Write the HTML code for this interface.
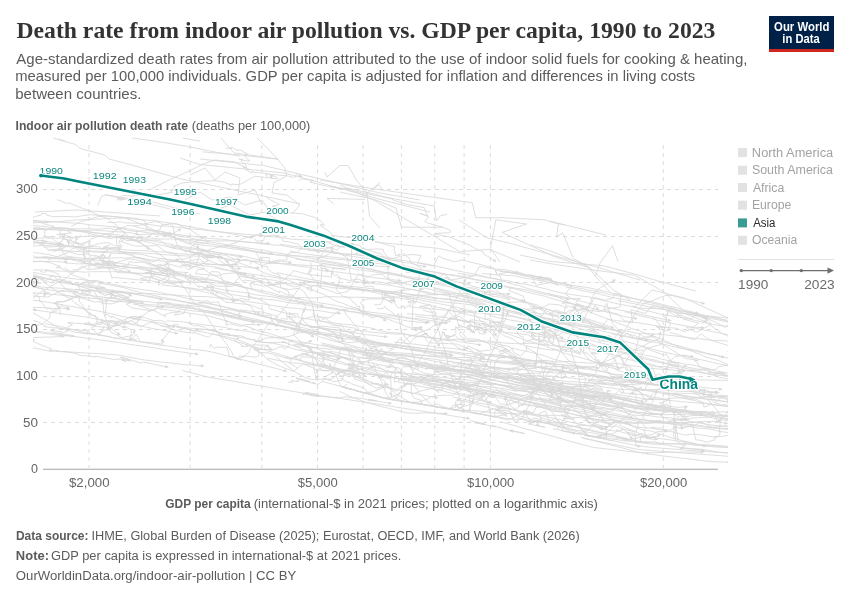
<!DOCTYPE html>
<html><head><meta charset="utf-8"><title>Death rate from indoor air pollution vs. GDP per capita</title>
<style>
html,body{margin:0;padding:0;background:#fff;}
body{width:850px;height:600px;overflow:hidden;position:relative;}
svg{position:absolute;left:0;top:0;display:block;}
</style></head><body>
<svg width="850" height="600" viewBox="0 0 850 600">
<rect x="769" y="16" width="65" height="36" fill="#002147"/>
<rect x="769" y="49" width="65" height="3" fill="#ce261e"/>
<rect x="738" y="148.1" width="9" height="9" fill="#e2e2e2"/>
<rect x="738" y="165.7" width="9" height="9" fill="#e2e2e2"/>
<rect x="738" y="183.0" width="9" height="9" fill="#e2e2e2"/>
<rect x="738" y="200.7" width="9" height="9" fill="#e2e2e2"/>
<rect x="738" y="218.4" width="9" height="9" fill="#3a9b94"/>
<rect x="738" y="235.8" width="9" height="9" fill="#e2e2e2"/>
<line x1="738" x2="834" y1="259.5" y2="259.5" stroke="#e3e3e3" stroke-width="1"/>
<g fill="#6e6e6e" stroke="#6e6e6e">
<line x1="741" x2="829" y1="270.6" y2="270.6" stroke-width="1.2"/>
<circle cx="741.3" cy="270.6" r="1.7" stroke="none"/>
<circle cx="771.2" cy="270.6" r="1.7" stroke="none"/>
<circle cx="801.3" cy="270.6" r="1.7" stroke="none"/>
<path d="M827.5,267.4 L834,270.6 L827.5,273.8 Z" stroke="none"/>
</g>
<g stroke="#dcdcdc" stroke-width="1" stroke-dasharray="4,4" fill="none">
<line x1="43" x2="718" y1="189.5" y2="189.5"/>
<line x1="43" x2="718" y1="236.5" y2="236.5"/>
<line x1="43" x2="718" y1="282.5" y2="282.5"/>
<line x1="43" x2="718" y1="329.5" y2="329.5"/>
<line x1="43" x2="718" y1="376.5" y2="376.5"/>
<line x1="43" x2="718" y1="422.5" y2="422.5"/>
<line x1="89.00" x2="89.00" y1="145" y2="468"/>
<line x1="190.12" x2="190.12" y1="145" y2="468"/>
<line x1="261.87" x2="261.87" y1="145" y2="468"/>
<line x1="317.52" x2="317.52" y1="145" y2="468"/>
<line x1="362.99" x2="362.99" y1="145" y2="468"/>
<line x1="401.43" x2="401.43" y1="145" y2="468"/>
<line x1="434.73" x2="434.73" y1="145" y2="468"/>
<line x1="464.11" x2="464.11" y1="145" y2="468"/>
<line x1="490.38" x2="490.38" y1="145" y2="468"/>
<line x1="663.25" x2="663.25" y1="145" y2="468"/>
</g>
<line x1="43" x2="718" y1="469.2" y2="469.2" stroke="#a4a4a4" stroke-width="1.1"/>
<clipPath id="pc"><rect x="33" y="137" width="695" height="332"/></clipPath>
<g clip-path="url(#pc)"><g fill="none" stroke="#d8d8d8" stroke-width="0.85" stroke-linejoin="round"><path d="M274.8,355.4 L282.1,361.9 L290.4,368.2 L296.0,372.6 L304.5,377.1 L309.6,378.9 L314.9,379.8 L320.1,379.2 L330.1,379.1 L329.2,379.6 L333.9,377.5 L340.9,371.8 L343.0,371.5 L356.8,364.7 L365.5,361.6 L365.6,361.3 L372.2,360.1 L375.9,358.5 L378.6,357.4 L385.2,354.2 L389.5,351.0 L399.1,345.5 L402.2,342.7 L406.6,339.1 L408.8,336.5 L415.0,335.1 L420.0,332.3 L427.3,329.9 L429.4,328.5 L433.8,325.8 L442.9,323.4 L450.1,317.8 L455.2,316.2 L464.2,311.1"/><path d="M409.0,306.6 L422.1,308.2 L435.2,309.1 L444.5,309.9 L456.5,311.3 L466.0,311.8 L474.4,312.9 L481.5,313.4 L490.9,313.9 L502.6,315.1 L516.0,317.0 L529.0,319.4 L539.7,320.4 L554.2,323.3 L562.6,323.9 L570.9,324.7 L583.0,326.3 L592.3,327.1 L604.1,328.3 L615.2,330.5 L627.4,331.1 L637.4,333.5 L644.5,333.4 L653.1,333.8 L661.9,334.4 L676.2,336.1 L689.0,337.7 L700.2,338.9 L712.1,340.3 L719.0,340.4 L727.0,341.1 L737.4,342.0 L746.1,342.3 L756.7,342.9"/><path d="M650.9,427.2 L658.3,428.3 L660.9,427.7 L664.1,429.9 L667.3,429.7 L670.1,430.4 L675.1,427.2 L681.6,428.2 L692.8,425.8 L695.6,439.8 L701.0,440.3 L706.8,442.3 L714.9,439.7 L715.4,436.0 L715.0,437.3 L716.8,436.9 L718.0,435.9 L719.7,435.0 L720.2,431.3 L719.3,432.1 L720.7,418.4 L725.5,415.6 L727.5,411.1 L728.2,412.8 L731.7,405.1 L736.3,402.9 L728.1,403.7 L727.5,399.6 L729.9,397.2 L733.4,406.3 L733.8,406.1 L738.2,405.1 L742.2,399.6 L740.5,396.8"/><path d="M476.8,348.6 L478.3,351.7 L479.3,351.0 L483.5,354.9 L494.5,354.6 L498.2,355.2 L508.9,350.9 L512.1,348.5 L513.9,352.6 L520.4,356.0 L526.9,350.0 L526.0,345.5 L531.2,346.9 L532.9,347.2 L553.3,350.4 L552.6,348.7 L561.5,350.4 L571.3,348.6 L579.0,344.8 L589.5,343.2 L598.5,346.9 L609.8,352.5 L613.2,356.8 L614.0,359.4 L617.0,354.7 L622.3,358.1 L624.0,364.8 L630.9,367.5 L630.4,369.8 L633.2,373.7 L634.0,374.2 L638.6,377.1 L641.2,375.7 L647.4,375.0"/><path d="M176.8,258.3 L178.0,261.7 L184.3,262.4 L199.6,258.9 L200.2,259.2 L205.0,264.1 L217.7,264.5 L222.3,264.4 L229.1,265.1 L234.9,271.9 L243.3,275.7 L260.7,281.0 L264.6,278.1 L274.7,285.7 L268.6,284.4 L284.0,283.6 L294.2,286.9 L300.0,285.7 L298.1,284.6 L303.9,282.0 L311.3,287.3 L312.1,291.3 L306.6,288.4 L314.2,285.5 L328.2,290.2 L337.7,293.6 L347.9,291.5 L358.6,273.8 L368.0,277.2 L372.3,275.0 L382.1,274.1 L385.8,277.7 L391.3,279.5 L399.3,280.6"/><path d="M457.6,273.1 L468.3,275.1 L478.0,275.8 L485.5,277.3 L492.2,278.5 L502.5,280.0 L509.1,281.0 L516.6,283.1 L526.1,284.3 L535.0,286.4 L545.9,288.9 L557.3,292.0 L565.8,293.6 L571.6,294.5 L582.5,296.2 L587.6,296.6 L597.9,299.1 L604.3,300.7 L613.5,302.8 L620.1,304.4 L628.8,305.9 L637.8,308.0 L644.4,310.4 L650.1,311.4 L660.6,314.2 L668.9,315.6 L677.9,317.0 L683.8,318.0 L694.3,320.2 L706.1,322.8 L712.8,324.6 L720.9,325.6 L727.6,326.2 L737.5,328.1"/><path d="M374.4,304.8 L380.4,304.7 L383.8,298.2 L392.3,303.2 L388.4,300.9 L393.7,299.8 L393.8,296.5 L393.2,297.0 L393.5,299.5 L393.0,300.6 L384.6,294.5 L385.7,292.4 L382.3,292.6 L382.4,298.9 L390.5,300.8 L393.8,302.0 L398.3,308.1 L404.4,305.9 L404.2,308.6 L406.9,306.9 L411.2,303.8 L408.6,301.0 L408.0,302.5 L411.3,301.6 L415.5,303.0 L417.2,298.3 L420.6,287.2 L420.8,287.7 L420.5,290.4 L420.9,289.9 L422.6,289.1 L424.6,288.2 L425.3,283.0 L427.9,279.2"/><path d="M267.3,358.2 L282.3,361.2 L292.6,363.0 L300.0,363.3 L309.5,364.9 L317.2,365.4 L329.0,368.1 L341.6,370.3 L354.0,372.5 L360.5,373.0 L373.4,375.1 L386.0,377.0 L399.1,378.4 L409.3,378.8 L417.4,379.0 L424.2,379.4 L435.3,380.2 L444.3,380.1 L458.2,381.9 L468.0,382.2 L481.9,384.0 L490.2,384.5 L499.0,384.7 L508.8,385.6 L519.1,387.0 L527.7,388.2 L537.1,389.1 L547.8,390.0 L557.2,391.3 L571.2,393.0 L578.1,393.4 L586.7,394.8 L598.3,397.8 L610.2,399.1"/><path d="M26.1,299.5 L41.0,301.1 L57.2,303.9 L71.4,306.4 L83.8,308.8 L94.0,310.3 L104.9,312.4 L112.1,313.9 L121.4,316.3 L130.3,317.8 L146.8,320.8 L162.6,323.4 L170.8,325.9 L181.6,328.0 L191.8,330.3 L203.5,332.1 L218.0,335.3 L227.2,338.7 L240.2,342.6 L250.8,346.0 L262.2,349.1 L274.9,353.0 L291.4,357.9 L307.9,363.3 L321.3,366.9 L334.4,370.4 L349.2,374.9 L360.6,379.1 L372.0,382.6 L380.1,385.4 L396.2,389.4 L406.7,391.8 L421.2,394.8 L436.1,397.7"/><path d="M47.8,250.1 L60.2,250.7 L74.1,251.4 L84.2,251.9 L92.5,251.1 L106.7,251.6 L117.2,252.0 L128.4,252.6 L136.3,252.7 L147.5,253.3 L154.2,253.7 L162.8,254.5 L174.0,255.3 L184.7,255.9 L193.2,256.0 L204.1,256.3 L212.1,257.0 L222.9,258.1 L229.2,259.2 L243.3,260.2 L257.4,261.9 L268.0,263.1 L278.0,263.6 L286.1,263.6 L296.3,264.7 L310.2,265.6 L319.7,265.8 L326.2,264.8 L337.6,265.2 L351.1,266.0 L359.8,266.2 L367.3,265.1 L380.4,266.5 L388.5,266.7"/><path d="M-85.7,279.7 L-80.3,283.5 L-77.7,287.8 L-71.3,291.8 L-62.7,297.1 L-58.5,299.9 L-47.9,307.3 L-37.3,313.5 L-33.7,318.0 L-27.9,322.0 L-18.1,322.7 L-16.8,322.6 L-11.8,321.5 L-14.9,322.4 L-20.0,323.2 L-11.0,320.2 L-9.1,318.0 L-5.9,317.2 L-3.1,316.3 L4.4,311.0 L2.6,312.6 L13.1,306.4 L22.0,302.9 L32.7,298.3 L40.4,292.5 L54.9,284.0 L65.4,278.7 L70.2,274.6 L77.1,270.7 L78.1,269.9 L87.6,265.2 L92.4,260.5 L100.0,256.2 L102.1,255.5"/><path d="M377.7,307.5 L378.0,309.0 L380.9,308.3 L382.3,308.7 L385.3,306.4 L385.5,307.7 L393.2,313.3 L393.7,313.7 L395.2,315.8 L396.1,316.5 L398.5,313.6 L401.5,333.1 L404.5,335.1 L404.2,336.0 L410.3,342.9 L414.1,338.0 L427.2,333.1 L422.6,335.0 L429.0,342.7 L438.3,343.3 L448.6,343.6 L456.8,344.2 L471.4,349.7 L475.3,357.1 L476.0,353.6 L482.7,357.4 L479.7,360.3 L480.7,356.0 L480.4,357.0 L481.3,359.3 L480.1,361.2 L479.1,360.2 L484.9,363.2 L486.5,364.9"/><path d="M433.0,320.2 L442.1,316.8 L446.1,314.5 L448.7,309.5 L449.4,312.5 L457.1,319.5 L466.8,322.4 L467.1,323.0 L469.7,320.3 L473.1,319.9 L485.1,322.0 L490.9,327.8 L489.5,321.7 L495.8,324.3 L499.7,329.7 L505.5,332.5 L513.1,333.0 L518.4,333.8 L527.6,334.6 L534.5,339.0 L532.7,339.2 L536.0,340.2 L538.0,339.4 L543.1,340.9 L544.6,333.8 L544.7,329.5 L552.3,335.6 L553.7,334.4 L551.6,331.4 L549.4,330.1 L548.3,330.3 L555.8,334.6 L561.8,336.8 L562.1,337.9"/><path d="M542.3,344.5 L538.6,341.5 L541.0,341.3 L548.8,345.8 L545.0,340.3 L544.5,337.7 L545.3,336.5 L541.5,328.9 L557.2,324.5 L557.4,322.9 L560.2,323.2 L562.1,318.6 L565.4,319.4 L569.6,314.9 L571.9,316.0 L575.7,311.7 L578.1,311.0 L584.1,308.8 L589.9,306.8 L594.2,297.5 L605.9,300.3 L613.4,297.7 L614.3,293.6 L621.0,294.7 L620.3,306.9 L603.6,309.7 L606.8,303.2 L612.5,323.1 L621.3,333.1 L621.7,337.6 L626.7,333.4 L635.3,338.1 L646.7,338.2 L652.4,335.0"/><path d="M206.6,286.8 L215.4,288.2 L222.2,289.6 L230.9,290.8 L239.0,291.9 L249.2,293.2 L255.5,294.8 L261.3,295.5 L266.5,296.1 L275.5,297.3 L280.1,298.6 L286.6,300.1 L296.8,302.0 L304.6,303.2 L310.0,303.9 L319.6,305.8 L328.3,307.6 L335.0,308.1 L341.6,309.6 L350.2,311.4 L360.8,312.8 L366.1,313.4 L374.3,314.8 L379.2,315.3 L386.5,316.2 L391.9,315.8 L398.9,317.4 L404.4,317.9 L411.7,318.4 L419.2,318.8 L429.1,320.4 L435.3,321.5 L440.9,322.5 L445.8,323.0"/><path d="M-95.9,237.6 L-84.9,238.5 L-73.5,239.8 L-61.0,241.1 L-52.5,242.0 L-42.2,243.0 L-34.1,244.1 L-22.3,245.3 L-9.2,246.5 L0.1,247.0 L11.3,248.5 L20.0,250.2 L27.9,251.3 L34.4,252.6 L48.6,254.5 L56.5,256.6 L66.2,258.4 L75.0,260.6 L88.9,263.7 L95.6,265.6 L108.0,268.1 L117.2,269.8 L128.3,272.2 L138.0,274.5 L145.3,276.6 L153.2,278.5 L161.7,280.7 L172.6,284.2 L183.1,287.4 L193.7,289.5 L202.9,291.4 L209.7,293.4 L220.7,297.0 L233.4,300.7"/><path d="M35.3,257.5 L40.9,258.0 L49.8,258.5 L57.7,258.8 L65.5,258.9 L70.4,258.9 L76.7,259.2 L82.0,259.4 L86.5,259.0 L90.6,259.1 L96.5,258.2 L101.3,258.0 L107.7,258.4 L111.9,258.0 L118.5,257.6 L125.6,258.1 L131.9,257.7 L141.1,258.2 L150.4,259.8 L159.3,260.7 L167.6,261.8 L173.7,261.6 L182.6,261.6 L190.8,262.5 L197.4,262.8 L202.8,263.4 L211.9,264.4 L218.4,264.8 L226.9,265.4 L231.6,266.1 L240.3,266.4 L247.4,267.2 L252.1,267.8 L257.8,267.8"/><path d="M159.1,308.8 L166.2,309.7 L172.8,310.7 L179.9,311.8 L188.6,313.0 L199.0,314.5 L210.9,316.6 L223.5,320.1 L232.5,322.7 L243.0,325.5 L252.3,328.3 L258.0,330.7 L267.2,332.8 L276.6,335.8 L283.0,338.0 L294.5,342.0 L304.0,345.3 L315.4,348.1 L322.2,350.7 L331.6,353.0 L344.3,357.4 L355.6,361.1 L363.8,364.1 L375.0,367.1 L385.9,370.3 L391.8,371.9 L398.6,373.0 L407.9,375.0 L420.6,377.8 L430.5,380.1 L441.3,382.4 L452.7,385.3 L459.1,386.7 L469.9,388.9"/><path d="M406.9,313.8 L414.3,314.1 L420.7,315.1 L428.6,315.6 L434.5,315.9 L439.6,317.0 L445.6,317.6 L452.9,319.1 L460.1,320.0 L466.8,321.2 L476.0,322.7 L480.3,323.4 L486.0,324.1 L491.4,325.3 L496.2,326.0 L504.4,327.6 L510.2,328.7 L519.4,330.5 L527.9,332.6 L537.2,333.8 L543.7,334.7 L549.7,336.0 L556.8,337.4 L563.6,339.2 L569.8,340.6 L578.3,342.6 L583.6,343.9 L589.7,345.1 L594.1,345.9 L602.7,347.6 L610.3,348.7 L615.4,349.0 L623.6,350.0 L631.0,352.3"/><path d="M133.4,304.2 L144.0,305.7 L154.5,306.4 L163.2,307.1 L174.7,308.0 L182.2,309.5 L192.5,310.9 L203.4,311.8 L210.1,313.0 L217.3,315.0 L223.6,315.9 L235.3,318.5 L247.7,320.9 L253.8,321.9 L259.7,321.9 L266.0,322.9 L272.3,324.3 L285.4,327.1 L296.2,329.5 L303.5,331.4 L311.7,332.8 L323.1,334.4 L332.0,336.0 L343.3,338.7 L350.7,339.4 L363.5,342.4 L369.8,343.0 L375.9,344.0 L388.5,346.2 L400.9,348.2 L410.7,349.5 L423.1,351.2 L431.1,352.4 L442.7,353.6"/><path d="M295.5,259.0 L300.3,259.7 L306.9,260.7 L313.4,261.4 L318.5,262.9 L326.2,263.7 L335.1,265.4 L342.3,266.9 L348.7,267.8 L357.7,269.5 L367.0,270.8 L371.9,271.4 L379.4,272.8 L386.5,273.6 L393.8,275.0 L400.8,276.0 L408.5,278.1 L416.7,279.3 L423.7,280.5 L430.6,281.7 L439.2,283.5 L444.3,284.4 L449.5,284.9 L453.7,286.1 L460.2,286.7 L469.7,287.6 L475.9,288.4 L481.5,290.5 L490.4,293.1 L497.7,295.2 L505.4,296.9 L511.4,298.2 L517.0,299.7 L522.4,300.5"/><path d="M431.7,287.3 L441.9,289.5 L450.2,291.4 L460.1,294.3 L466.6,296.0 L480.0,299.2 L493.0,302.1 L503.7,305.2 L516.7,309.1 L527.0,312.7 L538.8,316.1 L547.7,318.8 L553.7,320.8 L561.9,322.9 L569.8,325.7 L582.6,329.4 L588.7,331.3 L600.1,334.4 L607.4,336.7 L615.3,338.9 L622.8,340.6 L634.0,343.8 L641.5,346.0 L651.1,348.8 L661.0,351.4 L673.5,354.2 L687.0,356.9 L697.4,358.9 L706.2,360.9 L719.5,363.9 L728.8,365.9 L738.5,368.4 L747.5,370.1 L760.7,372.7"/><path d="M214.6,311.3 L219.8,313.2 L225.0,314.7 L230.6,316.6 L240.2,318.2 L249.1,319.7 L254.5,320.8 L259.6,322.2 L264.4,323.4 L271.4,324.5 L276.5,325.2 L285.8,327.4 L291.7,328.1 L299.3,329.2 L309.3,331.0 L314.6,331.5 L320.8,332.4 L328.8,333.6 L334.1,334.7 L344.5,336.6 L349.4,337.9 L359.6,340.0 L370.1,341.7 L379.5,343.2 L389.7,345.6 L396.2,346.7 L403.8,348.7 L411.9,349.7 L416.7,349.9 L421.3,350.6 L427.4,351.6 L437.9,352.4 L445.8,353.1 L451.3,354.8"/><path d="M433.5,371.6 L439.9,373.2 L445.9,374.3 L450.3,375.5 L458.1,376.4 L465.4,377.0 L472.5,378.4 L480.9,379.8 L485.5,381.5 L489.9,383.3 L494.3,383.6 L499.5,385.3 L508.7,386.4 L517.6,388.3 L526.7,389.0 L532.6,389.1 L540.6,391.2 L549.5,392.3 L556.0,394.4 L564.0,395.9 L568.6,397.2 L575.9,398.9 L583.2,400.8 L590.4,403.6 L599.7,404.5 L609.2,406.7 L614.8,407.1 L619.1,407.9 L627.5,409.7 L632.8,411.4 L641.4,412.7 L650.8,413.5 L656.4,414.0 L662.0,414.4"/><path d="M160.3,302.7 L168.0,303.4 L175.9,304.2 L184.1,305.1 L193.2,306.1 L199.6,306.6 L203.6,307.1 L210.3,308.3 L214.4,308.8 L219.9,309.6 L224.9,309.5 L230.4,309.7 L239.1,311.7 L248.3,312.6 L255.5,314.4 L263.8,316.4 L272.1,318.4 L280.0,320.0 L286.1,321.5 L291.3,322.1 L297.8,323.5 L303.2,324.8 L310.1,326.2 L316.2,327.5 L324.6,328.9 L333.7,329.7 L341.8,331.0 L348.5,332.3 L356.0,333.1 L364.7,334.5 L369.1,335.0 L373.9,335.3 L380.2,336.4 L385.4,336.7"/><path d="M-1.8,225.1 L5.0,224.4 L12.7,223.9 L21.1,223.4 L30.8,223.1 L37.3,222.5 L46.7,222.3 L52.9,221.9 L60.1,221.5 L65.2,221.0 L71.5,220.5 L77.6,219.9 L84.9,219.6 L94.0,219.3 L103.0,218.9 L112.2,218.4 L117.7,218.2 L125.2,218.1 L135.4,219.1 L143.5,219.9 L148.3,220.2 L155.3,220.6 L160.0,221.6 L168.1,222.7 L177.9,224.5 L187.2,226.1 L195.0,227.7 L204.5,229.2 L210.1,230.4 L218.3,231.7 L226.2,232.9 L232.1,234.0 L241.9,235.7 L251.1,237.5"/><path d="M-109.8,231.2 L-99.1,231.2 L-89.3,230.7 L-82.3,230.4 L-75.7,230.3 L-68.3,230.3 L-60.2,230.3 L-55.0,229.7 L-47.5,229.5 L-39.9,229.5 L-33.4,229.5 L-26.7,229.4 L-20.2,229.1 L-12.5,229.1 L-2.7,228.7 L7.0,228.8 L13.8,228.7 L18.8,229.0 L25.6,228.9 L33.4,229.0 L41.9,229.5 L48.8,229.7 L55.8,229.7 L65.3,230.0 L70.9,230.2 L81.2,230.8 L86.1,230.5 L94.2,230.2 L99.1,230.6 L104.6,230.8 L114.8,231.6 L125.4,232.2 L130.8,232.9 L136.9,234.1"/><path d="M-89.2,244.0 L-77.4,244.1 L-73.8,243.2 L-61.4,241.8 L-51.5,239.1 L-46.3,238.4 L-41.0,237.3 L-40.8,239.0 L-33.5,236.5 L-22.3,235.1 L-12.6,233.6 L-9.0,232.3 L-0.8,232.1 L8.0,231.7 L19.7,230.6 L30.6,230.5 L38.7,229.6 L43.8,227.9 L44.3,229.4 L51.2,228.2 L64.5,228.3 L71.6,228.9 L77.8,228.8 L92.1,228.8 L98.0,229.2 L109.7,228.1 L115.0,229.8 L120.8,227.9 L128.5,230.6 L138.1,231.7 L136.4,231.2 L148.5,230.6 L161.1,231.2 L169.9,233.2"/><path d="M611.2,333.7 L617.4,334.9 L624.9,336.6 L634.5,338.4 L646.4,341.0 L658.5,342.9 L666.3,344.9 L674.8,346.9 L684.9,349.1 L696.5,351.4 L703.6,352.9 L713.0,354.6 L720.4,356.3 L728.3,358.2 L734.4,359.0 L743.1,359.6 L752.8,360.7 L763.5,361.9 L776.4,363.1 L783.2,364.1 L791.9,365.4 L802.0,366.1 L809.0,366.1 L816.3,365.9 L824.2,365.3 L832.1,364.6 L838.9,364.5 L852.3,365.0 L864.0,365.3 L871.0,364.9 L884.6,365.3 L891.6,364.6 L901.1,364.9 L912.0,365.2"/><path d="M463.6,296.8 L481.2,302.5 L486.3,304.7 L500.9,309.1 L501.9,309.7 L498.6,309.4 L496.7,313.0 L496.9,311.5 L506.2,306.8 L502.8,302.9 L534.6,311.7 L541.9,316.0 L546.0,309.0 L555.6,312.1 L563.6,314.1 L569.8,310.3 L585.6,308.6 L587.0,309.8 L598.1,311.6 L605.3,310.7 L618.4,314.3 L624.3,320.8 L644.8,323.8 L665.8,327.6 L656.2,326.6 L659.9,329.0 L657.5,326.2 L658.5,326.8 L675.8,328.2 L679.6,329.5 L684.0,331.5 L689.8,329.9 L686.1,326.9 L702.1,327.6"/><path d="M285.4,357.3 L291.0,358.4 L297.5,359.5 L305.6,361.7 L312.5,363.4 L319.0,364.8 L324.3,365.2 L330.8,366.8 L341.9,369.4 L352.4,371.3 L361.8,373.0 L367.3,373.3 L373.1,374.6 L379.9,375.3 L390.7,377.0 L398.2,378.3 L403.6,378.8 L412.4,379.7 L421.6,380.7 L427.5,381.3 L433.9,381.5 L440.0,382.1 L449.9,382.7 L455.7,383.3 L462.9,384.0 L469.6,384.4 L480.2,386.1 L487.0,386.8 L495.9,387.6 L504.2,388.8 L514.7,390.8 L521.9,390.8 L527.2,391.5 L532.9,391.9"/><path d="M197.7,302.1 L204.7,303.2 L214.7,304.9 L223.8,306.8 L229.2,307.9 L237.8,310.1 L248.3,312.9 L253.7,314.0 L259.2,315.5 L267.7,317.1 L275.1,319.2 L284.1,321.0 L292.9,322.4 L301.3,324.4 L309.3,326.1 L314.7,326.5 L324.7,329.1 L330.0,331.0 L335.0,332.0 L342.4,333.8 L350.8,335.6 L355.9,337.2 L366.4,339.4 L376.3,342.0 L385.8,343.9 L396.6,344.7 L402.9,346.4 L413.0,348.4 L419.7,349.9 L425.1,350.7 L430.5,351.7 L440.2,353.6 L445.9,354.5 L450.8,355.2"/><path d="M-50.9,248.3 L-40.6,248.7 L-18.9,250.2 L-9.2,252.7 L-2.5,248.3 L-0.3,237.3 L-2.1,254.1 L3.6,253.0 L0.0,253.3 L5.8,252.9 L17.2,253.0 L21.1,254.9 L22.1,251.2 L26.0,252.1 L35.8,257.1 L49.0,257.5 L76.4,259.7 L90.1,261.9 L89.0,265.2 L91.5,266.1 L97.0,263.0 L104.2,263.3 L127.8,267.8 L141.3,267.9 L152.9,271.1 L160.0,274.4 L160.9,274.2 L164.4,272.6 L166.0,269.6 L169.4,279.2 L166.0,281.1 L173.6,283.3 L176.8,282.9 L181.0,282.4"/><path d="M669.8,332.3 L671.0,332.7 L694.3,339.7 L701.6,333.6 L705.6,337.5 L711.4,340.3 L731.6,346.6 L727.7,351.4 L733.5,344.4 L743.5,343.5 L753.0,347.1 L756.6,349.1 L762.8,351.2 L770.3,349.3 L770.8,351.7 L775.8,354.8 L800.4,354.8 L805.1,357.7 L816.4,360.2 L821.0,363.7 L836.0,363.3 L856.3,360.6 L858.4,364.2 L865.9,366.3 L873.0,368.0 L878.1,363.9 L878.0,379.6 L884.1,382.0 L900.2,379.3 L907.5,374.9 L909.4,374.5 L890.1,371.3 L899.2,374.0 L924.9,375.1"/><path d="M240.2,276.4 L247.2,277.6 L256.8,278.2 L261.2,278.6 L269.4,279.7 L274.7,280.4 L283.2,282.8 L287.8,283.5 L297.7,284.5 L302.6,284.6 L310.5,285.2 L319.5,285.7 L327.0,286.5 L332.4,287.7 L339.2,288.3 L347.2,288.8 L354.9,289.6 L362.6,290.4 L367.5,290.4 L374.6,291.0 L379.7,291.7 L386.5,291.4 L395.7,292.9 L405.4,293.7 L411.6,294.8 L417.1,295.9 L424.9,297.1 L431.7,298.2 L440.5,298.7 L448.9,299.7 L455.7,300.9 L462.3,301.6 L471.4,303.1 L480.4,305.3"/><path d="M12.8,281.5 L13.9,279.2 L16.9,277.4 L21.3,279.4 L18.1,279.7 L28.8,281.4 L32.3,279.4 L28.4,279.0 L36.3,282.5 L41.3,283.2 L29.9,281.7 L34.8,277.2 L50.7,279.4 L49.5,276.9 L53.7,276.0 L58.5,281.2 L63.4,286.9 L68.2,290.8 L78.3,292.0 L73.2,293.7 L77.2,295.3 L79.7,296.6 L79.2,301.3 L82.6,305.0 L84.5,309.3 L89.3,314.3 L89.8,312.6 L91.2,315.5 L95.6,315.7 L97.2,321.1 L95.6,323.7 L107.0,320.8 L114.9,323.9 L123.8,327.2"/><path d="M487.6,340.3 L491.8,342.3 L495.7,343.4 L500.6,344.8 L507.8,346.2 L511.0,347.8 L515.5,348.8 L518.7,349.8 L522.2,350.5 L528.2,351.7 L532.5,352.7 L538.6,354.4 L543.7,355.5 L548.7,357.4 L554.5,359.5 L561.2,361.1 L565.8,362.1 L569.2,363.6 L572.4,364.9 L577.0,366.3 L580.7,366.6 L586.2,367.7 L593.1,369.1 L600.0,371.1 L604.2,372.0 L609.0,373.3 L614.5,374.8 L617.6,375.5 L621.5,377.4 L627.8,378.9 L634.5,380.0 L640.7,381.5 L645.8,382.6 L650.9,383.3"/><path d="M493.5,336.9 L498.7,341.8 L502.6,346.1 L513.1,356.7 L516.0,358.7 L524.5,368.1 L523.9,364.3 L530.5,370.0 L539.8,382.8 L541.5,384.4 L547.1,389.0 L548.4,389.6 L553.8,396.6 L553.0,395.8 L558.1,401.6 L562.0,407.8 L572.8,420.1 L577.7,423.7 L581.8,429.6 L587.0,435.5 L592.1,436.9 L599.8,437.5 L598.8,437.8 L594.5,437.3 L598.2,437.8 L609.1,430.8 L618.5,422.4 L629.8,413.8 L634.6,410.1 L648.5,399.1 L654.2,392.2 L662.9,385.5 L674.5,375.4 L685.0,366.1"/><path d="M608.1,349.9 L612.7,353.4 L614.5,348.2 L622.9,347.8 L635.1,353.1 L639.7,334.2 L643.3,336.7 L654.7,337.1 L658.9,341.9 L686.1,358.7 L698.5,360.2 L694.5,360.6 L696.9,362.1 L700.1,368.0 L706.2,368.4 L709.9,369.2 L708.4,372.4 L713.8,373.1 L718.6,373.3 L714.3,374.3 L725.1,373.1 L717.5,372.0 L724.2,376.2 L727.7,376.3 L734.6,368.8 L735.8,367.7 L738.1,371.1 L747.3,372.6 L753.8,374.9 L768.5,378.6 L773.7,376.0 L783.0,373.3 L785.1,377.1 L791.2,372.9"/><path d="M323.1,252.2 L321.2,255.8 L316.9,259.1 L328.1,254.6 L331.0,251.7 L338.5,252.7 L347.4,257.7 L351.3,280.1 L358.3,279.2 L368.8,283.2 L367.5,280.5 L365.7,283.6 L364.7,278.0 L364.1,283.5 L369.4,282.0 L377.3,281.6 L388.3,283.9 L396.6,283.2 L402.5,282.8 L419.3,279.1 L424.7,283.9 L434.5,288.4 L444.1,291.2 L448.4,292.4 L459.2,326.8 L458.6,324.5 L468.8,329.1 L467.3,325.6 L480.9,328.0 L485.4,329.8 L478.8,327.7 L494.1,326.0 L498.9,332.7 L502.8,315.0"/><path d="M-63.8,253.5 L-62.3,253.1 L-61.0,253.6 L-57.5,254.4 L-52.6,255.7 L-48.3,257.9 L-40.6,262.9 L-43.0,260.8 L-46.8,260.2 L-46.7,258.2 L-9.6,263.3 L-8.3,263.8 L-4.0,266.3 L-0.6,268.4 L-0.7,268.8 L2.6,271.0 L0.3,275.1 L6.1,277.1 L6.2,275.2 L10.3,281.6 L15.6,282.4 L19.6,287.8 L22.8,289.7 L25.9,289.1 L28.7,293.0 L24.9,295.6 L24.1,294.3 L21.8,297.5 L26.3,301.6 L25.0,303.8 L29.1,304.1 L31.4,308.0 L30.7,308.1 L34.9,310.0"/><path d="M164.5,263.4 L164.4,264.1 L169.2,270.1 L171.4,273.8 L176.4,278.5 L179.1,281.2 L183.3,286.4 L189.0,293.8 L192.7,300.5 L196.6,305.3 L201.1,310.2 L201.4,310.5 L204.2,312.9 L211.1,323.4 L216.1,330.4 L220.0,335.7 L226.6,344.2 L231.8,352.3 L233.2,355.3 L236.7,359.3 L244.1,356.2 L247.5,353.5 L250.0,350.4 L250.7,348.5 L256.9,341.9 L263.3,331.9 L268.4,323.8 L272.0,320.5 L279.1,314.7 L286.0,306.4 L289.1,302.5 L293.8,295.1 L300.4,286.6 L304.2,283.0"/><path d="M-16.2,248.9 L-8.1,248.6 L0.2,248.0 L9.5,247.5 L16.4,246.5 L23.3,246.1 L30.2,246.2 L38.1,245.8 L43.6,245.2 L48.2,245.7 L54.2,246.2 L62.7,246.3 L69.0,246.8 L77.3,247.1 L81.4,247.8 L87.7,248.1 L97.0,248.7 L103.9,248.6 L113.3,248.9 L120.9,249.4 L128.9,250.2 L136.8,250.5 L143.4,250.7 L150.3,251.1 L157.7,251.9 L162.3,251.8 L170.3,252.5 L178.5,253.8 L187.6,254.2 L192.5,254.2 L199.3,254.6 L206.2,255.5 L210.9,255.9 L219.8,256.9"/><path d="M-71.8,262.6 L-74.2,262.2 L-62.1,259.7 L-53.5,258.3 L-50.6,260.4 L-46.0,257.9 L-37.1,256.9 L-37.0,258.5 L-32.5,256.8 L-28.5,261.2 L-27.0,260.2 L-20.2,256.0 L-18.6,253.3 L-14.4,255.6 L-10.4,254.7 L0.5,251.1 L2.8,251.7 L8.1,251.5 L10.9,253.1 L13.0,252.5 L13.2,254.6 L15.7,254.8 L19.2,251.0 L25.7,254.6 L28.4,253.3 L28.3,255.5 L31.0,258.3 L39.6,257.6 L44.8,256.5 L68.8,259.7 L66.0,257.1 L62.5,257.2 L63.7,258.0 L65.9,262.1"/><path d="M509.6,301.4 L506.9,305.0 L514.2,309.8 L520.6,315.1 L522.4,313.6 L522.1,309.4 L529.3,309.1 L537.5,308.5 L543.1,308.7 L532.7,306.0 L536.5,308.9 L536.9,307.9 L543.0,310.8 L549.3,314.9 L553.9,316.1 L557.9,314.8 L567.3,320.7 L567.9,315.5 L575.6,314.5 L579.2,313.0 L572.8,306.8 L576.5,304.8 L584.8,306.8 L563.6,301.6 L562.5,303.5 L562.5,304.1 L565.3,302.1 L563.9,303.1 L566.7,302.3 L563.9,313.0 L589.3,321.0 L600.1,342.1 L606.8,337.2 L609.5,336.5"/><path d="M188.4,323.1 L194.5,325.9 L197.3,325.5 L204.2,327.0 L207.5,329.0 L217.2,332.5 L220.9,334.5 L236.9,335.8 L237.7,339.2 L239.2,337.8 L234.6,340.3 L242.4,345.9 L243.2,346.2 L241.7,346.5 L247.5,346.4 L246.0,344.8 L256.1,348.3 L253.4,348.3 L257.3,347.9 L257.6,351.2 L263.4,354.8 L266.8,359.0 L277.6,365.2 L286.9,368.9 L293.8,371.4 L298.4,367.0 L303.9,364.0 L317.8,370.1 L326.6,370.8 L322.2,370.5 L331.2,370.5 L332.1,373.2 L335.3,363.1 L338.5,358.6"/><path d="M624.7,385.6 L632.4,387.1 L638.7,389.1 L643.2,389.6 L648.2,390.3 L655.6,391.0 L659.8,391.7 L664.6,392.4 L669.3,393.2 L674.3,394.5 L680.2,394.9 L684.5,395.6 L689.7,396.7 L696.8,397.4 L704.5,398.9 L711.5,399.4 L715.6,400.1 L723.2,401.3 L729.1,402.1 L733.6,402.5 L739.9,403.3 L746.2,404.2 L753.7,405.4 L760.7,405.7 L766.4,406.5 L774.7,407.3 L779.2,407.9 L786.8,408.3 L793.1,409.6 L797.6,410.7 L803.8,411.2 L809.7,410.9 L815.7,410.7 L820.8,409.8"/><path d="M470.7,283.3 L464.7,284.6 L464.7,287.6 L466.8,294.3 L467.0,297.8 L469.4,302.0 L472.7,305.2 L477.6,308.1 L480.4,310.3 L485.2,313.2 L485.0,319.9 L486.8,319.1 L490.5,318.6 L495.7,324.2 L518.7,329.5 L516.7,328.1 L515.4,328.8 L519.3,335.6 L522.9,336.8 L524.2,345.6 L530.1,349.8 L530.6,349.9 L536.0,352.9 L537.0,356.0 L543.4,361.7 L546.6,364.8 L545.8,367.3 L543.3,374.0 L543.4,380.7 L546.0,377.7 L548.2,385.2 L545.4,384.5 L551.1,388.8 L551.5,395.8"/><path d="M40.0,271.0 L43.5,272.4 L47.0,271.3 L45.9,269.7 L51.7,271.8 L53.9,272.1 L58.8,274.6 L60.2,279.1 L71.6,283.7 L79.3,284.8 L79.0,284.4 L83.6,282.3 L86.8,282.3 L96.2,288.7 L99.4,292.6 L100.2,290.1 L98.9,292.5 L104.4,295.5 L105.4,295.6 L106.4,295.4 L111.0,293.1 L112.6,295.2 L111.2,296.9 L107.0,299.5 L105.0,315.8 L106.1,314.2 L112.0,317.7 L111.7,316.2 L118.6,319.2 L121.2,319.7 L126.5,327.3 L131.5,330.2 L130.6,338.5 L130.3,339.1"/><path d="M180.2,265.5 L191.8,263.9 L202.5,265.3 L204.4,268.9 L197.6,269.8 L195.5,273.7 L219.1,275.8 L222.9,273.9 L236.2,272.7 L242.1,281.2 L245.3,280.2 L257.9,281.9 L260.6,280.9 L279.3,287.5 L289.3,289.5 L299.3,288.3 L303.5,291.2 L312.0,303.2 L315.7,321.5 L319.7,326.9 L317.8,327.8 L316.2,326.7 L322.8,326.2 L340.5,328.1 L340.1,337.2 L340.1,337.6 L346.3,342.7 L360.1,341.8 L365.7,344.9 L376.1,347.5 L375.9,350.5 L381.0,351.1 L381.0,348.5 L385.7,353.1"/><path d="M104.6,327.6 L84.0,324.1 L87.1,322.8 L95.7,326.0 L91.2,327.6 L94.1,330.7 L98.7,334.8 L99.2,335.6 L99.3,335.1 L100.5,333.3 L103.1,329.4 L103.2,326.7 L107.9,327.5 L110.9,329.3 L107.5,329.8 L107.3,326.9 L109.4,327.1 L112.2,326.9 L118.3,323.9 L114.0,321.6 L117.3,323.0 L116.9,324.2 L113.2,323.8 L115.6,323.4 L118.5,320.6 L120.9,322.1 L122.2,321.8 L126.7,321.7 L124.4,319.8 L128.8,323.4 L132.7,324.3 L137.0,323.2 L138.4,318.7 L139.7,317.1"/><path d="M279.7,244.2 L292.0,246.1 L303.8,247.5 L313.9,249.6 L323.0,251.5 L337.2,253.5 L343.9,254.9 L355.8,256.9 L366.0,258.4 L375.7,260.4 L388.8,263.6 L399.1,266.0 L407.9,268.9 L417.7,272.1 L431.3,274.8 L444.3,278.2 L454.0,281.0 L466.1,284.1 L475.1,286.9 L488.6,290.1 L498.3,293.2 L511.4,297.1 L519.6,300.3 L527.2,302.5 L536.3,304.7 L542.4,307.7 L555.6,311.7 L563.8,313.1 L576.2,316.5 L585.1,319.6 L597.3,324.4 L604.4,326.3 L612.5,328.8 L619.1,331.4"/><path d="M495.3,329.4 L504.7,332.8 L514.9,336.4 L527.2,340.7 L538.9,343.9 L547.8,346.9 L554.7,349.8 L563.5,352.9 L573.8,355.9 L587.8,359.5 L597.6,363.0 L604.7,365.6 L613.6,368.4 L624.1,372.3 L636.3,375.6 L647.3,378.1 L657.3,380.6 L669.2,383.4 L675.6,386.1 L681.8,388.0 L688.4,390.4 L698.2,392.8 L709.2,395.4 L715.4,396.6 L725.0,398.6 L735.0,400.2 L747.0,401.8 L757.4,404.1 L764.6,405.4 L771.9,406.6 L782.7,409.1 L789.3,411.2 L800.1,413.4 L808.1,414.8"/><path d="M314.0,310.0 L313.1,315.2 L321.9,317.4 L322.7,319.5 L325.6,318.5 L331.5,322.8 L335.4,325.2 L341.5,325.3 L345.3,330.6 L353.4,334.4 L354.7,337.1 L360.5,336.2 L355.3,337.5 L359.5,341.0 L366.8,343.3 L365.3,341.3 L363.1,343.9 L365.2,340.9 L369.3,344.4 L377.8,344.9 L378.5,345.7 L384.6,344.8 L390.0,348.8 L391.1,349.0 L394.8,344.6 L399.8,338.8 L410.0,345.8 L417.9,369.5 L417.3,363.5 L425.9,366.7 L435.1,370.1 L437.7,371.5 L439.2,371.6 L436.0,368.6"/><path d="M510.6,286.8 L509.0,290.5 L523.3,296.2 L525.4,301.7 L523.5,300.5 L539.2,308.1 L551.8,313.2 L555.5,333.7 L562.1,353.0 L567.9,360.0 L573.7,363.3 L576.9,365.4 L584.0,406.4 L585.9,414.1 L586.3,420.6 L603.3,426.5 L609.5,426.6 L617.3,426.0 L623.0,429.3 L629.0,433.6 L631.2,437.9 L640.1,442.8 L640.7,436.2 L652.0,434.7 L657.3,431.7 L665.9,431.8 L668.3,431.3 L670.2,431.3 L684.8,435.1 L694.1,434.0 L700.7,434.8 L712.9,437.0 L723.6,436.2 L735.2,433.4"/><path d="M-42.7,263.2 L-36.6,260.2 L-33.7,256.6 L-29.1,256.1 L2.1,253.5 L5.8,258.7 L12.5,258.2 L10.5,259.1 L16.8,262.0 L22.7,261.9 L33.7,261.1 L32.1,262.0 L40.6,261.0 L50.5,262.8 L61.0,266.9 L56.4,267.8 L57.2,266.7 L65.0,270.0 L73.2,275.5 L73.8,275.4 L89.1,280.5 L96.2,280.5 L103.4,281.9 L96.9,286.0 L105.1,287.9 L99.4,286.5 L99.6,287.3 L105.0,288.6 L107.0,291.2 L115.2,295.5 L121.7,295.1 L128.5,299.1 L132.4,301.4 L129.5,301.6"/><path d="M53.5,251.6 L59.3,249.4 L62.1,244.0 L58.5,243.1 L61.2,241.7 L64.5,236.7 L64.0,234.2 L72.8,238.6 L69.1,239.5 L72.6,242.6 L81.9,244.2 L83.7,247.3 L94.3,245.0 L99.8,243.4 L107.5,242.7 L115.1,245.6 L122.2,246.2 L118.5,242.4 L124.3,239.5 L118.6,237.6 L121.6,235.9 L125.9,240.5 L132.8,240.5 L142.7,240.2 L154.0,240.1 L159.4,240.2 L166.2,245.0 L174.6,247.8 L172.9,248.1 L177.4,247.8 L191.2,252.2 L196.9,254.3 L199.0,255.1 L197.7,247.0"/><path d="M98.3,282.9 L112.2,285.3 L123.9,287.7 L132.0,290.4 L140.3,292.5 L153.0,295.2 L161.5,297.1 L171.2,298.9 L183.1,301.5 L194.3,303.9 L203.8,305.4 L211.8,307.3 L225.6,311.3 L239.4,315.3 L250.4,318.2 L266.7,321.7 L274.7,323.9 L289.9,328.0 L297.6,330.7 L313.1,334.1 L321.4,337.4 L333.6,341.0 L343.6,343.5 L353.0,345.9 L365.3,349.3 L380.3,353.2 L392.8,356.1 L405.5,359.0 L419.3,361.7 L430.6,364.1 L439.6,366.5 L453.7,369.1 L469.2,372.6 L485.5,376.8"/><path d="M632.4,414.8 L641.3,415.7 L657.7,413.7 L669.7,420.5 L673.5,419.2 L674.0,431.0 L673.5,435.0 L674.0,437.4 L675.2,439.4 L682.9,446.3 L684.6,445.1 L684.4,442.3 L685.2,445.2 L681.3,449.1 L679.7,447.9 L687.8,448.5 L701.7,449.2 L719.4,452.3 L722.2,452.4 L736.9,454.0 L747.1,454.7 L763.7,455.9 L773.6,454.3 L778.6,456.0 L779.4,450.4 L789.8,449.6 L815.9,448.4 L822.8,451.7 L819.0,451.6 L817.0,451.9 L819.7,451.9 L828.5,453.3 L825.3,458.1 L829.2,457.3"/><path d="M521.5,373.8 L520.6,378.4 L528.1,381.2 L535.7,384.3 L538.4,384.8 L536.8,385.2 L548.1,394.8 L553.0,398.3 L558.9,397.4 L564.7,402.2 L572.7,400.6 L587.6,400.9 L586.2,402.1 L594.6,407.1 L592.0,408.7 L592.8,409.9 L591.5,407.9 L595.3,410.7 L599.9,412.1 L599.9,413.2 L587.0,416.8 L601.9,415.3 L605.5,414.7 L596.7,412.5 L606.1,416.1 L614.7,422.1 L620.2,422.4 L618.4,420.4 L620.4,425.8 L636.8,432.2 L636.4,432.8 L644.5,434.1 L650.6,438.3 L658.7,435.4"/><path d="M366.3,255.7 L378.5,255.9 L386.2,257.2 L399.1,259.8 L412.0,261.9 L419.7,263.0 L428.1,264.3 L437.1,266.3 L444.3,267.9 L455.1,270.4 L465.6,272.4 L477.4,274.5 L484.7,276.7 L493.1,278.3 L500.5,280.2 L507.8,282.6 L513.7,284.4 L520.0,285.9 L526.3,288.1 L534.8,290.3 L546.6,293.5 L556.0,295.5 L562.8,296.7 L570.8,298.5 L582.6,301.5 L588.6,303.2 L601.4,305.8 L612.2,308.2 L619.3,310.0 L628.2,311.6 L641.4,314.4 L653.3,317.1 L662.1,318.9 L669.2,320.3"/><path d="M193.0,243.7 L206.1,245.6 L218.8,246.7 L228.6,248.2 L235.6,249.2 L249.2,250.9 L257.9,252.7 L265.0,253.5 L274.3,254.5 L286.2,255.6 L296.6,256.0 L307.7,256.5 L321.0,257.5 L329.7,258.6 L343.4,259.8 L356.2,261.3 L370.7,262.9 L383.6,264.1 L395.8,266.1 L410.1,268.6 L421.2,270.5 L435.8,272.2 L443.0,274.0 L456.7,275.4 L465.2,277.0 L474.9,279.2 L489.6,281.9 L501.1,285.1 L508.8,286.8 L516.1,288.3 L524.4,289.5 L539.1,293.1 L553.9,296.1 L567.6,299.0"/><path d="M304.3,281.1 L316.6,282.6 L324.1,283.4 L331.6,283.8 L343.8,285.7 L354.2,286.7 L365.8,288.0 L372.2,288.8 L383.7,290.7 L390.4,291.4 L399.0,292.7 L405.9,293.5 L413.7,294.8 L419.9,295.3 L428.9,296.5 L440.7,298.8 L448.3,298.9 L455.4,300.4 L461.0,301.0 L466.7,301.5 L474.4,303.0 L483.3,305.7 L496.1,307.6 L502.1,309.0 L515.0,312.0 L524.1,314.1 L535.3,315.7 L544.7,317.8 L552.4,319.0 L563.9,321.2 L574.9,323.5 L582.3,324.5 L591.0,326.4 L603.9,328.0"/><path d="M255.9,253.5 L257.3,254.7 L259.2,258.6 L262.3,260.1 L260.3,261.6 L262.1,266.9 L263.3,266.2 L267.8,266.6 L267.1,268.5 L272.0,272.5 L279.8,275.2 L280.5,287.4 L288.3,291.0 L288.5,293.9 L293.3,295.6 L299.0,303.5 L303.0,302.1 L305.8,306.8 L303.5,312.9 L304.4,309.6 L304.2,308.4 L301.7,315.7 L303.5,321.1 L310.4,326.8 L313.4,329.8 L318.6,333.0 L343.8,343.9 L344.4,344.7 L349.1,350.1 L354.5,355.3 L352.6,358.5 L354.5,365.2 L358.3,371.6 L364.4,375.8"/><path d="M113.0,225.9 L125.1,232.7 L121.2,238.6 L119.1,241.1 L126.0,243.1 L135.6,246.2 L157.2,245.6 L166.3,252.2 L176.2,254.6 L179.9,257.4 L186.1,264.7 L201.9,268.1 L210.6,273.6 L224.8,281.0 L241.3,285.6 L247.5,290.2 L249.5,296.5 L257.2,298.3 L268.7,304.4 L269.3,308.8 L295.5,315.6 L296.7,317.1 L288.3,317.0 L296.7,324.3 L300.7,329.9 L296.7,332.4 L302.2,318.5 L298.6,322.0 L305.3,326.0 L307.3,325.5 L325.4,329.5 L339.2,335.6 L338.8,342.2 L342.9,340.9"/><path d="M456.4,379.4 L458.3,379.0 L452.6,380.3 L456.7,387.4 L453.7,389.0 L462.7,387.3 L468.3,387.1 L467.9,391.4 L471.0,390.9 L469.5,395.7 L470.2,412.2 L476.4,413.4 L476.4,413.7 L480.9,414.2 L490.7,416.3 L494.8,417.1 L494.9,411.4 L496.8,409.9 L508.6,411.2 L516.8,415.1 L518.0,417.6 L526.6,420.6 L531.3,424.3 L531.7,422.8 L541.5,419.9 L539.6,413.2 L545.4,410.8 L549.2,422.0 L554.8,418.0 L564.2,425.9 L561.3,430.8 L568.6,432.2 L574.0,433.4 L573.6,433.0"/><path d="M250.4,264.7 L251.3,261.1 L259.7,261.0 L260.4,257.2 L269.5,257.8 L269.1,263.9 L273.1,261.1 L279.2,259.8 L281.4,260.1 L287.0,260.0 L286.7,254.9 L290.7,252.5 L297.4,252.3 L300.8,248.8 L305.5,247.8 L309.0,247.5 L311.7,242.4 L316.4,244.3 L306.3,247.6 L306.0,242.2 L308.9,240.8 L305.7,240.1 L310.3,241.6 L317.6,242.7 L326.0,242.1 L328.8,243.3 L329.3,242.5 L330.6,242.8 L330.1,242.3 L330.3,243.9 L333.5,244.5 L337.0,246.1 L343.3,247.1 L343.9,246.4"/><path d="M652.5,316.5 L656.9,321.1 L664.3,331.1 L669.4,330.2 L669.0,326.5 L670.9,324.1 L666.6,321.1 L666.1,320.1 L664.4,316.4 L668.2,313.4 L666.9,311.1 L670.9,308.6 L672.6,308.0 L676.4,312.7 L678.1,315.5 L681.9,315.2 L683.9,316.8 L691.7,318.8 L695.7,313.8 L698.3,316.3 L697.2,315.0 L693.5,313.5 L697.4,313.2 L699.6,314.5 L704.7,317.5 L707.8,319.9 L706.1,320.2 L702.4,323.4 L704.9,320.6 L708.1,324.1 L711.4,323.6 L706.5,319.2 L708.7,316.9 L703.8,317.7"/><path d="M27.4,238.7 L37.6,238.5 L42.7,237.9 L51.3,238.1 L59.3,238.2 L65.3,237.6 L70.3,237.5 L79.6,236.9 L84.3,236.4 L94.0,235.9 L102.0,236.6 L108.2,237.0 L117.9,236.6 L124.1,236.6 L128.9,237.0 L135.1,237.4 L142.5,237.4 L150.3,238.2 L160.6,239.1 L169.7,238.9 L178.0,239.4 L184.3,239.8 L189.1,239.5 L194.5,239.7 L205.3,240.5 L212.3,240.8 L219.4,241.0 L225.1,240.8 L230.8,240.9 L240.2,241.6 L244.9,241.9 L252.6,242.5 L261.9,243.1 L267.9,243.5"/><path d="M433.5,340.4 L440.0,341.5 L442.3,334.4 L442.6,331.3 L447.2,339.0 L455.9,333.6 L455.6,326.6 L459.1,330.5 L456.8,327.3 L463.5,326.8 L467.1,327.7 L467.4,326.8 L469.9,325.4 L469.0,326.2 L472.4,331.4 L471.9,331.9 L471.7,329.9 L470.6,329.7 L474.9,333.1 L471.7,331.4 L470.4,332.0 L469.2,325.0 L477.4,327.3 L475.6,331.0 L472.7,333.0 L475.1,327.0 L479.3,323.9 L480.3,327.8 L486.4,331.3 L492.0,325.8 L490.3,329.4 L493.1,330.6 L494.8,333.2 L495.6,334.7"/><path d="M45.2,323.6 L54.9,325.7 L60.9,326.5 L69.2,328.7 L77.2,330.5 L82.0,332.2 L88.2,333.3 L96.4,334.5 L104.9,336.0 L113.8,337.7 L120.5,338.9 L125.9,339.7 L130.4,340.4 L134.7,341.1 L143.1,342.3 L152.5,343.9 L161.6,345.3 L169.0,346.1 L174.4,346.9 L181.4,348.0 L188.3,349.0 L193.5,349.6 L198.7,350.0 L205.1,350.7 L214.9,352.6 L221.4,354.3 L226.2,355.7 L235.8,358.1 L245.6,360.6 L255.2,363.2 L264.9,365.7 L270.3,367.0 L279.7,369.4 L285.0,370.8"/><path d="M77.2,285.7 L82.5,286.5 L88.7,287.3 L92.4,287.5 L97.4,288.6 L102.9,289.9 L108.2,290.5 L112.9,291.4 L118.8,292.0 L122.6,292.8 L127.5,293.6 L132.3,293.7 L138.1,294.9 L144.6,295.7 L151.3,296.6 L154.4,297.0 L160.6,298.5 L164.5,299.3 L170.4,299.7 L173.8,300.4 L178.4,300.9 L182.0,301.8 L187.8,302.4 L192.9,303.8 L198.7,305.1 L202.4,305.6 L208.1,307.3 L211.8,308.5 L217.0,309.5 L220.1,310.9 L224.9,312.2 L229.7,313.0 L233.7,314.1 L239.9,316.1"/><path d="M337.1,277.6 L345.9,279.6 L352.7,281.2 L365.4,282.9 L375.3,283.7 L385.3,284.9 L390.9,285.4 L397.8,286.9 L409.7,289.0 L420.2,290.8 L433.0,293.4 L444.6,295.2 L457.0,297.6 L463.1,299.4 L471.8,301.0 L478.6,302.9 L484.8,304.9 L491.9,306.7 L502.9,309.0 L515.3,312.0 L520.8,313.2 L530.4,315.3 L539.3,316.9 L551.6,320.1 L562.1,322.4 L567.6,323.8 L576.4,325.6 L587.5,327.4 L597.2,329.8 L606.5,332.0 L618.8,334.7 L628.5,336.4 L636.4,338.8 L646.5,340.3"/><path d="M166.4,321.0 L172.6,321.1 L184.1,322.0 L193.3,323.5 L207.1,325.2 L216.9,326.3 L226.8,327.9 L235.6,329.9 L242.6,330.8 L249.6,331.6 L259.8,333.9 L273.8,337.1 L284.4,339.3 L295.9,341.1 L310.1,343.6 L320.5,345.3 L330.8,347.3 L343.3,349.5 L354.2,350.9 L362.4,351.9 L370.2,353.0 L377.4,353.6 L390.1,354.8 L399.7,355.8 L407.1,355.9 L420.1,357.6 L432.1,358.9 L444.4,360.7 L454.4,362.1 L462.7,363.5 L473.5,365.3 L485.4,366.6 L499.1,368.3 L509.2,369.6"/><path d="M527.6,319.5 L532.5,322.3 L533.7,323.5 L529.0,330.1 L529.4,331.2 L535.3,336.3 L531.9,337.3 L532.1,334.1 L532.4,333.2 L531.5,335.5 L547.6,337.7 L549.6,342.5 L559.2,347.5 L566.9,350.7 L564.8,351.3 L570.7,351.4 L579.2,353.5 L579.1,353.1 L571.7,349.5 L575.0,351.6 L576.7,350.3 L579.1,351.9 L580.2,354.5 L581.5,344.2 L584.0,348.8 L582.9,352.8 L587.1,353.0 L592.3,357.4 L598.1,363.4 L599.5,361.0 L598.1,359.2 L597.7,362.8 L599.4,361.7 L617.9,367.3"/><path d="M530.3,306.7 L536.1,312.8 L533.6,312.5 L535.1,314.7 L534.0,315.8 L540.3,323.5 L543.1,328.6 L546.5,332.2 L546.7,332.7 L543.6,333.1 L543.2,333.3 L544.0,332.8 L548.2,331.6 L550.3,337.3 L550.4,338.5 L548.3,338.9 L553.1,343.1 L553.7,337.0 L554.5,335.2 L557.8,331.5 L559.8,323.2 L563.6,324.2 L569.7,312.5 L575.7,309.4 L575.7,304.7 L578.1,304.0 L583.4,306.2 L588.6,307.3 L587.3,306.5 L587.4,308.3 L586.9,308.3 L591.0,313.5 L595.1,305.2 L597.4,309.1"/><path d="M-19.4,267.0 L-13.3,267.6 L-9.4,267.9 L-6.2,268.5 L-1.4,269.0 L5.5,270.1 L10.2,270.4 L14.5,271.4 L18.1,272.0 L24.0,273.3 L27.2,274.3 L31.2,275.1 L38.2,276.2 L41.3,277.0 L46.5,278.6 L49.5,279.3 L53.5,280.1 L57.0,281.5 L63.7,282.9 L67.3,283.6 L74.3,284.6 L77.6,285.5 L81.6,287.0 L86.1,288.3 L92.9,290.0 L96.2,291.1 L102.9,293.1 L106.6,294.3 L113.7,295.5 L120.3,296.9 L126.1,298.3 L131.3,299.7 L138.2,301.6 L142.4,302.9"/><path d="M674.1,393.3 L693.0,399.9 L694.8,398.7 L703.2,402.4 L703.9,407.1 L711.8,404.1 L707.7,399.4 L722.6,416.8 L731.9,416.5 L740.5,414.3 L738.3,413.1 L757.0,412.6 L775.9,411.5 L786.6,413.8 L804.5,409.3 L806.3,407.3 L817.7,410.6 L811.4,407.6 L816.8,407.3 L830.0,403.5 L831.8,402.6 L851.8,401.0 L862.5,402.1 L867.5,401.2 L874.2,399.7 L873.2,395.1 L871.4,391.2 L883.1,391.4 L893.4,391.5 L899.6,382.4 L909.0,382.6 L908.6,379.1 L906.0,377.4 L916.2,377.2"/><path d="M-121.3,291.0 L-116.2,291.1 L-103.4,294.8 L-90.2,299.6 L-81.5,300.4 L-77.7,298.5 L-58.4,298.6 L-43.7,299.5 L-29.6,300.5 L-33.8,301.8 L-22.1,293.4 L-14.4,304.0 L-7.3,305.3 L-9.7,306.7 L13.2,311.9 L15.7,312.8 L29.0,317.4 L31.4,320.0 L40.9,322.9 L44.5,325.9 L45.1,325.6 L44.2,326.5 L52.2,327.7 L64.5,328.5 L77.1,330.1 L87.9,330.9 L87.0,332.9 L100.0,335.2 L108.0,336.3 L107.9,336.3 L115.1,338.3 L119.6,338.1 L132.2,335.5 L134.4,331.7"/><path d="M-38.8,285.0 L-27.6,285.2 L-16.3,285.0 L-5.7,284.9 L1.8,284.8 L8.6,285.5 L18.1,285.8 L29.4,287.3 L34.6,287.3 L46.0,289.4 L57.5,291.0 L67.5,291.6 L75.1,292.5 L86.5,294.6 L92.2,295.7 L98.0,296.5 L103.5,297.1 L111.9,298.2 L119.0,299.0 L128.7,300.0 L135.5,300.5 L143.8,301.2 L152.4,302.2 L161.4,303.6 L173.1,304.8 L184.0,307.0 L194.6,308.9 L202.4,310.2 L207.7,311.1 L219.1,313.5 L228.5,316.2 L236.6,317.7 L247.3,320.5 L253.0,322.4"/><path d="M542.1,377.2 L549.3,379.2 L560.2,382.4 L572.9,384.7 L580.0,385.6 L587.6,388.0 L596.1,390.7 L606.1,394.1 L619.7,397.7 L628.1,399.9 L635.9,402.3 L645.2,404.8 L654.6,406.6 L665.7,409.1 L674.6,410.4 L687.2,412.3 L700.8,415.0 L712.3,417.8 L720.0,419.4 L732.5,421.7 L739.2,423.2 L753.0,425.1 L767.0,427.0 L778.9,428.6 L786.9,429.8 L793.6,430.8 L801.7,432.3 L815.1,432.9 L825.2,433.5 L835.2,433.8 L848.7,434.6 L858.2,435.6 L866.1,436.8 L872.7,437.1"/><path d="M575.5,335.1 L578.5,339.2 L581.3,341.1 L582.3,339.9 L588.9,343.5 L589.8,347.6 L585.7,345.2 L588.4,348.2 L591.9,354.2 L598.7,353.2 L591.9,352.4 L596.4,358.6 L595.0,359.1 L602.9,365.3 L600.6,364.7 L604.7,371.9 L615.4,359.6 L617.7,368.9 L625.0,367.1 L630.5,381.8 L636.7,390.8 L639.1,389.2 L637.3,388.4 L641.9,394.8 L647.3,403.7 L649.7,404.0 L678.0,412.6 L685.1,418.8 L689.0,419.9 L673.3,418.7 L674.0,420.3 L681.1,425.3 L682.2,428.3 L681.9,428.1"/><path d="M-17.7,307.4 L-6.3,311.6 L5.9,310.0 L15.5,313.6 L7.3,316.1 L-2.5,318.2 L-3.0,317.0 L-3.5,313.2 L1.2,321.7 L6.4,318.7 L10.1,315.3 L15.9,314.8 L25.1,301.6 L29.3,295.9 L47.2,297.0 L50.2,295.9 L60.0,291.2 L67.3,289.4 L76.1,291.8 L75.6,289.0 L81.1,290.8 L89.4,290.9 L79.6,289.5 L78.3,285.8 L78.8,285.7 L80.4,284.0 L88.4,281.4 L98.7,288.3 L103.7,291.0 L116.8,296.9 L110.4,297.7 L114.1,291.2 L122.1,291.6 L130.3,295.2"/><path d="M219.0,256.6 L224.0,258.7 L228.2,260.0 L236.6,262.1 L244.1,264.6 L251.1,267.0 L255.3,268.5 L259.9,270.6 L264.2,272.9 L272.6,275.5 L279.3,276.8 L284.3,278.9 L290.9,281.4 L297.1,283.7 L304.1,286.6 L310.7,288.8 L316.3,291.6 L323.7,294.3 L327.4,296.3 L331.9,298.8 L336.0,301.1 L343.4,303.5 L349.5,306.3 L355.0,307.9 L359.4,309.4 L363.6,311.4 L371.5,314.5 L379.8,316.9 L388.1,319.2 L392.5,321.0 L400.4,323.7 L405.1,326.1 L411.7,328.2 L415.9,329.9"/><path d="M500.1,311.5 L509.2,315.0 L516.4,317.2 L527.1,320.3 L533.8,322.5 L541.9,325.5 L550.2,328.0 L560.9,331.5 L573.7,335.1 L580.1,337.3 L590.5,340.0 L597.3,342.1 L604.5,343.8 L613.6,346.3 L619.6,348.1 L629.0,350.8 L635.2,352.7 L643.8,354.9 L652.0,356.4 L661.4,359.0 L672.9,361.7 L685.7,364.2 L691.3,364.8 L702.2,367.1 L709.9,369.2 L715.5,370.8 L726.3,372.9 L736.5,374.7 L749.0,376.7 L755.5,377.8 L764.6,379.4 L774.9,381.8 L787.6,384.4 L796.4,385.3"/><path d="M429.9,277.4 L427.1,276.8 L443.1,278.7 L446.9,277.3 L451.4,279.8 L464.7,277.8 L472.0,276.3 L474.2,275.8 L479.7,266.2 L492.9,268.8 L505.0,269.7 L514.7,271.7 L525.0,275.5 L530.1,274.8 L536.9,276.7 L548.7,278.9 L558.3,285.5 L557.5,285.0 L550.1,282.5 L536.2,285.4 L531.4,275.1 L541.2,279.0 L538.7,276.7 L553.1,281.9 L563.9,283.8 L571.7,285.4 L570.4,288.9 L569.4,288.4 L565.4,294.2 L572.1,298.8 L580.4,298.4 L575.5,302.4 L588.0,311.1 L583.2,320.7"/><path d="M358.0,249.8 L356.3,254.1 L360.3,251.2 L358.0,251.4 L363.4,247.7 L366.2,249.6 L375.8,248.9 L383.2,249.3 L384.0,252.7 L389.1,258.6 L390.3,261.7 L387.8,259.7 L388.1,278.5 L390.8,281.0 L402.3,285.5 L404.5,288.6 L400.4,291.9 L402.5,291.6 L400.7,295.0 L408.4,298.7 L413.6,298.7 L412.8,306.1 L412.0,327.1 L419.3,329.5 L422.3,327.5 L413.4,327.6 L421.1,328.3 L421.2,326.1 L418.1,328.4 L422.7,330.8 L428.3,335.7 L423.9,333.0 L435.2,340.1 L438.8,345.0"/><path d="M651.5,365.5 L657.0,366.7 L663.3,366.3 L670.3,367.7 L675.1,368.0 L680.3,369.2 L685.0,370.0 L690.2,371.3 L694.1,371.8 L701.0,372.7 L704.7,373.4 L708.8,373.4 L716.8,375.2 L720.5,375.4 L727.4,375.7 L733.6,376.8 L737.5,377.3 L744.0,377.7 L750.9,378.4 L758.4,378.9 L762.7,379.8 L769.0,380.4 L776.7,380.5 L784.5,381.2 L791.3,381.9 L798.8,382.7 L807.2,382.6 L811.1,382.7 L819.4,382.2 L824.5,381.6 L832.8,381.5 L839.3,381.8 L846.0,381.7 L850.1,381.5"/><path d="M-132.2,229.5 L-125.9,229.7 L-119.8,229.3 L-116.0,229.2 L-110.4,228.8 L-103.1,228.5 L-96.1,228.1 L-89.0,227.9 L-81.8,227.3 L-78.2,226.4 L-73.3,226.4 L-69.9,226.4 L-62.4,226.1 L-56.1,225.1 L-51.6,224.8 L-46.8,224.9 L-42.8,224.8 L-39.5,224.2 L-35.5,224.3 L-29.5,224.0 L-24.3,224.0 L-20.2,224.0 L-13.9,223.6 L-9.3,223.4 L-3.9,223.0 L0.8,223.1 L7.1,222.8 L13.2,222.6 L17.1,222.0 L22.7,222.3 L29.2,221.7 L34.5,222.0 L41.8,222.1 L46.7,222.2"/><path d="M161.9,285.0 L173.2,286.3 L178.4,286.6 L189.8,287.8 L200.4,289.5 L206.1,289.6 L211.3,290.3 L220.2,291.8 L229.9,294.3 L237.6,295.4 L243.7,296.4 L255.0,298.4 L260.3,298.6 L270.0,299.6 L276.6,300.3 L285.6,302.2 L295.8,303.7 L301.3,303.9 L306.6,304.8 L314.1,306.7 L324.5,307.7 L332.6,308.9 L343.1,310.6 L349.4,311.6 L355.8,312.3 L361.3,313.8 L369.5,315.4 L379.7,316.9 L384.9,317.2 L392.1,318.2 L402.0,320.0 L407.5,320.9 L417.0,322.0 L426.4,322.9"/><path d="M304.0,248.5 L309.8,250.6 L319.6,251.4 L328.4,248.3 L332.4,247.4 L332.7,251.8 L331.5,252.6 L331.6,251.7 L330.8,247.4 L337.3,250.4 L339.7,247.1 L343.1,245.0 L343.4,244.3 L347.0,245.4 L351.0,244.7 L354.6,244.8 L359.7,245.2 L361.5,247.9 L381.9,254.4 L384.8,259.0 L390.6,260.0 L401.9,261.5 L406.6,272.7 L422.6,271.6 L424.1,275.3 L431.6,274.6 L431.9,278.0 L437.6,279.9 L442.0,275.7 L441.2,273.2 L447.2,275.9 L447.3,276.0 L456.8,290.0 L464.6,290.6"/><path d="M24.1,219.9 L31.4,220.3 L39.8,221.0 L45.6,221.2 L53.9,221.7 L64.1,222.5 L74.6,223.0 L83.6,223.8 L90.1,224.9 L96.3,225.4 L104.2,226.0 L110.0,226.6 L118.4,227.4 L127.7,228.9 L136.4,230.3 L143.6,232.1 L151.5,233.3 L157.9,234.6 L166.1,235.7 L172.2,237.4 L180.7,238.6 L186.4,239.8 L192.2,241.0 L200.0,242.5 L205.9,243.3 L215.8,244.6 L221.3,245.7 L229.2,246.6 L238.0,247.8 L246.4,249.2 L253.2,250.8 L258.4,251.6 L265.6,252.8 L271.1,253.4"/><path d="M-74.6,241.2 L-68.4,239.9 L-56.9,238.5 L-47.6,236.8 L-60.6,237.7 L-43.3,236.7 L-46.6,234.2 L-36.9,233.5 L-42.3,228.8 L-43.9,227.3 L-41.2,227.7 L-36.5,225.4 L-28.8,223.3 L-40.1,222.7 L-34.6,220.1 L-27.9,218.7 L-14.6,215.3 L-5.0,219.3 L9.7,217.2 L5.3,218.2 L16.1,215.3 L21.8,223.1 L35.3,220.6 L36.9,220.5 L44.9,224.3 L53.9,226.4 L51.7,227.3 L67.8,228.4 L76.1,230.9 L84.4,232.2 L110.3,238.6 L123.1,236.0 L137.9,240.9 L148.2,248.4"/><path d="M609.0,349.3 L620.4,352.3 L632.6,355.7 L645.1,359.1 L656.2,361.8 L671.0,364.3 L679.9,365.7 L692.0,368.0 L705.4,370.5 L716.0,372.7 L727.9,375.4 L736.5,377.6 L744.3,379.6 L755.3,382.1 L765.0,383.9 L776.3,385.7 L789.8,387.9 L796.7,389.4 L807.2,390.5 L818.9,391.5 L832.6,392.4 L847.6,393.3 L857.8,394.0 L867.8,394.5 L881.9,395.1 L895.1,396.5 L905.6,396.4 L916.3,397.4 L930.3,398.6 L943.1,399.9 L953.8,400.8 L964.8,401.6 L971.7,402.7 L984.0,403.1"/><path d="M108.5,265.4 L107.9,262.5 L117.3,272.6 L151.6,273.6 L167.1,276.2 L167.2,273.9 L171.0,274.5 L158.3,282.2 L140.0,278.6 L154.3,276.1 L155.5,276.3 L167.9,280.7 L184.4,281.8 L208.7,282.6 L217.0,286.1 L230.2,286.5 L240.3,283.9 L241.9,286.2 L252.2,289.5 L249.6,283.5 L259.9,285.0 L262.9,286.4 L280.1,283.7 L282.2,280.6 L291.2,273.8 L292.3,272.3 L293.3,270.6 L309.2,274.6 L331.8,277.0 L331.3,273.9 L333.1,268.3 L346.0,269.4 L323.7,266.4 L326.6,270.4"/><path d="M450.1,306.9 L453.8,307.5 L457.8,310.5 L462.8,309.3 L464.2,312.6 L471.3,311.1 L478.6,318.0 L480.4,320.9 L483.5,322.2 L483.1,324.6 L493.8,327.3 L503.9,335.6 L512.4,338.8 L521.1,345.0 L527.0,341.1 L534.0,338.6 L538.1,340.3 L546.4,341.0 L554.7,345.2 L570.0,348.0 L575.3,364.2 L578.2,370.7 L585.8,378.4 L584.4,385.1 L589.6,385.8 L586.3,390.7 L593.4,388.4 L601.8,390.9 L609.5,395.6 L610.7,397.3 L612.0,401.5 L618.8,407.0 L623.6,409.2 L631.4,417.6"/><path d="M92.3,264.6 L97.5,267.3 L105.0,267.4 L113.0,267.2 L116.5,266.8 L113.2,262.7 L114.0,265.5 L117.6,262.7 L99.9,264.4 L102.4,266.1 L105.8,265.4 L108.9,265.1 L109.8,262.0 L99.5,259.4 L105.3,251.2 L112.7,247.7 L119.9,247.5 L118.4,250.6 L121.4,247.8 L116.6,243.9 L116.6,236.3 L116.3,236.1 L123.8,238.2 L129.6,239.1 L134.6,241.0 L139.1,242.8 L142.2,240.2 L140.8,237.1 L136.5,239.2 L138.8,234.6 L163.4,233.5 L168.9,235.3 L176.5,231.5 L179.4,229.7"/><path d="M25.6,271.5 L32.0,272.1 L39.4,273.6 L45.1,274.7 L55.0,276.1 L63.9,277.4 L74.1,278.8 L81.9,279.6 L90.1,280.9 L99.5,282.3 L106.8,283.3 L114.4,284.6 L124.5,286.6 L133.9,288.4 L144.6,289.9 L151.8,290.8 L163.7,293.3 L171.4,294.8 L181.1,296.8 L189.2,298.8 L195.1,300.2 L203.6,301.4 L212.6,304.1 L223.7,306.9 L234.3,309.6 L244.3,311.6 L255.8,314.1 L265.6,317.2 L272.5,318.7 L278.5,320.8 L289.1,323.4 L295.8,325.9 L306.4,328.7 L318.4,332.4"/><path d="M223.9,245.3 L234.9,247.6 L243.6,249.1 L252.7,251.1 L259.5,252.3 L270.3,254.2 L279.9,255.2 L287.1,256.2 L293.5,257.6 L301.7,259.4 L309.0,260.5 L320.1,261.4 L327.5,262.2 L338.6,264.2 L344.0,265.3 L352.1,266.3 L357.2,267.5 L364.4,268.1 L372.1,269.2 L377.2,270.6 L383.8,272.6 L389.6,272.7 L400.2,274.7 L407.4,276.3 L412.5,277.4 L422.9,278.8 L429.6,279.8 L437.4,281.5 L444.1,283.4 L451.5,284.2 L459.0,286.4 L465.7,287.3 L475.5,290.2 L485.3,292.7"/><path d="M535.1,315.3 L546.1,320.2 L546.6,322.9 L558.2,323.5 L567.8,323.0 L574.7,322.9 L576.2,320.3 L601.7,327.2 L607.7,319.3 L632.9,322.8 L630.7,310.0 L645.9,313.4 L650.8,306.6 L655.1,305.9 L662.1,308.0 L666.3,306.6 L667.7,308.0 L680.4,311.9 L706.3,322.0 L704.4,316.2 L713.0,316.8 L719.8,318.9 L730.0,322.2 L736.8,325.1 L739.6,323.1 L744.3,326.0 L742.3,329.9 L747.8,326.3 L750.7,328.9 L752.6,335.6 L758.9,336.8 L758.0,333.7 L754.7,333.7 L765.8,332.0"/><path d="M444.1,332.1 L444.8,335.0 L450.4,336.5 L446.4,335.8 L446.4,338.0 L455.0,335.3 L458.0,338.4 L466.2,341.9 L480.7,340.8 L500.3,346.7 L506.8,353.5 L506.3,353.1 L519.1,362.5 L526.7,369.4 L529.9,375.6 L535.9,378.7 L535.6,378.4 L542.2,378.7 L549.1,378.5 L553.5,389.3 L557.7,396.5 L561.1,397.6 L557.2,398.3 L567.5,403.4 L577.1,411.6 L583.9,417.3 L588.2,420.1 L583.7,420.6 L585.4,420.3 L590.3,423.8 L604.2,429.2 L600.4,429.1 L603.0,429.4 L606.3,427.6"/><path d="M310.5,262.4 L311.2,265.6 L310.9,271.6 L310.2,269.5 L308.0,273.4 L308.9,271.6 L310.2,274.8 L314.4,280.4 L315.7,281.4 L320.6,287.5 L322.1,263.9 L319.8,264.7 L320.4,267.5 L321.5,268.8 L325.5,268.4 L333.2,273.1 L332.2,273.5 L335.7,275.8 L337.4,274.4 L340.6,278.8 L339.5,279.7 L336.2,289.5 L342.3,295.8 L350.5,298.8 L353.0,302.5 L354.9,303.1 L357.3,306.5 L360.1,306.3 L358.6,310.5 L365.8,313.6 L372.0,318.1 L378.3,315.4 L384.0,319.5 L384.7,320.0"/><path d="M-81.8,226.9 L-72.6,227.6 L-76.3,225.7 L-69.8,226.0 L-59.7,222.4 L-49.0,225.0 L-47.6,226.3 L-42.7,225.5 L-44.5,223.6 L-40.5,223.2 L-29.9,223.0 L-24.4,218.7 L-11.4,220.7 L-3.8,220.0 L-0.6,220.8 L1.1,220.9 L17.3,220.8 L24.5,221.6 L27.3,224.7 L35.5,239.1 L39.6,243.7 L42.1,243.6 L42.2,239.9 L47.5,241.9 L42.3,242.0 L43.2,244.9 L48.0,250.1 L57.1,249.1 L62.7,250.1 L67.5,251.3 L78.2,254.6 L88.2,253.8 L95.4,262.4 L98.1,263.9"/><path d="M64.7,267.7 L71.9,272.6 L73.7,270.1 L73.5,269.6 L78.4,269.7 L81.9,265.7 L88.0,269.7 L103.7,267.9 L113.4,268.0 L122.0,266.3 L125.1,264.7 L125.4,266.2 L128.0,265.7 L129.1,261.5 L134.6,262.5 L144.0,262.0 L146.2,263.4 L152.1,265.9 L160.7,266.1 L168.4,263.9 L182.0,267.5 L183.9,265.3 L192.0,267.2 L202.1,264.4 L203.4,262.4 L208.4,260.9 L206.6,256.4 L208.7,257.4 L209.2,257.5 L219.7,256.7 L218.7,256.4 L221.6,256.7 L234.7,268.7 L239.0,268.6"/><path d="M631.7,305.9 L640.7,308.3 L651.7,308.5 L662.5,309.0 L672.4,311.2 L681.0,316.9 L685.0,320.2 L684.8,319.4 L698.4,323.1 L689.9,329.5 L696.0,332.2 L696.7,332.2 L710.1,325.1 L722.8,333.7 L731.5,337.7 L729.1,340.6 L737.2,342.4 L743.3,345.2 L742.3,353.3 L754.3,355.5 L759.6,359.0 L767.9,361.9 L774.1,365.1 L782.1,368.3 L789.4,377.2 L796.6,374.8 L809.1,378.9 L816.9,382.4 L810.5,387.7 L822.9,386.9 L824.1,389.9 L834.4,395.2 L837.1,398.0 L842.3,399.6"/><path d="M548.4,292.6 L552.0,294.9 L556.3,296.6 L563.8,299.8 L568.1,302.0 L576.0,305.5 L581.3,307.9 L585.1,309.7 L589.6,311.8 L596.2,314.7 L603.7,317.5 L611.8,320.5 L617.8,323.1 L625.9,325.9 L631.1,328.3 L639.3,330.7 L644.4,332.5 L648.2,334.7 L656.0,336.9 L663.9,340.5 L668.0,342.0 L672.4,344.2 L680.2,347.4 L688.5,349.8 L693.6,351.9 L700.5,354.4 L706.0,357.1 L712.0,358.7 L719.9,361.0 L726.7,364.0 L732.9,365.4 L740.8,367.6 L747.0,369.8 L752.0,371.7"/><path d="M20.8,286.4 L34.6,285.9 L41.2,287.0 L50.9,287.7 L62.9,288.4 L73.7,289.4 L83.8,290.1 L92.8,290.7 L102.3,291.6 L115.1,292.4 L123.9,292.8 L131.0,293.2 L140.1,293.6 L147.2,293.5 L154.0,293.7 L160.4,294.5 L166.5,294.8 L174.3,294.9 L185.4,296.0 L196.0,296.5 L204.4,296.5 L213.9,297.3 L223.2,298.7 L231.8,299.6 L244.6,301.2 L253.8,302.5 L261.8,303.6 L274.8,305.9 L286.2,307.5 L297.2,308.5 L304.9,309.5 L318.0,310.5 L331.3,312.7 L338.8,313.3"/><path d="M-19.7,260.0 L-12.3,259.5 L-6.7,259.6 L-0.9,259.6 L3.5,259.9 L9.7,260.4 L16.7,261.0 L20.1,261.2 L25.0,261.1 L29.9,261.4 L34.8,261.5 L38.6,261.5 L45.4,261.4 L49.6,261.4 L53.9,261.3 L61.2,261.8 L68.0,263.1 L71.7,263.4 L78.3,263.9 L83.4,263.7 L89.9,263.9 L94.6,264.3 L102.5,265.1 L106.7,265.3 L110.1,265.6 L115.4,265.8 L120.3,266.1 L127.5,267.1 L131.5,267.4 L135.9,267.7 L143.1,267.8 L150.0,268.0 L156.9,268.7 L163.9,269.2"/><path d="M47.8,260.0 L53.8,257.9 L61.9,254.9 L68.0,252.6 L71.2,249.3 L77.3,247.1 L82.9,245.1 L85.8,242.8 L90.5,239.3 L93.0,238.4 L97.3,236.8 L98.4,235.7 L100.0,236.3 L104.7,234.4 L111.5,233.1 L113.0,232.9 L115.0,231.1 L118.6,228.9 L125.7,226.7 L127.1,225.5 L130.4,225.7 L138.9,225.7 L139.0,225.4 L149.7,222.7 L155.8,221.6 L160.0,222.5 L161.6,223.9 L166.2,224.8 L169.2,224.1 L170.3,223.8 L176.8,223.7 L182.5,226.7 L189.3,229.3 L201.9,237.4"/><path d="M10.5,290.9 L17.6,291.5 L27.5,292.1 L39.9,293.3 L52.0,294.3 L59.4,295.0 L71.3,296.2 L78.9,297.0 L89.2,298.0 L97.4,298.8 L106.8,300.6 L116.5,301.2 L129.9,302.3 L143.6,304.2 L150.7,304.8 L158.6,305.1 L171.4,306.4 L182.6,307.7 L190.2,308.2 L203.6,310.1 L215.3,312.0 L225.5,314.5 L234.5,316.6 L242.4,317.9 L251.6,319.9 L259.1,321.2 L271.7,323.3 L282.1,326.0 L292.6,328.0 L305.1,330.7 L313.9,333.1 L323.8,334.9 L334.3,336.8 L342.2,338.3"/><path d="M161.3,326.2 L170.0,325.9 L177.7,324.3 L178.6,326.8 L184.0,328.6 L185.5,328.3 L193.3,330.7 L204.5,329.4 L215.5,330.6 L223.0,333.6 L229.5,334.0 L228.1,334.6 L228.8,335.9 L228.8,335.2 L240.8,335.8 L244.8,337.1 L244.8,338.2 L251.7,339.7 L255.0,339.4 L254.9,341.7 L260.6,340.4 L265.0,338.7 L265.3,338.3 L269.9,337.7 L281.0,337.3 L288.9,336.6 L295.1,334.3 L298.6,332.7 L308.8,332.6 L311.5,334.0 L323.3,334.2 L327.5,334.9 L334.7,333.5 L337.2,337.9"/><path d="M3.3,311.3 L7.1,308.0 L10.5,309.1 L10.4,300.8 L13.4,310.5 L22.3,316.4 L25.7,321.1 L29.0,325.3 L28.5,325.6 L30.6,325.3 L36.1,324.8 L38.8,325.1 L39.3,324.5 L42.4,324.3 L49.9,317.6 L50.0,312.8 L56.7,311.1 L59.0,307.5 L57.3,306.4 L56.6,301.7 L65.3,301.5 L78.0,296.5 L82.9,295.9 L87.1,295.7 L91.7,291.6 L93.1,289.9 L102.0,303.6 L111.9,303.9 L119.0,301.6 L126.2,298.0 L129.3,297.4 L110.1,291.5 L112.4,292.2 L112.5,291.6"/><path d="M133.5,226.2 L140.4,227.9 L154.2,230.6 L160.5,231.6 L169.1,233.7 L181.5,236.4 L194.3,238.7 L200.4,240.3 L207.4,241.3 L215.5,242.9 L225.7,244.4 L234.2,245.8 L241.2,246.9 L252.1,248.6 L263.7,250.3 L270.3,251.8 L276.4,252.7 L290.2,254.9 L303.4,256.9 L316.6,259.3 L329.6,261.4 L337.6,262.8 L344.3,264.3 L352.8,266.3 L366.0,268.7 L372.3,270.2 L380.8,271.6 L393.0,273.8 L401.3,276.1 L412.1,278.9 L419.3,280.9 L428.7,282.9 L442.6,285.3 L454.8,287.8"/><path d="M-110.6,231.3 L-103.4,231.5 L-96.8,231.6 L-92.6,231.5 L-89.1,232.3 L-84.6,232.4 L-78.7,232.5 L-73.9,233.4 L-68.7,233.9 L-61.7,234.1 L-57.8,234.2 L-54.2,234.9 L-49.0,234.9 L-43.2,235.3 L-39.2,235.4 L-34.6,235.2 L-30.0,235.8 L-26.2,236.2 L-22.2,236.5 L-18.3,236.9 L-11.3,237.3 L-6.9,237.1 L-1.0,237.0 L3.0,237.2 L8.9,238.1 L14.3,239.1 L19.1,239.4 L22.9,240.5 L30.0,241.4 L34.7,241.9 L41.7,242.4 L46.0,243.3 L53.2,244.0 L58.7,244.7"/><path d="M317.9,253.4 L321.0,250.9 L328.3,250.7 L343.1,254.1 L344.6,254.3 L360.9,254.1 L375.5,255.6 L388.1,258.7 L393.6,258.4 L402.8,255.7 L410.7,254.4 L421.0,255.4 L417.5,263.0 L433.7,266.0 L437.8,256.8 L439.1,256.0 L441.8,257.9 L451.6,261.0 L455.8,261.7 L461.5,259.9 L480.0,264.4 L494.2,268.2 L497.6,275.5 L495.2,269.9 L507.0,271.7 L518.0,272.8 L515.2,273.5 L516.0,271.6 L516.2,271.2 L530.0,276.4 L542.9,280.5 L551.2,278.6 L548.3,278.0 L540.5,277.2"/><path d="M463.4,339.1 L459.4,334.3 L460.8,331.3 L464.0,335.0 L466.9,338.5 L479.4,339.6 L479.5,339.4 L482.0,341.5 L483.6,340.0 L492.5,347.1 L503.5,351.8 L503.8,350.4 L505.0,348.8 L507.6,349.5 L504.6,350.3 L498.9,351.2 L503.3,356.0 L513.6,359.4 L514.3,361.2 L523.5,361.5 L533.1,363.9 L536.3,367.6 L535.2,367.7 L539.7,338.0 L538.6,339.0 L539.4,332.4 L540.2,332.3 L556.3,336.0 L562.9,332.7 L573.6,333.4 L583.0,336.1 L593.2,338.1 L609.8,342.0 L615.5,342.6"/><path d="M499.4,271.3 L503.1,271.6 L511.1,272.9 L518.2,274.4 L525.5,276.1 L533.7,277.7 L540.1,279.0 L544.8,279.6 L550.9,280.6 L557.3,282.0 L563.1,283.2 L568.6,284.6 L576.7,286.0 L583.2,287.0 L586.8,287.4 L593.0,288.7 L599.3,290.1 L605.1,291.2 L613.4,293.3 L621.4,295.4 L627.9,296.8 L634.5,298.6 L641.7,300.6 L646.2,301.4 L652.2,303.0 L657.2,304.3 L661.8,305.5 L669.3,307.4 L675.5,309.1 L682.2,311.1 L686.6,312.0 L692.8,313.9 L700.3,315.8 L704.5,317.1"/><path d="M618.3,351.0 L626.3,352.8 L630.3,354.1 L638.0,356.0 L645.9,357.6 L649.5,359.2 L656.6,360.4 L664.3,363.2 L668.7,364.0 L672.6,365.5 L680.1,367.0 L686.0,368.5 L693.6,369.9 L699.2,371.1 L702.9,372.5 L707.8,373.9 L715.5,375.8 L718.9,377.1 L723.2,378.1 L730.1,379.4 L736.5,380.0 L740.5,381.4 L744.7,382.7 L749.9,384.2 L754.4,384.9 L760.1,385.7 L767.2,386.9 L774.1,388.2 L781.9,389.7 L785.8,391.1 L793.1,392.1 L798.4,393.3 L804.3,393.6 L811.6,394.0"/><path d="M-49.2,269.3 L-45.0,269.8 L-37.5,270.8 L-31.6,271.2 L-22.6,271.6 L-16.6,272.3 L-10.8,272.7 L-6.6,272.7 L0.1,272.9 L6.8,274.2 L11.5,274.6 L19.8,275.1 L28.7,276.1 L35.5,276.6 L42.7,277.4 L47.5,279.2 L53.0,280.0 L61.0,281.7 L66.8,282.5 L71.6,283.2 L76.3,284.0 L82.3,284.8 L87.8,285.9 L93.9,287.7 L99.2,288.4 L107.7,289.3 L115.6,290.8 L123.7,291.5 L130.7,292.6 L139.2,294.5 L144.5,296.0 L150.8,297.1 L155.7,298.4 L160.7,299.0"/><path d="M71.4,226.0 L76.1,224.0 L81.0,221.5 L83.1,221.0 L87.0,220.0 L96.1,217.1 L103.8,216.0 L110.0,216.3 L115.2,216.7 L125.9,218.2 L136.0,222.0 L149.4,227.6 L163.6,235.1 L167.6,233.9 L174.9,237.8 L177.3,238.5 L187.7,242.0 L195.1,246.5 L203.2,250.7 L203.3,250.0 L206.7,252.4 L215.8,256.9 L219.7,260.6 L233.8,269.5 L242.2,273.9 L244.5,275.3 L250.6,277.9 L258.3,280.3 L267.7,286.5 L279.6,292.7 L279.6,290.8 L283.2,293.1 L291.1,296.5 L298.7,298.5"/><path d="M-63.0,226.6 L-66.4,225.5 L-66.9,223.0 L-58.2,228.7 L-53.3,230.3 L-47.2,232.8 L-42.1,235.2 L-36.6,237.0 L-33.3,239.4 L-33.0,240.0 L-26.6,242.6 L-24.7,242.6 L-20.3,244.3 L-11.1,248.4 L-4.0,251.8 L3.9,257.1 L6.0,257.8 L12.5,262.6 L18.8,267.2 L23.8,269.9 L25.2,268.7 L27.8,270.9 L35.3,275.1 L45.1,282.4 L45.1,283.2 L51.0,286.9 L54.6,289.7 L63.1,295.1 L70.3,298.7 L74.7,302.7 L84.2,309.1 L93.5,315.6 L99.5,319.3 L118.8,334.0"/><path d="M289.5,250.8 L296.4,252.6 L307.1,254.3 L314.0,255.1 L324.4,256.4 L335.3,257.3 L345.6,258.8 L353.7,259.8 L364.2,260.3 L372.5,260.8 L379.9,261.8 L387.8,262.8 L401.1,265.0 L409.0,266.8 L417.8,269.0 L430.1,271.2 L440.2,273.0 L449.5,274.9 L456.6,276.0 L466.3,277.9 L478.0,280.5 L490.6,283.5 L501.6,286.1 L516.1,289.2 L530.8,293.1 L544.4,296.1 L553.1,298.8 L567.4,303.0 L578.9,305.4 L587.2,307.3 L601.1,310.5 L613.3,313.9 L626.9,317.1 L635.4,318.3"/><path d="M105.1,258.3 L104.8,255.3 L102.2,262.5 L111.4,262.1 L112.3,260.5 L114.2,263.2 L129.4,258.7 L135.2,259.9 L140.2,260.9 L155.7,265.3 L162.0,264.5 L158.8,267.9 L156.7,267.5 L161.2,272.0 L168.0,274.9 L159.4,271.2 L164.0,270.8 L171.0,274.0 L175.7,274.1 L184.5,275.5 L190.0,278.9 L192.7,278.4 L199.0,280.7 L220.2,283.5 L227.2,284.0 L226.6,285.0 L226.6,285.2 L233.3,284.4 L241.0,274.5 L238.2,272.9 L238.6,275.2 L237.0,273.0 L234.7,272.5 L244.9,273.8"/><path d="M103.8,298.0 L114.5,298.2 L119.0,300.3 L120.4,296.7 L125.4,300.4 L134.4,302.4 L140.4,306.2 L155.8,311.4 L165.5,316.8 L164.1,314.8 L171.2,312.7 L179.7,311.7 L179.7,310.3 L174.3,315.0 L183.8,313.5 L186.7,306.9 L188.4,303.3 L192.8,302.4 L191.8,304.0 L195.9,303.0 L198.3,304.1 L199.0,303.8 L204.6,302.0 L207.0,300.3 L210.2,302.3 L218.5,301.9 L225.4,321.5 L227.8,322.1 L226.5,320.4 L225.9,325.1 L230.6,323.8 L240.6,326.4 L245.9,324.5 L258.9,324.7"/><path d="M276.4,296.7 L285.7,297.1 L291.4,297.5 L297.5,297.8 L304.8,297.6 L311.8,297.9 L318.7,297.7 L323.1,297.1 L331.5,296.6 L339.7,296.9 L344.9,297.0 L354.9,297.3 L362.3,297.2 L372.1,297.9 L381.5,298.0 L388.4,297.2 L396.5,297.1 L402.4,296.5 L411.0,296.0 L416.1,295.2 L424.3,295.3 L429.8,294.8 L434.2,294.4 L443.6,294.3 L448.1,293.1 L457.9,293.3 L463.9,293.7 L471.7,293.8 L480.0,294.1 L486.4,294.6 L491.7,294.6 L497.0,293.9 L501.9,293.8 L508.6,293.9"/><path d="M-17.8,236.5 L-16.7,235.3 L-15.0,241.3 L-10.0,243.5 L-9.6,243.4 L-15.7,237.4 L-16.5,237.9 L-13.5,234.7 L-11.9,236.3 L-12.0,237.0 L-15.8,238.8 L-11.7,237.0 L-9.8,237.9 L-8.2,237.3 L-0.6,239.8 L3.6,244.1 L1.8,243.1 L17.3,243.9 L20.8,243.0 L19.0,241.5 L23.6,244.6 L31.7,244.7 L27.5,243.9 L32.2,245.4 L36.2,242.5 L43.1,245.4 L44.2,247.2 L57.9,246.4 L60.8,242.4 L58.9,249.0 L64.4,247.7 L68.6,245.1 L67.7,239.5 L68.5,242.2"/><path d="M254.1,239.2 L257.8,241.3 L263.8,240.3 L264.5,236.6 L272.9,235.2 L279.2,235.8 L281.8,238.3 L282.9,241.2 L289.7,242.1 L298.1,244.1 L302.7,248.1 L312.0,247.2 L315.8,249.7 L326.0,247.7 L333.3,246.8 L336.2,244.8 L341.5,246.8 L344.3,245.9 L344.9,246.2 L346.5,246.9 L346.9,246.3 L351.5,248.5 L351.5,259.0 L355.1,262.2 L358.2,260.7 L362.4,261.6 L363.5,282.7 L364.6,286.7 L369.3,286.0 L373.4,286.5 L374.6,291.0 L380.3,290.1 L387.4,294.6 L394.2,300.7"/><path d="M444.0,339.1 L450.1,340.9 L455.3,345.9 L462.6,350.2 L466.4,348.7 L464.3,351.0 L462.5,349.3 L465.1,349.4 L467.8,347.9 L466.6,348.7 L467.5,345.7 L479.5,351.3 L490.9,349.9 L501.2,345.9 L516.5,356.4 L515.8,358.0 L517.0,359.5 L525.2,369.1 L536.9,368.1 L537.7,367.4 L545.0,366.6 L564.3,366.8 L568.8,367.5 L574.3,372.5 L581.1,374.7 L588.6,375.8 L593.1,374.6 L605.6,384.1 L598.0,382.7 L609.9,377.9 L609.0,379.7 L612.3,380.3 L613.7,377.3 L621.2,376.4"/><path d="M60.5,315.2 L59.8,309.6 L59.2,306.5 L53.6,302.9 L60.5,301.9 L63.3,301.7 L66.9,300.3 L74.8,296.0 L79.7,294.7 L83.6,293.7 L87.1,291.0 L89.3,289.5 L90.5,292.1 L83.9,290.8 L81.4,292.1 L88.0,295.5 L86.4,293.7 L97.1,298.1 L102.3,298.1 L104.1,314.4 L110.9,332.2 L125.3,339.2 L136.7,340.2 L132.1,338.5 L136.0,334.4 L138.0,337.1 L139.8,341.7 L153.7,343.0 L162.8,344.3 L161.9,341.0 L164.2,342.2 L162.3,338.9 L161.3,341.5 L173.6,326.2"/><path d="M609.4,365.7 L599.4,366.1 L599.6,363.3 L612.0,365.8 L617.8,370.7 L619.0,368.6 L623.7,365.3 L630.7,353.3 L630.9,358.5 L636.5,361.9 L641.8,359.5 L641.2,355.7 L646.3,348.6 L661.8,344.2 L667.8,310.9 L678.2,317.3 L678.6,313.0 L692.2,314.6 L705.6,317.6 L726.0,327.4 L726.6,326.8 L730.2,321.7 L741.4,321.9 L744.8,323.3 L747.3,323.0 L741.2,322.1 L747.0,322.6 L746.2,322.8 L759.5,328.0 L759.8,326.2 L767.6,331.6 L765.9,333.6 L768.8,332.4 L772.7,334.3"/><path d="M161.7,232.8 L172.5,234.1 L178.2,234.5 L184.0,235.5 L193.8,236.3 L199.1,237.1 L205.6,237.9 L214.0,238.8 L222.2,239.2 L228.9,240.2 L238.8,241.1 L245.9,242.0 L254.2,242.7 L264.5,244.0 L274.8,245.1 L280.1,245.3 L286.7,246.5 L295.8,248.0 L305.6,249.4 L315.7,250.1 L322.1,251.2 L332.8,252.7 L343.0,253.9 L352.9,254.3 L359.5,255.3 L366.5,255.9 L373.8,257.1 L379.6,258.1 L387.9,259.3 L394.6,260.5 L404.2,262.7 L409.3,263.0 L416.3,264.8 L424.6,266.5"/><path d="M662.8,384.8 L671.3,388.4 L671.7,391.4 L675.0,387.4 L684.6,387.6 L691.0,389.0 L693.6,392.7 L702.6,397.5 L704.4,389.1 L704.1,396.5 L711.1,396.7 L719.3,396.1 L723.4,396.1 L723.2,396.2 L730.9,397.9 L736.3,397.3 L735.6,399.0 L745.3,397.0 L746.3,402.6 L754.7,403.6 L758.5,402.9 L754.7,406.7 L756.4,407.7 L757.3,408.4 L763.8,410.8 L766.5,409.5 L774.0,413.2 L776.9,417.1 L783.9,420.3 L782.5,423.3 L780.4,425.7 L794.4,429.1 L791.2,430.3 L793.2,427.3"/><path d="M97.5,321.6 L105.4,324.4 L115.9,326.0 L131.4,320.7 L141.3,326.5 L151.0,322.0 L175.6,330.4 L186.0,332.3 L193.4,333.2 L193.1,332.0 L201.4,335.1 L208.8,337.4 L212.0,333.8 L236.0,339.0 L250.4,344.8 L265.5,345.2 L272.3,349.5 L254.1,349.7 L260.8,352.5 L269.0,353.0 L290.7,359.3 L301.2,354.7 L310.0,352.2 L330.0,356.7 L317.6,354.2 L331.1,360.7 L343.2,357.5 L353.5,362.7 L349.6,365.6 L348.1,364.0 L353.4,363.8 L352.2,371.6 L358.7,369.4 L362.1,369.1"/><path d="M481.9,273.5 L488.1,274.0 L497.1,275.0 L501.9,274.8 L506.3,275.4 L512.6,275.7 L516.8,276.3 L522.3,277.5 L529.4,278.8 L535.2,279.6 L542.3,281.1 L549.5,282.3 L556.0,283.6 L563.4,285.2 L568.3,285.8 L573.3,287.0 L582.4,288.7 L590.6,290.5 L595.6,291.3 L602.9,292.6 L609.4,294.4 L618.3,295.9 L624.5,297.0 L631.7,298.4 L636.1,299.0 L641.6,300.1 L647.3,300.9 L654.2,302.4 L663.2,304.6 L669.5,306.3 L678.4,308.2 L684.2,310.0 L692.2,311.9 L696.9,313.2"/><path d="M-27.8,282.1 L-17.3,286.0 L-11.4,288.7 L-6.9,290.9 L-0.3,294.3 L6.3,296.7 L14.2,301.1 L15.5,302.1 L23.1,306.9 L28.4,310.7 L35.6,314.3 L42.0,317.8 L49.8,322.3 L58.3,327.9 L62.1,329.3 L62.2,328.5 L70.6,331.1 L75.8,332.4 L77.3,332.4 L82.2,333.2 L83.6,333.7 L94.6,334.2 L96.1,334.4 L101.1,331.8 L111.1,327.4 L112.9,326.5 L121.0,323.7 L128.0,322.3 L134.0,319.2 L142.6,316.1 L147.9,311.8 L155.5,309.0 L158.3,308.0 L162.4,306.9"/><path d="M258.0,342.1 L269.1,342.5 L286.5,342.4 L281.9,341.7 L300.3,348.0 L299.5,348.8 L314.6,352.2 L322.8,353.0 L332.0,355.7 L351.0,358.8 L348.7,352.3 L356.4,357.7 L362.6,365.2 L358.7,357.8 L366.2,357.9 L372.5,358.0 L379.8,358.8 L390.5,362.0 L393.9,362.7 L386.5,367.7 L389.7,366.5 L399.0,368.0 L408.0,375.3 L410.3,377.5 L427.3,377.9 L437.1,379.4 L457.3,382.7 L466.8,365.9 L477.8,366.0 L479.5,369.5 L480.3,368.8 L475.4,367.7 L474.3,367.5 L482.6,373.2"/><path d="M343.1,309.2 L346.4,315.0 L349.2,317.6 L352.3,322.0 L359.0,329.4 L365.4,337.5 L370.6,342.6 L372.4,342.8 L373.0,344.0 L376.1,347.6 L381.0,356.3 L384.5,358.9 L389.6,363.5 L394.1,366.8 L401.7,374.9 L406.4,380.0 L409.5,381.2 L411.3,382.5 L418.0,390.6 L418.6,392.9 L427.7,401.4 L432.8,406.0 L438.4,407.2 L441.9,407.9 L444.8,408.3 L449.6,408.5 L447.4,408.5 L451.1,407.9 L453.8,408.1 L459.5,404.1 L463.6,401.1 L467.0,396.5 L471.9,395.4 L477.8,393.5"/><path d="M580.6,396.6 L586.9,396.8 L593.9,397.1 L599.2,396.7 L606.4,396.4 L614.1,397.4 L622.6,398.0 L631.8,399.5 L640.4,400.5 L645.0,399.4 L650.7,398.7 L656.4,399.0 L665.2,399.4 L669.8,398.3 L677.5,397.9 L684.9,398.0 L693.5,398.3 L697.7,397.6 L702.4,397.2 L707.6,397.3 L712.1,397.3 L717.2,396.8 L725.2,396.5 L732.5,396.2 L740.5,395.6 L744.8,395.0 L751.3,395.1 L756.0,394.5 L765.2,394.7 L774.2,395.0 L782.0,395.2 L789.3,394.7 L798.4,394.6 L807.4,394.4"/><path d="M80.8,234.9 L76.7,240.3 L76.1,236.8 L75.4,243.7 L79.4,243.5 L76.5,248.1 L78.7,250.8 L83.7,249.3 L83.5,255.5 L83.9,254.0 L87.9,261.8 L91.0,261.1 L91.4,258.7 L91.4,258.0 L92.4,260.6 L94.6,256.7 L97.1,257.4 L99.5,258.2 L107.9,257.2 L111.1,253.7 L107.4,263.5 L112.1,278.5 L112.7,277.2 L149.2,281.0 L151.1,275.7 L151.9,271.2 L148.1,271.0 L155.0,268.0 L163.9,268.6 L165.7,269.0 L169.9,268.8 L168.6,266.9 L168.6,265.0 L167.1,263.3"/><path d="M163.0,265.3 L166.6,267.6 L172.8,271.6 L176.6,273.5 L168.8,267.7 L169.1,268.1 L169.7,270.9 L164.8,270.1 L171.1,269.1 L175.3,271.2 L171.9,275.5 L175.1,276.7 L172.8,271.6 L188.3,272.6 L185.1,272.6 L186.1,276.4 L184.8,278.2 L193.0,282.0 L199.2,287.6 L198.5,285.9 L208.1,288.2 L206.7,285.3 L214.2,286.9 L203.7,288.1 L213.9,293.7 L210.4,288.3 L217.8,292.5 L221.8,293.9 L230.8,298.2 L237.3,300.6 L236.9,300.1 L240.0,298.4 L249.2,300.0 L248.7,295.6"/><path d="M61.1,293.8 L70.7,296.2 L83.8,298.6 L88.2,300.1 L94.3,301.9 L106.8,301.9 L104.8,299.8 L116.9,301.6 L131.2,300.7 L133.8,301.0 L140.5,301.8 L134.3,301.6 L126.2,304.2 L132.3,308.0 L152.0,310.8 L158.8,306.8 L157.6,302.3 L169.9,302.7 L172.9,305.3 L191.1,306.4 L200.6,311.2 L232.1,315.6 L239.1,314.2 L240.7,309.9 L250.6,311.2 L262.9,312.1 L277.5,316.4 L276.6,321.5 L284.2,323.5 L298.2,327.1 L297.2,324.7 L293.3,334.6 L303.6,344.3 L310.2,341.2"/><path d="M-85.5,218.2 L-85.7,220.0 L-77.8,222.1 L-64.7,219.9 L-83.9,223.4 L-81.2,242.2 L-78.9,241.0 L-73.6,238.8 L-66.0,241.7 L-57.4,239.8 L-48.1,241.1 L-34.4,242.4 L-12.6,245.6 L-5.4,248.4 L4.7,247.7 L12.9,245.1 L9.3,250.5 L14.7,247.7 L6.3,246.9 L6.1,257.4 L3.6,260.3 L10.4,263.7 L18.6,267.6 L19.7,270.7 L29.7,275.2 L31.0,277.1 L38.2,277.9 L51.2,282.7 L56.8,279.1 L66.3,281.4 L70.6,280.9 L71.9,284.3 L85.7,284.3 L97.2,288.7"/><path d="M368.5,373.7 L376.3,374.7 L381.6,377.3 L377.8,377.6 L380.3,375.2 L383.4,374.6 L385.6,373.0 L390.7,376.7 L391.1,390.6 L391.6,396.8 L389.3,392.8 L396.3,397.3 L397.1,399.2 L407.4,402.2 L407.2,402.2 L413.3,403.2 L419.1,404.1 L419.2,404.0 L422.7,404.2 L426.6,405.0 L429.8,405.4 L436.4,406.7 L441.0,407.8 L445.1,408.5 L446.0,408.7 L449.3,408.8 L452.4,409.7 L459.4,410.7 L457.9,410.5 L456.6,409.9 L461.6,406.9 L463.7,406.2 L470.5,404.6 L472.8,401.0"/><path d="M146.2,237.9 L152.6,233.8 L154.0,231.8 L160.0,229.6 L161.5,225.0 L170.0,223.8 L172.9,225.9 L175.9,241.5 L177.3,245.2 L186.2,252.3 L185.9,250.0 L189.7,250.6 L194.2,253.0 L197.5,252.5 L206.7,255.5 L213.1,255.3 L216.7,254.0 L222.6,258.1 L228.8,261.5 L225.6,261.4 L231.6,266.2 L232.8,268.0 L231.8,264.3 L235.7,263.9 L237.1,262.1 L242.6,260.0 L246.1,259.4 L254.6,262.4 L262.3,265.9 L264.8,264.4 L268.5,263.1 L276.2,261.8 L282.1,261.1 L289.9,262.5"/><path d="M591.0,330.9 L590.4,330.3 L594.0,330.1 L591.2,331.5 L593.2,329.8 L595.8,331.5 L601.3,335.4 L603.6,341.7 L610.3,337.6 L611.2,343.7 L616.5,349.3 L624.2,364.4 L626.3,365.6 L627.7,370.6 L632.5,369.1 L637.4,372.2 L645.6,377.3 L644.3,377.7 L639.5,375.7 L644.8,374.5 L645.3,376.9 L652.2,382.4 L658.0,373.6 L663.2,376.9 L667.1,370.4 L667.2,365.1 L677.5,366.8 L679.1,362.7 L666.7,363.0 L670.3,360.0 L670.5,361.2 L674.1,357.1 L682.9,355.0 L691.8,356.6"/><path d="M281.1,308.2 L286.7,312.2 L286.6,315.9 L290.0,317.2 L289.2,312.3 L291.0,313.6 L297.5,313.7 L298.8,317.6 L305.4,318.4 L313.1,316.6 L319.7,320.5 L328.6,323.0 L332.2,324.8 L338.3,325.8 L340.3,325.8 L355.7,328.4 L354.4,331.9 L352.0,333.7 L358.2,339.1 L355.8,339.4 L359.4,341.5 L362.8,343.9 L366.5,343.4 L373.4,352.8 L379.3,356.6 L383.8,358.7 L386.8,359.9 L391.1,360.9 L394.8,359.4 L397.3,359.7 L405.3,367.0 L411.7,365.9 L412.1,370.1 L410.1,366.0"/><path d="M-40.1,216.6 L-36.4,218.1 L-31.7,220.7 L-27.9,219.4 L-27.3,223.7 L-17.4,222.1 L-7.2,224.0 L-7.0,226.6 L-7.1,227.7 L-3.0,230.4 L2.2,236.1 L9.3,235.5 L19.0,239.5 L13.4,243.5 L11.5,245.1 L15.6,254.3 L21.9,263.2 L18.6,266.8 L27.8,265.3 L21.5,269.6 L23.6,272.9 L28.2,275.9 L36.0,276.8 L38.8,280.8 L37.9,281.9 L34.9,282.8 L30.9,285.5 L40.3,288.5 L42.6,289.3 L46.1,293.3 L49.8,293.5 L44.4,291.8 L44.9,293.4 L44.6,294.8"/><path d="M-42.8,305.2 L-38.1,305.1 L-33.1,305.7 L-28.6,306.0 L-21.8,306.7 L-16.9,306.8 L-8.4,306.4 L-2.3,306.8 L2.6,307.1 L8.4,307.4 L18.0,308.3 L23.2,309.1 L29.0,309.3 L35.1,309.9 L44.3,311.4 L53.3,312.5 L61.6,313.9 L66.3,314.4 L74.9,315.5 L82.3,316.6 L86.5,317.1 L94.3,318.7 L99.7,319.7 L107.0,321.0 L112.1,321.5 L120.8,322.9 L128.7,323.7 L138.0,325.6 L146.3,327.1 L155.8,329.2 L160.3,329.7 L167.5,331.3 L171.8,332.3 L176.1,333.2"/><path d="M276.6,272.6 L289.8,275.3 L304.3,278.3 L317.2,280.5 L327.4,282.5 L335.3,285.0 L349.4,287.4 L358.8,289.4 L369.2,291.5 L383.7,294.5 L398.8,298.0 L407.8,299.4 L423.7,303.5 L432.0,305.7 L447.3,309.5 L460.9,312.8 L475.7,316.5 L491.3,320.8 L501.0,323.7 L512.5,326.6 L525.0,330.2 L535.7,333.1 L546.3,336.5 L558.6,339.7 L569.5,343.2 L581.0,346.2 L595.5,349.9 L605.4,352.9 L613.8,355.0 L622.4,357.8 L634.9,361.1 L649.5,364.0 L658.1,366.6 L666.6,369.1"/><path d="M-95.1,311.3 L-91.7,311.0 L-87.6,311.2 L-83.5,310.7 L-79.1,310.5 L-73.8,309.8 L-70.2,309.8 L-65.3,309.4 L-59.8,309.8 L-53.8,309.9 L-49.8,309.6 L-44.8,309.4 L-40.8,308.7 L-33.9,308.8 L-30.5,308.7 L-23.4,308.4 L-17.2,307.4 L-13.4,306.9 L-8.1,307.4 L-4.2,307.0 L2.0,306.7 L6.8,307.0 L10.3,307.2 L16.6,307.1 L22.4,306.8 L27.5,307.2 L32.7,307.5 L37.4,307.4 L42.1,307.6 L46.0,307.8 L53.1,308.5 L57.7,308.4 L63.9,308.2 L68.0,309.2"/><path d="M557.5,312.9 L562.8,314.3 L568.6,316.4 L574.4,317.9 L577.8,319.6 L582.3,320.8 L586.9,321.7 L592.5,323.4 L596.3,324.9 L599.6,325.9 L603.5,327.0 L608.6,328.8 L616.1,330.8 L620.5,332.3 L626.5,333.4 L630.3,334.5 L634.7,335.6 L640.2,338.2 L646.6,339.1 L653.9,340.4 L657.7,340.7 L661.1,341.3 L667.4,343.1 L672.8,344.7 L677.0,345.4 L682.5,346.7 L687.7,348.4 L692.4,349.7 L698.8,351.0 L703.1,352.2 L708.0,353.9 L711.6,354.7 L717.6,355.6 L722.6,357.0"/><path d="M671.5,393.6 L683.8,395.8 L696.2,397.7 L705.8,399.1 L715.0,400.2 L725.4,401.5 L736.7,402.5 L744.3,402.7 L758.6,403.9 L765.5,404.0 L775.8,404.8 L785.3,406.2 L793.2,406.6 L804.7,407.0 L811.1,406.9 L823.4,407.3 L832.4,407.4 L841.8,407.4 L856.0,407.3 L869.6,407.5 L879.0,406.9 L889.8,406.6 L903.1,406.8 L915.8,406.9 L923.1,406.7 L929.7,406.3 L937.5,405.3 L951.0,405.6 L959.0,405.8 L970.0,405.8 L977.9,405.5 L985.6,405.1 L994.0,405.4 L1005.9,405.7"/><path d="M583.9,387.3 L584.4,384.3 L603.0,389.7 L596.0,383.9 L589.5,382.3 L588.4,380.2 L612.8,383.6 L625.5,382.4 L624.0,379.5 L647.2,384.0 L671.9,387.6 L674.9,388.6 L682.6,388.8 L705.4,389.7 L708.4,391.4 L716.2,401.4 L720.2,398.0 L723.7,397.4 L731.6,401.4 L743.1,396.9 L754.7,400.5 L764.1,403.5 L763.5,398.2 L759.2,399.7 L757.8,401.5 L745.7,397.3 L768.4,399.1 L782.4,395.9 L791.9,393.2 L796.5,392.2 L802.1,390.9 L797.4,384.7 L799.2,387.3 L803.0,385.8"/><path d="M432.1,313.8 L433.8,320.1 L435.9,323.8 L438.9,330.6 L440.5,337.8 L445.3,351.4 L446.6,357.7 L445.0,351.1 L446.7,356.7 L445.7,352.9 L447.4,360.1 L448.1,367.1 L453.3,381.5 L456.4,390.3 L459.5,397.1 L463.6,410.0 L466.6,411.9 L467.4,411.9 L472.1,404.5 L472.9,400.3 L474.0,395.4 L477.9,385.6 L482.1,376.5 L483.8,371.1 L485.7,365.3 L489.2,357.1 L488.3,359.5 L492.5,351.0 L496.4,342.0 L497.4,339.9 L497.2,339.3 L503.0,324.2 L505.6,319.2 L507.5,313.2"/><path d="M528.3,317.2 L533.3,324.7 L553.1,331.2 L559.0,341.7 L569.7,341.7 L579.0,347.2 L590.1,360.7 L604.2,365.6 L616.9,385.6 L618.1,384.2 L624.6,385.0 L635.6,388.1 L631.3,392.5 L635.9,394.1 L636.0,399.4 L638.3,405.1 L644.2,406.2 L657.6,410.2 L666.5,403.6 L670.2,408.7 L671.8,408.9 L684.9,410.0 L684.6,407.6 L689.1,412.7 L700.2,411.7 L705.8,411.5 L720.0,418.3 L734.6,420.7 L732.6,419.3 L743.1,418.6 L751.7,420.3 L755.8,422.6 L751.2,425.0 L753.0,429.5"/><path d="M-8.2,270.1 L-0.9,270.0 L3.2,270.0 L8.2,270.2 L14.3,270.6 L20.3,270.2 L25.4,270.4 L28.9,270.1 L33.3,269.9 L39.1,270.0 L42.4,269.9 L48.4,270.1 L52.0,270.9 L56.4,271.0 L64.1,271.2 L68.2,271.0 L72.3,271.7 L77.1,271.4 L82.0,272.0 L86.7,272.1 L91.6,271.7 L95.5,271.7 L103.1,271.7 L106.5,271.7 L110.1,271.8 L113.4,271.7 L116.9,271.6 L121.6,271.4 L127.5,272.4 L133.7,272.9 L140.4,273.7 L144.1,273.6 L147.9,273.7 L154.5,274.1"/><path d="M624.9,311.7 L640.4,315.8 L649.1,317.8 L657.5,320.3 L666.1,321.7 L674.8,324.0 L684.1,325.6 L695.3,328.2 L704.2,330.1 L714.2,331.9 L727.6,334.5 L738.3,335.9 L752.0,338.1 L765.4,339.9 L779.0,342.0 L786.4,343.3 L801.2,345.3 L810.3,345.1 L820.6,345.5 L833.5,345.1 L845.6,344.4 L856.2,344.1 L871.3,343.6 L880.0,343.8 L891.5,343.3 L903.1,343.3 L918.4,343.9 L931.4,343.9 L943.3,343.7 L957.3,344.5 L966.3,344.6 L979.1,344.9 L986.2,345.0 L998.9,345.1"/><path d="M295.5,279.2 L301.6,280.2 L306.1,281.1 L313.3,282.3 L319.3,283.2 L328.9,284.2 L334.4,285.4 L343.9,286.7 L351.0,288.1 L361.1,289.0 L370.1,290.5 L377.9,291.5 L383.4,292.4 L388.5,293.1 L395.2,294.2 L402.8,296.4 L410.3,298.1 L417.4,299.2 L426.3,301.4 L435.2,302.9 L443.5,304.5 L452.8,306.3 L462.8,308.9 L472.7,311.1 L480.6,312.3 L486.0,313.5 L491.4,315.8 L496.6,317.4 L504.5,318.9 L512.1,320.4 L517.6,321.1 L527.4,323.4 L536.5,326.0 L543.5,327.2"/><path d="M618.9,347.4 L615.6,341.6 L617.2,344.4 L607.2,336.1 L609.7,338.7 L611.7,337.3 L614.4,340.9 L615.1,336.3 L618.8,332.9 L622.8,341.0 L627.4,344.8 L629.2,347.3 L635.5,350.3 L643.6,350.0 L637.9,355.6 L639.3,360.4 L641.8,363.5 L641.6,361.7 L640.9,357.9 L643.4,360.4 L646.0,363.1 L652.3,367.2 L653.4,369.9 L657.9,382.6 L661.1,379.8 L664.9,379.9 L663.4,386.5 L668.1,390.4 L668.1,388.5 L670.9,411.0 L673.2,411.6 L678.2,439.6 L675.5,437.3 L675.2,426.9"/><path d="M347.0,337.5 L355.7,338.0 L364.6,339.9 L377.8,342.8 L384.8,343.6 L394.7,344.5 L401.9,345.6 L415.8,347.3 L422.6,348.5 L433.4,350.2 L442.2,350.8 L453.8,353.0 L468.0,355.4 L476.5,357.3 L488.4,359.7 L496.7,361.3 L504.9,362.4 L517.1,363.1 L529.5,365.3 L539.7,366.7 L554.2,369.4 L566.4,371.3 L578.2,373.1 L586.1,373.4 L597.8,375.1 L610.7,377.5 L618.1,378.2 L631.6,380.9 L645.8,383.1 L655.0,384.3 L665.7,385.2 L674.4,386.1 L687.0,388.0 L698.5,389.3"/><path d="M214.5,267.9 L221.8,269.5 L229.7,270.8 L244.2,273.0 L255.6,274.7 L268.7,276.6 L280.2,278.1 L289.0,278.8 L295.8,279.4 L308.8,281.3 L318.3,282.8 L328.1,284.5 L337.3,286.4 L349.8,288.2 L360.7,289.4 L373.3,290.9 L380.0,291.7 L391.4,293.3 L405.6,295.9 L417.8,297.6 L425.4,299.1 L440.1,301.5 L451.9,302.8 L461.4,303.7 L474.7,305.2 L487.0,307.4 L500.4,310.2 L512.4,312.6 L526.4,316.0 L533.7,317.8 L541.3,319.7 L548.4,321.0 L557.9,322.3 L570.0,324.9"/><path d="M308.5,346.3 L308.8,345.9 L296.5,346.4 L293.6,344.3 L302.0,344.0 L315.7,352.9 L320.5,356.2 L325.2,358.1 L320.0,364.4 L348.8,374.1 L357.8,373.6 L363.9,380.1 L367.3,383.2 L376.3,388.0 L382.5,386.8 L388.1,386.0 L395.3,393.8 L410.2,402.5 L435.6,406.7 L436.9,407.1 L433.2,406.5 L440.2,407.6 L452.6,409.6 L457.2,410.2 L454.1,409.9 L451.2,409.2 L452.4,405.8 L457.5,404.3 L464.4,405.1 L460.5,408.2 L455.1,405.7 L455.7,406.4 L455.7,401.6 L458.5,399.9"/><path d="M415.4,316.2 L438.7,319.6 L446.6,320.8 L451.2,318.3 L460.1,320.1 L466.3,321.4 L472.4,321.5 L475.8,323.8 L478.7,328.8 L479.0,333.2 L482.8,334.1 L486.7,332.8 L476.5,328.4 L483.7,323.5 L486.8,329.5 L483.6,332.8 L485.8,328.2 L494.6,336.2 L492.6,335.4 L498.4,324.9 L500.4,321.9 L492.7,322.4 L503.0,322.1 L503.6,302.7 L519.1,301.9 L527.3,303.1 L535.5,309.1 L539.0,307.8 L543.6,307.1 L549.0,304.0 L559.2,304.8 L566.8,308.2 L567.7,305.7 L574.7,307.8"/><path d="M620.5,392.7 L647.0,395.1 L652.7,397.0 L669.4,399.7 L662.3,402.5 L659.6,402.9 L671.2,410.8 L685.0,415.4 L687.0,418.7 L680.2,418.7 L682.1,422.5 L695.2,426.0 L699.5,421.4 L712.1,427.3 L726.3,425.6 L735.6,424.9 L733.9,425.6 L732.3,430.8 L733.4,433.0 L739.5,427.1 L739.1,428.3 L751.5,428.9 L757.5,435.8 L763.5,436.6 L769.5,441.1 L767.6,441.6 L756.4,445.1 L766.8,450.9 L763.6,453.3 L758.7,452.0 L761.1,447.5 L755.6,450.3 L769.5,453.1 L771.4,452.7"/><path d="M209.7,348.0 L210.5,344.2 L214.1,348.7 L214.8,348.1 L215.8,347.0 L226.9,347.5 L228.6,352.7 L229.4,354.9 L228.5,356.1 L235.6,357.6 L241.1,360.1 L235.7,357.9 L235.7,357.6 L238.4,359.4 L238.0,358.8 L235.5,357.4 L237.7,358.1 L240.4,355.6 L242.7,357.9 L243.1,355.9 L255.6,357.1 L259.1,355.7 L258.2,349.2 L263.3,349.8 L267.9,344.7 L270.1,350.2 L271.1,350.2 L275.8,348.8 L278.5,347.3 L283.5,346.8 L284.3,349.0 L288.1,346.8 L289.2,340.5 L292.1,341.0"/><path d="M170.8,245.7 L181.9,247.6 L194.1,249.5 L206.8,251.2 L217.2,252.3 L227.9,253.9 L241.7,255.9 L253.4,258.6 L262.4,260.3 L272.5,262.0 L286.1,264.5 L294.3,265.6 L307.8,267.2 L317.5,269.6 L323.5,270.8 L330.3,271.4 L339.8,272.3 L350.4,273.7 L358.7,274.9 L372.2,277.3 L385.8,279.0 L394.0,281.4 L402.7,283.3 L410.9,285.1 L417.3,286.4 L428.9,288.9 L435.9,291.1 L449.3,293.6 L459.5,296.0 L469.0,297.6 L480.5,300.6 L489.9,303.0 L502.8,306.2 L511.5,307.3"/><path d="M641.5,346.3 L648.5,349.5 L664.2,355.2 L666.1,353.8 L667.8,356.5 L671.4,362.0 L674.0,362.1 L677.1,365.1 L679.0,370.8 L680.6,377.0 L678.0,370.5 L680.2,369.6 L682.8,382.5 L682.9,376.5 L685.6,379.4 L687.5,381.3 L689.0,384.3 L688.3,383.9 L693.2,388.6 L693.7,382.7 L699.3,386.8 L700.0,393.2 L709.6,395.4 L712.5,393.1 L708.8,395.5 L711.5,396.8 L711.1,399.7 L713.6,402.1 L719.2,403.9 L720.4,405.2 L726.0,404.5 L729.8,407.0 L730.5,409.1 L736.9,407.7"/><path d="M661.9,393.6 L668.6,393.7 L676.0,393.1 L682.3,393.4 L690.5,393.4 L695.2,393.9 L700.7,394.0 L709.7,394.5 L718.4,395.3 L723.7,395.5 L732.7,396.5 L737.4,396.4 L742.1,395.8 L750.7,395.2 L758.3,395.6 L762.8,396.2 L771.0,396.1 L779.5,395.9 L785.9,397.0 L794.5,397.3 L804.1,397.5 L812.6,396.6 L819.8,395.6 L828.0,394.4 L833.4,394.1 L843.6,393.9 L848.2,393.4 L855.8,392.6 L865.9,392.1 L874.4,391.0 L883.3,390.9 L892.7,389.6 L902.5,388.3 L910.8,387.6"/><path d="M618.2,300.7 L628.4,302.6 L640.1,304.9 L650.0,307.1 L656.4,307.9 L665.3,309.9 L672.9,311.7 L681.8,313.1 L690.8,314.4 L700.3,316.8 L710.3,318.2 L721.0,320.5 L728.3,322.3 L736.9,323.6 L744.4,324.1 L755.7,325.4 L767.5,327.2 L773.0,327.6 L779.0,328.4 L784.6,329.2 L795.3,330.6 L805.9,331.2 L813.8,330.8 L824.5,330.7 L830.2,330.3 L837.4,330.1 L843.2,329.9 L853.9,330.1 L865.0,329.9 L875.0,329.9 L882.3,329.8 L890.4,329.7 L896.0,329.9 L903.7,329.8"/><path d="M423.0,310.1 L433.4,313.1 L427.4,307.4 L419.6,306.6 L427.7,305.5 L429.9,304.3 L434.1,310.6 L432.8,311.8 L435.9,312.2 L436.0,324.2 L450.5,321.3 L448.9,319.7 L454.4,318.5 L458.9,316.1 L470.4,323.6 L469.3,322.6 L474.8,327.9 L474.4,313.8 L481.5,305.9 L492.6,314.0 L493.6,310.2 L510.2,306.3 L509.3,306.9 L522.4,311.1 L540.7,313.8 L552.4,314.2 L549.5,313.5 L561.5,318.9 L552.4,312.7 L555.2,310.0 L566.7,313.5 L568.7,315.6 L580.7,316.5 L612.2,327.4"/><path d="M175.7,326.4 L183.8,327.4 L190.4,328.3 L195.3,328.5 L199.9,328.8 L208.0,329.9 L215.0,331.1 L223.4,333.5 L229.5,335.0 L234.1,336.2 L241.3,337.4 L246.3,338.1 L254.1,340.3 L260.0,341.6 L266.4,342.7 L273.7,343.4 L282.0,345.2 L286.5,346.4 L292.9,348.7 L302.3,351.0 L309.0,352.3 L315.9,352.9 L323.2,354.1 L329.9,355.7 L337.2,357.2 L343.0,357.9 L347.3,359.3 L353.1,360.6 L360.0,362.0 L364.2,361.8 L369.8,362.4 L375.4,363.7 L383.2,365.6 L390.0,366.7"/><path d="M185.9,281.6 L167.4,275.9 L144.8,272.4 L151.7,272.7 L151.8,275.7 L152.3,277.8 L158.2,279.8 L159.6,282.9 L159.7,280.2 L158.4,285.1 L161.3,283.2 L171.1,282.3 L181.4,282.7 L186.6,281.4 L187.6,280.3 L190.9,276.5 L196.6,278.7 L200.0,281.2 L205.1,281.5 L211.4,271.6 L219.0,272.0 L228.1,291.9 L225.3,290.6 L227.0,290.4 L227.1,292.5 L227.6,293.0 L231.7,295.5 L235.0,301.0 L235.2,298.7 L241.8,301.5 L251.3,307.0 L255.3,313.3 L254.6,311.9 L258.5,313.6"/><path d="M565.6,286.9 L574.8,288.9 L585.4,291.4 L596.2,293.2 L604.7,295.5 L611.8,297.4 L626.8,300.2 L640.1,302.8 L652.9,304.8 L662.1,307.2 L672.4,309.2 L685.8,312.0 L697.3,314.3 L704.2,315.7 L711.5,317.1 L719.7,318.8 L726.9,320.2 L739.5,322.0 L751.7,323.6 L762.5,325.1 L776.1,326.6 L789.7,328.7 L798.3,329.6 L807.1,330.0 L821.7,330.1 L831.1,329.8 L840.5,329.7 L849.7,329.9 L859.0,330.2 L869.1,330.4 L884.4,330.6 L896.0,330.8 L903.1,331.0 L917.6,331.3"/><path d="M19.0,226.1 L24.0,228.0 L26.9,227.0 L31.0,228.0 L40.0,227.9 L46.8,229.9 L44.0,231.3 L45.2,236.3 L50.1,237.8 L47.8,237.6 L50.7,236.4 L54.2,240.6 L58.6,242.8 L63.5,244.3 L62.4,247.1 L62.6,252.2 L67.3,257.2 L72.3,257.7 L73.6,258.1 L74.6,259.5 L77.4,259.3 L85.1,262.1 L83.3,250.3 L91.4,255.5 L95.1,255.2 L99.9,257.0 L99.9,259.0 L106.5,263.0 L110.3,260.3 L113.9,264.7 L117.3,265.9 L120.2,269.0 L124.8,268.2 L129.4,271.4"/><path d="M67.6,231.2 L71.2,232.9 L56.7,234.6 L64.6,234.7 L62.4,238.9 L70.6,240.4 L80.5,243.9 L90.3,240.8 L88.8,246.5 L99.4,246.8 L102.1,248.6 L105.4,248.2 L103.0,247.8 L109.2,245.4 L103.3,247.4 L119.0,248.2 L118.5,251.0 L136.1,257.3 L139.3,257.5 L153.3,261.9 L161.0,258.4 L181.8,262.2 L173.6,260.9 L179.7,261.1 L188.2,269.9 L195.9,266.0 L196.4,264.0 L201.9,248.8 L211.6,253.7 L225.4,255.2 L234.9,259.4 L237.8,258.2 L238.8,258.2 L238.8,260.3"/><path d="M-31.4,254.8 L-28.6,257.2 L-22.3,260.3 L-24.2,262.6 L-21.4,265.3 L-21.8,266.1 L-22.5,264.4 L-19.9,265.3 L-16.1,267.8 L-13.3,269.4 L-3.4,273.3 L-1.5,274.2 L6.1,276.2 L11.2,276.3 L8.0,276.1 L3.1,276.5 L8.6,276.0 L14.7,284.3 L19.7,284.8 L24.4,284.9 L26.4,287.3 L26.4,293.6 L31.9,292.7 L35.6,295.0 L39.9,298.1 L39.1,300.8 L42.0,302.7 L45.6,307.7 L46.6,309.2 L50.4,307.9 L52.7,310.9 L62.5,305.2 L64.6,307.2 L68.0,308.0"/><path d="M107.0,222.3 L113.8,222.5 L120.4,221.9 L125.4,222.9 L133.9,223.1 L142.4,223.9 L150.9,224.8 L160.8,226.2 L166.7,226.1 L174.9,227.0 L181.5,227.5 L187.3,228.4 L193.1,229.2 L200.6,229.5 L207.4,230.6 L214.9,231.1 L219.7,231.7 L228.3,232.7 L233.8,233.1 L243.0,234.0 L251.7,234.8 L262.0,235.6 L270.9,236.6 L279.0,237.3 L287.0,238.6 L296.2,239.5 L306.0,240.0 L313.7,240.4 L319.6,240.9 L327.3,241.4 L332.3,242.1 L342.0,242.9 L347.0,243.6 L352.3,244.0"/><path d="M26.1,221.5 L34.6,216.6 L41.1,215.1 L42.0,213.4 L46.3,213.6 L46.1,214.9 L52.7,216.7 L68.5,216.5 L72.3,216.8 L74.5,217.0 L81.7,215.9 L90.4,214.7 L137.0,218.4 L139.0,219.4 L144.7,220.7 L147.1,228.0 L146.0,228.8 L159.4,233.1 L171.2,235.9 L180.1,240.7 L188.7,243.8 L204.4,237.9 L208.6,243.2 L195.5,242.7 L194.0,245.0 L191.0,246.7 L190.2,251.5 L200.5,253.7 L211.4,258.0 L201.8,256.9 L205.8,259.3 L222.0,265.8 L229.0,264.6 L236.0,264.4"/><path d="M82.5,263.2 L93.7,264.1 L106.2,265.0 L115.7,265.6 L122.5,266.4 L136.6,268.4 L144.8,270.1 L156.1,272.2 L168.8,273.9 L180.9,276.0 L191.8,277.6 L204.5,279.4 L216.7,281.1 L223.9,283.1 L231.9,284.7 L241.8,287.0 L248.2,288.2 L259.3,290.2 L270.5,292.5 L278.1,294.9 L287.1,296.5 L294.6,297.9 L306.9,300.6 L316.5,302.4 L330.9,304.6 L339.3,306.2 L349.5,308.6 L361.4,310.9 L372.0,312.4 L386.0,314.0 L397.0,315.7 L403.6,316.8 L414.5,319.1 L428.0,322.2"/><path d="M-21.8,225.8 L-16.1,226.0 L-5.7,226.3 L1.0,226.8 L11.2,227.1 L18.4,227.4 L26.9,227.6 L37.1,228.2 L46.9,229.3 L57.0,229.9 L64.1,230.3 L72.2,230.8 L80.9,231.3 L88.9,232.2 L97.9,233.1 L103.2,233.7 L112.1,234.3 L119.3,235.0 L125.9,236.2 L132.9,237.0 L142.8,238.7 L148.0,240.0 L158.3,242.0 L167.9,243.6 L174.7,245.3 L183.5,246.6 L189.0,247.6 L195.2,248.4 L202.8,249.7 L210.0,251.0 L214.9,252.3 L225.2,254.2 L234.2,255.8 L241.0,256.7"/><path d="M66.7,256.1 L73.1,257.1 L78.5,257.7 L84.2,258.3 L90.2,259.1 L99.6,260.7 L107.3,261.9 L114.2,262.4 L123.9,263.9 L133.3,265.4 L144.8,267.2 L153.7,268.8 L160.5,270.3 L168.7,271.6 L176.6,273.2 L184.3,275.0 L190.0,275.6 L198.9,276.9 L210.2,279.4 L220.6,281.6 L230.2,282.9 L237.7,285.5 L243.0,287.2 L250.6,288.8 L256.5,291.0 L261.7,292.4 L268.0,294.0 L275.7,295.7 L287.2,298.5 L292.6,300.2 L298.7,301.2 L309.5,302.7 L315.0,304.2 L321.9,305.5"/><path d="M-50.7,239.6 L-40.5,240.1 L-34.3,240.8 L-26.7,241.0 L-18.6,241.5 L-6.6,241.2 L-0.8,241.2 L11.0,241.7 L20.2,241.8 L32.7,242.5 L43.0,243.3 L53.7,244.4 L63.8,245.5 L73.4,246.3 L84.7,247.5 L94.8,248.5 L104.3,249.2 L110.9,249.2 L117.8,251.0 L125.4,252.0 L131.9,253.1 L142.7,254.7 L150.2,256.6 L161.8,258.8 L169.3,259.5 L177.5,261.0 L188.9,263.0 L195.2,264.2 L206.5,265.9 L217.5,267.4 L228.5,270.1 L239.4,272.7 L247.4,275.3 L253.6,276.2"/><path d="M-12.9,222.6 L-7.1,222.8 L0.9,223.8 L7.6,225.2 L17.2,225.5 L26.3,225.1 L34.2,225.6 L44.1,226.4 L53.1,227.8 L62.8,228.2 L71.8,229.1 L77.6,230.2 L83.4,230.9 L90.5,231.9 L97.2,233.2 L102.7,233.9 L110.0,235.5 L114.5,236.7 L121.5,237.6 L128.9,239.1 L137.2,240.0 L142.2,240.8 L149.8,242.5 L156.0,244.1 L161.9,245.2 L168.4,247.0 L173.4,248.0 L182.1,249.9 L187.9,251.2 L195.3,252.5 L201.2,253.2 L206.5,254.3 L213.1,256.2 L221.9,257.9"/><path d="M62.6,228.7 L59.4,232.0 L62.0,235.2 L69.6,243.2 L73.9,244.6 L73.8,246.7 L92.6,251.8 L133.2,254.3 L134.9,256.7 L148.2,261.6 L153.5,265.2 L158.2,266.4 L170.0,270.4 L183.2,274.4 L195.1,281.1 L194.3,279.5 L204.6,279.2 L213.5,286.9 L213.3,289.6 L217.3,293.4 L214.7,294.5 L225.7,302.1 L250.2,304.8 L263.1,309.9 L263.0,315.4 L270.8,315.1 L271.3,319.3 L276.1,326.7 L281.5,318.5 L287.2,319.3 L287.2,316.1 L293.4,320.0 L301.4,329.7 L312.5,336.3"/><path d="M-130.3,227.2 L-122.3,227.5 L-113.3,228.3 L-104.2,229.4 L-97.0,230.0 L-90.4,230.4 L-84.3,230.7 L-78.9,231.0 L-74.2,231.4 L-65.1,232.2 L-57.3,233.0 L-53.2,232.9 L-46.9,232.9 L-40.4,232.7 L-31.6,233.0 L-25.3,233.7 L-17.3,234.1 L-10.3,234.1 L-3.4,235.1 L1.2,236.0 L7.0,237.2 L13.7,237.6 L18.4,237.8 L25.1,238.8 L29.9,239.7 L35.8,240.0 L44.0,241.0 L48.8,241.8 L53.2,242.7 L60.1,244.3 L66.5,245.6 L75.0,246.5 L80.2,247.2 L84.7,248.1"/><path d="M322.0,344.5 L336.5,347.7 L346.7,348.8 L354.6,349.8 L364.2,350.6 L371.6,350.4 L386.6,352.1 L394.0,352.6 L408.7,353.4 L422.7,355.2 L431.0,356.4 L441.9,357.8 L455.6,359.0 L467.6,360.3 L474.7,360.7 L485.4,361.5 L492.7,362.0 L506.3,363.6 L518.4,365.0 L531.9,367.0 L540.3,367.7 L551.5,369.2 L567.1,372.2 L581.1,374.5 L591.2,375.6 L600.9,376.9 L610.1,378.4 L620.3,380.2 L634.3,382.6 L644.5,384.0 L658.8,385.3 L667.1,386.4 L674.0,386.5 L684.4,386.9"/><path d="M516.6,373.9 L517.9,373.8 L523.1,379.2 L528.1,385.0 L537.5,393.8 L546.8,406.3 L552.0,412.1 L559.4,422.6 L560.8,424.8 L560.9,421.9 L564.0,427.8 L571.0,432.4 L576.7,433.9 L580.4,434.3 L582.3,432.5 L585.2,431.0 L589.8,428.6 L594.2,423.3 L602.0,415.3 L606.9,410.4 L604.5,415.1 L609.4,411.2 L611.3,411.0 L613.8,410.1 L619.8,404.6 L626.2,399.2 L632.6,392.3 L632.4,394.7 L635.0,391.0 L641.3,386.7 L641.7,390.3 L645.3,389.1 L646.3,386.2 L654.0,377.8"/><path d="M298.1,368.3 L289.3,362.9 L294.1,356.4 L300.7,360.2 L300.9,356.8 L310.4,357.1 L312.3,357.9 L316.1,379.1 L317.9,374.9 L316.4,371.8 L316.0,370.7 L317.8,371.5 L317.2,370.3 L320.1,367.7 L321.7,370.4 L326.0,370.4 L329.4,370.9 L330.0,363.3 L330.9,366.5 L338.4,371.1 L338.4,374.0 L341.4,376.3 L348.8,374.6 L351.2,367.7 L353.1,376.0 L354.8,379.1 L366.7,383.0 L370.3,384.7 L372.3,383.2 L377.0,384.3 L379.6,385.0 L385.0,388.6 L384.7,384.2 L386.8,384.4"/><path d="M521.2,370.0 L517.5,370.4 L518.0,374.4 L529.3,376.2 L535.9,386.8 L542.9,390.5 L549.4,397.0 L550.2,400.5 L552.3,401.9 L559.0,403.4 L562.0,401.8 L569.7,400.7 L579.4,405.2 L584.5,410.4 L583.9,410.9 L591.0,419.3 L592.3,419.2 L594.7,424.6 L599.1,428.5 L602.1,427.3 L601.8,429.1 L606.1,427.1 L606.7,439.7 L609.0,440.1 L611.2,440.5 L610.6,440.6 L611.3,440.8 L618.5,438.0 L627.9,440.9 L632.2,438.8 L626.9,432.4 L635.0,433.4 L635.9,445.5 L638.6,446.1"/><path d="M328.6,351.2 L336.2,352.3 L351.0,355.8 L361.9,358.0 L373.9,359.5 L384.2,361.6 L392.9,362.4 L405.8,364.6 L416.8,365.4 L427.9,366.8 L436.3,367.5 L445.8,369.1 L457.6,369.4 L466.8,370.4 L474.2,371.3 L485.1,373.1 L498.4,375.7 L511.4,378.6 L525.9,381.2 L541.8,384.6 L553.8,386.6 L566.1,389.0 L576.0,391.2 L588.0,393.6 L597.8,395.4 L607.8,397.3 L615.1,398.3 L622.8,399.7 L634.8,401.9 L643.9,403.9 L655.2,405.1 L667.0,405.9 L677.1,407.3 L685.9,406.8"/><path d="M463.6,376.2 L469.7,377.5 L478.6,379.5 L486.7,381.7 L497.5,384.3 L510.1,388.1 L516.5,389.8 L528.8,392.1 L539.4,394.7 L553.1,397.7 L564.0,400.6 L572.3,402.9 L579.2,404.7 L585.4,406.1 L595.6,408.1 L605.1,411.1 L611.9,412.9 L621.9,415.2 L630.3,417.5 L639.3,419.4 L650.0,420.5 L662.4,422.8 L670.6,423.9 L679.6,425.5 L690.2,426.7 L698.3,428.2 L710.4,429.0 L717.2,430.9 L726.9,432.4 L740.7,433.5 L750.9,434.9 L764.2,436.2 L778.1,437.8 L791.7,439.1"/><path d="M319.7,320.9 L318.3,316.8 L329.0,317.8 L339.8,310.3 L355.1,307.7 L364.2,312.4 L363.5,305.2 L360.5,303.6 L362.6,300.3 L368.1,299.0 L383.9,298.8 L384.7,294.4 L396.1,291.2 L411.6,289.4 L434.1,294.9 L449.3,294.1 L452.1,296.5 L473.9,294.5 L479.9,293.6 L483.8,294.1 L489.1,290.2 L489.0,295.5 L502.2,297.6 L509.8,300.0 L502.2,294.2 L495.2,289.7 L484.6,282.2 L501.8,281.5 L499.2,273.9 L507.7,272.2 L521.2,274.6 L530.2,275.4 L548.5,278.7 L551.7,280.4"/><path d="M474.7,412.6 L486.5,415.4 L494.0,416.8 L506.7,419.5 L509.5,419.9 L521.8,412.8 L533.8,412.4 L535.9,407.5 L541.8,406.8 L556.6,409.9 L559.8,411.8 L561.3,389.1 L557.1,387.7 L569.4,390.0 L569.1,394.6 L572.1,398.0 L590.7,404.1 L589.3,395.8 L597.2,397.5 L604.4,401.6 L602.9,398.0 L606.8,396.8 L607.4,390.1 L610.6,390.6 L607.2,391.8 L609.8,395.3 L614.0,395.6 L619.1,390.2 L622.0,392.6 L623.8,392.0 L620.5,385.5 L629.6,388.8 L638.1,391.3 L651.5,398.8"/><path d="M464.7,361.2 L470.1,358.3 L471.7,360.7 L470.2,358.5 L472.8,360.3 L472.3,361.8 L470.1,367.9 L474.6,371.7 L477.1,373.4 L481.2,373.1 L487.4,372.9 L487.7,372.2 L495.9,374.0 L502.6,379.1 L507.6,381.2 L513.9,390.6 L520.0,390.6 L527.4,390.9 L532.4,395.0 L534.3,379.9 L538.4,375.7 L542.7,370.3 L540.5,359.9 L547.2,361.7 L548.8,364.2 L552.3,361.0 L553.7,363.9 L556.8,369.3 L561.1,373.5 L561.8,378.9 L564.1,376.9 L566.0,375.3 L562.0,372.7 L563.0,366.9"/><path d="M458.6,399.8 L468.8,402.2 L476.4,404.4 L488.2,407.3 L494.9,409.5 L502.1,411.8 L515.5,415.1 L526.2,417.6 L533.3,420.0 L543.2,422.5 L549.5,423.8 L557.2,426.4 L568.4,429.4 L580.4,432.7 L591.6,436.2 L598.4,437.7 L610.3,440.2 L621.9,442.6 L635.1,445.3 L648.1,447.0 L657.1,447.8 L668.2,448.7 L677.5,449.4 L686.6,450.2 L696.5,450.8 L710.0,451.8 L718.9,452.3 L725.1,452.8 L732.4,453.2 L741.9,453.9 L752.2,454.6 L758.3,454.6 L769.9,454.4 L776.1,454.6"/><path d="M528.8,397.6 L538.1,398.3 L547.1,399.0 L556.4,399.9 L568.8,401.4 L575.2,401.4 L587.6,403.4 L595.5,403.8 L602.0,404.6 L614.5,405.9 L624.3,406.5 L633.8,408.2 L639.7,408.6 L648.2,408.8 L657.2,409.9 L663.5,410.0 L670.1,410.2 L680.9,411.5 L690.7,411.7 L702.2,412.3 L707.7,412.2 L715.5,412.2 L721.6,411.7 L734.2,412.9 L746.7,413.3 L754.6,413.2 L765.5,413.3 L777.1,413.3 L789.2,413.9 L797.3,413.6 L803.5,413.9 L812.0,413.1 L817.6,412.6 L824.1,412.0"/><path d="M420.7,381.6 L422.2,378.9 L424.7,377.5 L422.7,377.4 L426.8,377.1 L427.1,379.8 L429.0,383.6 L431.4,387.8 L438.6,392.6 L437.6,390.5 L437.6,390.3 L443.1,389.3 L441.4,383.7 L445.6,385.8 L450.9,389.0 L452.2,389.0 L452.2,386.8 L453.6,388.6 L458.5,389.0 L462.0,380.3 L468.6,389.0 L472.9,384.4 L478.3,384.9 L477.9,386.0 L479.4,386.6 L482.4,390.5 L481.7,395.9 L486.7,392.8 L467.2,396.3 L475.5,395.3 L480.1,397.5 L484.2,400.8 L489.7,395.4 L493.5,395.5"/><path d="M378.0,342.5 L384.2,343.9 L393.5,345.1 L398.2,345.5 L405.3,345.9 L413.6,347.3 L423.0,348.4 L427.7,348.8 L434.5,349.9 L441.3,350.7 L448.4,351.0 L455.5,352.1 L465.1,353.4 L472.7,353.8 L477.1,354.3 L482.5,355.0 L489.8,356.1 L494.8,356.7 L500.8,357.5 L506.6,357.4 L514.0,358.5 L518.4,358.5 L524.4,359.8 L532.9,360.5 L541.3,361.6 L548.0,362.6 L556.3,364.3 L560.5,364.5 L566.8,365.3 L571.7,365.5 L576.8,365.8 L583.6,366.6 L590.2,366.7 L596.9,367.8"/><path d="M511.7,360.1 L517.2,360.7 L523.4,360.8 L527.0,360.5 L533.6,360.7 L537.1,360.4 L541.9,360.4 L546.8,360.4 L554.0,361.6 L557.7,362.1 L561.3,362.0 L564.7,361.5 L570.1,361.6 L576.3,362.4 L581.1,362.3 L587.8,363.0 L592.8,363.3 L596.9,362.8 L603.4,363.2 L609.5,363.7 L614.1,363.8 L618.1,363.6 L625.1,364.4 L631.7,365.9 L635.1,366.1 L639.8,366.8 L645.9,367.1 L650.9,368.3 L657.7,368.9 L663.9,369.5 L668.5,369.4 L671.9,369.9 L678.5,370.8 L683.3,371.0"/><path d="M300.7,318.4 L308.6,319.0 L313.2,319.9 L318.9,320.9 L324.5,321.7 L329.2,322.3 L335.0,323.1 L340.8,323.9 L347.1,324.5 L351.3,324.7 L356.9,325.8 L361.3,326.5 L369.4,327.7 L374.3,328.7 L378.9,330.6 L383.5,331.3 L387.0,332.1 L391.9,332.8 L395.9,332.8 L401.0,333.3 L407.3,334.5 L413.9,336.1 L417.4,336.3 L423.2,336.7 L429.1,337.9 L433.2,338.4 L440.2,339.1 L444.8,340.2 L450.7,340.1 L458.5,341.4 L463.3,342.3 L467.7,343.1 L474.3,343.9 L479.2,344.8"/><path d="M424.3,383.5 L433.7,384.9 L441.0,385.5 L450.2,387.0 L457.0,387.7 L463.8,388.1 L473.4,389.1 L482.6,390.7 L490.7,391.1 L497.0,392.4 L502.0,393.6 L506.5,394.0 L511.9,395.0 L518.6,395.9 L526.1,397.7 L534.0,399.1 L539.4,399.5 L544.8,400.1 L551.9,402.3 L561.7,404.3 L569.7,405.6 L579.6,407.2 L589.0,409.2 L595.3,410.3 L601.6,411.8 L606.6,414.0 L614.2,415.2 L623.0,417.0 L629.8,417.6 L636.4,418.7 L643.7,419.6 L648.8,421.0 L654.8,421.3 L660.5,421.5"/><path d="M538.1,399.2 L546.6,400.2 L553.8,401.0 L563.6,401.7 L569.8,402.5 L577.1,403.4 L587.1,404.9 L594.3,406.4 L604.0,407.6 L609.4,409.1 L617.7,410.7 L624.4,411.3 L631.0,411.9 L639.3,412.4 L648.0,413.5 L655.9,414.4 L661.0,414.4 L666.8,414.7 L672.6,414.5 L680.3,414.6 L685.3,414.2 L690.0,414.3 L695.6,414.6 L703.7,415.4 L713.9,416.1 L722.4,417.7 L729.2,418.8 L733.7,418.8 L740.8,419.3 L747.7,419.8 L753.6,420.1 L760.5,420.5 L768.8,419.8 L777.2,420.1"/><path d="M294.5,356.2 L298.8,355.2 L300.1,354.8 L307.5,354.5 L306.5,353.5 L313.9,357.4 L318.3,363.2 L322.6,367.0 L324.0,364.6 L343.8,370.8 L336.5,374.2 L341.3,371.7 L349.5,370.3 L348.2,367.6 L356.5,371.1 L355.9,373.3 L352.8,375.0 L366.0,379.5 L373.2,384.3 L376.9,383.5 L378.7,383.6 L388.2,388.1 L390.8,389.4 L396.7,391.3 L399.7,387.6 L408.8,383.2 L413.6,383.8 L422.2,381.4 L426.4,375.6 L432.9,375.7 L432.1,381.1 L437.9,380.3 L445.6,380.3 L449.5,385.6"/><path d="M367.0,358.9 L366.2,347.4 L364.6,352.4 L370.9,358.3 L370.9,355.2 L368.0,362.9 L369.2,363.6 L371.3,367.6 L373.5,367.1 L376.9,365.1 L380.2,367.5 L387.0,372.6 L387.3,372.4 L388.8,372.0 L394.5,373.2 L401.0,371.6 L401.1,377.4 L405.6,385.1 L408.0,383.5 L411.6,385.8 L411.2,389.8 L411.6,393.7 L413.3,397.6 L417.2,399.1 L420.4,399.8 L422.4,404.3 L426.9,405.0 L430.5,406.0 L438.4,403.9 L441.0,406.0 L450.2,409.1 L458.7,410.7 L463.7,411.2 L462.7,411.1"/><path d="M557.0,429.5 L563.8,430.8 L576.0,433.3 L583.8,434.6 L597.9,436.6 L613.1,439.0 L623.8,440.8 L633.6,441.6 L646.4,442.5 L659.7,443.4 L673.8,443.9 L687.6,443.8 L703.0,444.7 L711.2,445.1 L726.5,446.2 L739.1,446.3 L751.1,446.9 L761.8,447.2 L770.7,447.2 L777.5,446.9 L793.2,447.7 L801.7,448.3 L808.6,447.3 L821.5,445.9 L829.8,445.7 L844.3,445.4 L856.8,444.4 L870.7,444.1 L882.4,443.5 L892.9,442.9 L902.2,443.0 L915.2,443.3 L924.3,442.7 L937.1,443.0"/><path d="M402.7,363.0 L409.7,363.7 L415.8,365.0 L425.5,366.5 L433.9,367.6 L442.6,369.2 L451.4,370.5 L457.2,370.8 L466.2,371.7 L472.0,372.8 L479.3,374.1 L484.7,375.5 L492.3,377.0 L497.5,377.4 L507.6,379.6 L516.3,382.3 L524.1,382.7 L529.1,384.0 L536.7,384.9 L542.1,385.9 L549.3,386.7 L556.5,387.9 L563.9,389.4 L573.6,391.3 L579.6,393.5 L590.1,395.8 L600.7,397.7 L608.2,398.4 L613.8,400.5 L623.4,403.1 L632.3,404.9 L643.3,406.8 L649.0,407.1 L656.6,407.6"/><path d="M322.5,379.8 L326.9,375.6 L334.6,371.8 L340.7,386.4 L342.0,386.9 L348.2,388.4 L351.3,388.9 L357.8,391.2 L356.9,390.9 L356.3,391.1 L362.0,392.5 L369.1,394.2 L368.6,393.9 L375.1,395.8 L384.9,398.1 L392.4,397.3 L403.2,390.7 L412.9,393.8 L420.5,391.1 L428.4,389.2 L436.7,386.9 L436.6,387.1 L439.6,388.3 L445.7,381.3 L462.7,384.6 L473.6,386.7 L473.2,386.0 L478.6,381.5 L485.7,375.4 L489.4,377.3 L494.9,372.7 L494.1,365.8 L497.3,358.9 L504.5,356.8"/><path d="M412.8,372.7 L418.8,373.7 L423.6,374.7 L430.5,376.9 L437.7,378.7 L442.0,379.8 L447.1,381.5 L452.4,382.4 L459.9,383.7 L464.3,384.5 L471.7,386.1 L478.7,388.4 L486.5,390.2 L494.4,391.9 L500.3,393.4 L505.5,394.7 L509.7,396.3 L514.9,398.2 L520.0,399.3 L526.4,401.9 L532.9,403.3 L540.1,405.4 L547.5,406.7 L552.4,407.9 L557.0,408.7 L564.1,410.8 L568.6,412.9 L573.3,414.5 L579.5,415.9 L587.0,418.0 L591.8,419.4 L596.5,420.7 L602.8,422.5 L609.8,423.9"/><path d="M441.8,367.0 L445.3,365.6 L439.6,360.6 L443.6,368.5 L447.0,362.6 L450.6,360.8 L452.8,363.2 L459.6,363.0 L461.9,361.0 L459.4,386.1 L464.4,385.7 L458.9,385.9 L465.6,386.5 L467.2,391.2 L473.8,393.7 L479.0,394.8 L482.7,397.9 L482.6,395.9 L483.8,396.4 L486.6,392.6 L490.5,397.7 L495.3,397.3 L500.5,404.1 L506.7,404.3 L506.6,403.5 L511.0,398.7 L515.8,403.1 L519.1,401.6 L518.7,402.8 L519.0,406.0 L523.3,405.3 L528.6,396.0 L532.8,394.1 L531.3,397.5"/><path d="M344.3,347.1 L353.9,347.2 L364.2,351.6 L369.3,353.2 L378.2,358.8 L383.6,361.0 L394.7,359.4 L404.2,357.1 L410.9,360.4 L418.6,363.6 L422.3,362.7 L431.8,364.6 L425.4,368.9 L433.2,367.8 L449.0,368.2 L453.9,368.1 L458.0,364.4 L464.9,366.0 L467.0,368.2 L478.6,370.3 L481.8,370.0 L493.4,367.5 L507.5,369.2 L518.0,369.9 L520.9,369.8 L524.2,365.9 L527.8,371.0 L535.8,380.7 L545.7,383.2 L550.0,383.2 L557.0,385.4 L561.5,384.5 L561.1,386.7 L562.1,383.4"/><path d="M469.2,370.9 L478.1,372.4 L486.1,372.3 L496.1,373.5 L501.9,373.6 L508.9,373.7 L513.5,374.1 L518.9,374.6 L527.3,375.2 L536.6,375.8 L545.1,376.0 L551.1,376.1 L560.0,377.6 L566.3,377.5 L573.1,378.2 L578.3,379.2 L583.0,379.2 L587.6,379.0 L597.5,380.1 L603.0,380.1 L609.8,380.8 L619.5,381.6 L627.7,382.2 L634.0,382.7 L642.7,383.6 L650.3,384.4 L660.5,384.9 L668.3,385.6 L676.5,386.5 L683.9,386.1 L692.2,386.8 L700.7,387.3 L710.5,388.1 L720.4,389.2"/><path d="M295.5,345.6 L300.1,342.6 L304.9,345.5 L312.2,348.7 L310.7,351.0 L308.2,346.8 L311.5,352.2 L313.6,353.8 L311.7,354.8 L314.7,357.7 L320.2,361.4 L325.4,366.7 L323.4,365.2 L324.4,362.9 L322.9,359.9 L323.8,352.5 L321.9,351.5 L328.3,352.4 L329.4,352.5 L339.4,355.7 L340.0,348.4 L342.9,347.2 L346.2,349.3 L348.4,349.4 L351.6,348.7 L352.8,350.6 L362.9,352.4 L370.2,355.5 L373.1,353.9 L368.5,351.3 L371.7,347.4 L375.1,346.3 L377.9,346.4 L385.8,345.3"/><path d="M298.2,344.5 L302.7,345.6 L311.9,347.0 L321.1,348.2 L329.9,349.2 L335.2,349.0 L342.7,349.9 L347.4,350.6 L353.5,351.3 L363.0,351.9 L372.3,353.5 L379.7,354.1 L388.3,354.7 L393.0,354.5 L402.1,354.5 L411.5,355.2 L418.7,355.3 L424.9,355.5 L434.2,356.1 L441.1,356.0 L449.5,356.5 L457.2,357.7 L463.3,357.4 L470.1,357.4 L478.4,359.3 L484.8,359.4 L490.8,360.0 L497.7,360.8 L502.4,361.0 L511.0,361.5 L516.3,362.0 L525.3,363.0 L530.3,363.8 L535.8,363.7"/><path d="M527.2,379.3 L535.6,380.5 L527.0,374.6 L534.5,378.0 L545.2,380.3 L550.3,387.8 L553.1,387.5 L551.9,389.7 L550.4,391.0 L560.8,389.5 L568.5,394.4 L566.8,390.8 L577.3,396.2 L584.8,396.2 L579.7,399.4 L576.4,395.7 L572.4,391.3 L580.4,395.6 L595.7,396.8 L602.0,394.9 L615.4,403.8 L628.1,404.3 L640.1,409.3 L651.6,412.7 L658.0,414.5 L671.2,411.0 L678.0,417.7 L680.1,415.9 L684.8,416.8 L692.3,415.6 L705.7,415.0 L712.9,411.4 L717.3,421.8 L725.7,423.2"/><path d="M486.9,395.6 L492.9,395.6 L492.2,392.3 L497.9,392.8 L501.2,389.6 L507.6,391.7 L522.9,395.8 L536.6,391.5 L552.4,395.9 L556.2,399.2 L567.3,401.0 L556.3,397.0 L563.5,400.0 L571.5,404.9 L579.0,406.0 L583.2,404.9 L590.8,404.5 L592.7,411.1 L595.3,407.9 L607.7,409.2 L617.6,408.3 L618.9,409.9 L635.2,416.4 L646.3,428.1 L643.8,430.5 L647.6,437.9 L646.4,438.5 L657.0,436.6 L630.5,438.4 L632.6,435.5 L640.3,434.3 L644.4,435.6 L648.5,438.8 L655.8,439.3"/><path d="M348.5,363.7 L358.1,365.9 L367.7,367.8 L375.9,370.1 L381.9,371.6 L389.7,372.0 L394.9,372.3 L404.3,373.0 L413.4,374.4 L420.4,374.9 L430.0,375.8 L437.2,377.1 L446.2,377.7 L453.6,378.8 L458.4,378.7 L467.1,379.9 L473.4,380.9 L480.7,381.9 L490.7,383.2 L496.9,384.1 L507.0,386.2 L514.4,388.5 L520.6,389.1 L526.8,389.6 L533.0,389.8 L539.7,390.4 L544.4,390.5 L554.2,391.9 L559.5,391.6 L569.9,393.1 L575.3,393.3 L581.8,394.5 L587.4,395.0 L596.2,395.7"/><path d="M327.1,357.4 L332.8,358.8 L337.1,360.7 L340.8,361.6 L346.0,363.5 L349.9,364.8 L355.2,365.8 L359.7,366.7 L365.8,368.8 L371.3,370.4 L375.3,371.6 L379.1,373.5 L384.8,375.5 L390.1,376.7 L394.1,377.5 L399.2,379.2 L402.4,380.0 L407.8,380.7 L413.4,381.6 L420.5,383.1 L425.1,384.8 L431.4,386.0 L438.5,387.2 L445.0,388.7 L449.4,389.8 L454.0,391.5 L457.4,392.8 L463.3,394.3 L467.2,394.8 L471.7,396.5 L476.0,397.5 L480.5,399.0 L485.5,401.1 L489.7,402.4"/><path d="M427.2,373.7 L431.8,374.4 L437.6,375.0 L442.2,374.0 L448.5,374.0 L452.4,373.1 L459.3,373.9 L466.6,374.6 L470.6,374.6 L478.9,375.5 L483.7,375.7 L490.2,376.0 L494.9,376.0 L502.8,377.4 L507.1,377.6 L515.1,378.7 L522.6,379.5 L528.2,379.6 L532.6,379.2 L540.4,379.8 L545.6,379.6 L549.9,379.5 L555.9,380.4 L562.3,380.8 L569.0,381.9 L572.8,381.5 L578.0,382.1 L584.4,382.6 L592.0,383.0 L596.9,383.0 L604.9,383.9 L609.3,384.1 L616.3,384.5 L625.0,385.9"/><path d="M347.1,383.9 L343.8,386.9 L351.7,389.8 L344.7,387.7 L350.7,389.1 L357.4,391.0 L364.4,392.7 L373.0,391.8 L382.5,387.7 L385.6,381.9 L378.1,376.0 L389.2,379.0 L392.9,371.7 L396.2,367.8 L394.1,382.1 L399.0,380.8 L403.2,375.8 L401.6,374.9 L400.7,370.0 L405.1,365.4 L408.1,365.2 L409.6,366.2 L422.2,372.1 L430.8,375.9 L437.4,371.5 L442.4,371.3 L446.6,370.1 L464.7,372.0 L468.8,367.9 L470.6,364.0 L476.3,357.1 L478.4,354.1 L483.3,357.1 L483.5,357.7"/><path d="M532.6,418.1 L538.2,418.8 L546.1,421.1 L551.4,422.3 L560.4,423.5 L568.3,425.5 L573.7,426.3 L582.7,428.9 L590.0,430.6 L597.6,432.3 L604.6,433.7 L614.5,435.7 L625.9,438.2 L636.6,441.1 L643.5,441.7 L653.4,442.0 L662.7,443.4 L670.9,443.7 L681.6,443.8 L686.8,444.1 L696.2,445.3 L704.9,446.0 L716.4,447.1 L725.5,447.5 L733.0,447.5 L744.5,448.0 L751.5,448.9 L757.8,449.4 L765.8,450.0 L772.4,450.8 L780.2,451.1 L791.7,452.5 L798.5,453.7 L804.4,453.8"/><path d="M447.0,386.7 L458.0,388.6 L470.6,389.9 L484.9,392.8 L495.0,395.3 L502.5,396.1 L513.3,398.6 L521.7,400.4 L535.4,403.0 L550.6,405.9 L561.8,408.2 L577.4,411.1 L586.5,412.4 L597.8,413.7 L612.1,416.9 L622.2,419.0 L630.3,419.8 L643.4,422.1 L656.1,422.6 L665.8,423.2 L680.2,424.3 L695.0,425.8 L710.6,427.7 L725.0,429.2 L735.3,429.8 L743.4,430.9 L751.5,432.3 L765.3,434.0 L777.5,434.6 L786.3,435.2 L797.5,435.7 L807.9,435.3 L815.7,434.7 L826.7,434.7"/><path d="M481.4,363.6 L487.7,366.3 L495.2,369.9 L501.3,372.5 L510.6,375.8 L516.4,378.4 L521.4,380.4 L525.8,382.5 L533.2,384.8 L540.3,388.4 L547.4,391.8 L554.3,394.6 L560.3,397.2 L568.2,399.8 L572.6,401.9 L579.2,404.7 L586.3,407.3 L593.4,409.4 L598.9,412.8 L607.2,416.5 L612.1,418.7 L619.9,421.3 L627.3,424.2 L634.8,427.2 L642.0,429.7 L651.2,431.0 L657.9,433.3 L664.9,435.5 L671.0,437.7 L676.7,439.1 L683.5,441.0 L689.5,442.2 L697.1,444.2 L704.3,445.9"/><path d="M452.6,397.0 L461.6,398.6 L477.4,402.9 L486.9,404.3 L498.6,406.9 L513.7,409.7 L527.8,412.8 L541.3,415.4 L548.7,417.2 L562.0,420.2 L569.9,422.0 L579.6,424.0 L593.7,426.5 L609.4,430.1 L620.4,431.8 L636.0,435.5 L650.0,437.3 L658.4,438.4 L667.3,439.5 L676.2,440.8 L687.0,442.5 L695.9,444.3 L706.8,445.3 L721.9,446.6 L732.4,447.8 L739.8,448.5 L755.8,449.8 L768.0,451.5 L780.7,452.7 L791.1,453.4 L804.5,454.3 L812.3,454.6 L824.9,454.7 L835.8,455.2"/><path d="M424.5,361.4 L430.1,365.1 L436.3,371.6 L437.5,370.2 L438.7,369.5 L452.0,374.3 L457.5,379.4 L458.3,377.9 L467.7,375.9 L486.2,383.1 L485.8,382.3 L495.7,388.0 L498.8,390.8 L506.4,395.9 L506.3,396.8 L504.9,399.8 L505.1,396.2 L506.5,398.5 L505.6,398.0 L508.8,401.7 L510.9,406.2 L511.9,407.0 L519.0,412.1 L529.9,411.5 L523.2,410.2 L528.9,418.4 L530.7,422.4 L528.5,424.0 L530.4,424.5 L545.1,427.2 L536.3,425.5 L536.3,423.9 L538.7,425.5 L537.4,421.6"/><path d="M455.4,405.9 L469.3,412.5 L469.8,412.5 L478.5,414.0 L494.6,408.5 L502.8,406.1 L495.9,410.0 L496.8,410.0 L504.6,406.2 L525.6,398.0 L532.7,393.6 L537.0,388.9 L545.9,384.6 L555.4,379.0 L553.6,378.3 L552.0,378.4 L563.7,370.6 L561.3,372.3 L568.8,371.4 L576.0,368.0 L578.3,366.8 L579.0,367.4 L585.2,367.2 L589.2,367.1 L591.6,367.3 L601.3,363.1 L615.9,357.3 L625.4,352.8 L629.5,352.6 L639.3,347.6 L651.6,341.7 L659.1,338.8 L659.5,337.1 L660.2,333.7"/><path d="M373.2,363.4 L374.0,365.0 L375.9,371.5 L381.8,382.1 L383.8,388.2 L388.4,397.5 L389.2,398.9 L391.3,399.5 L392.7,399.8 L396.6,398.0 L401.1,390.3 L405.1,383.1 L404.8,386.9 L404.7,386.0 L409.4,379.6 L412.5,372.1 L417.1,364.4 L419.9,359.3 L422.7,355.8 L426.1,351.2 L429.4,343.1 L435.4,334.4 L440.5,324.4 L439.1,325.7 L442.9,319.3 L441.2,322.7 L448.2,311.4 L449.5,309.7 L451.6,307.0 L451.1,308.6 L452.8,305.6 L455.9,299.5 L462.5,287.0 L465.0,280.6"/><path d="M466.4,374.4 L478.4,377.2 L484.4,378.5 L491.4,380.0 L502.5,381.8 L509.0,382.9 L520.7,385.5 L531.0,387.8 L538.4,389.4 L550.5,392.0 L560.7,393.7 L566.0,394.3 L575.4,395.9 L585.1,397.6 L592.2,399.0 L599.3,400.8 L609.3,402.3 L616.6,404.2 L623.5,405.4 L631.6,406.6 L637.0,407.7 L647.0,408.4 L658.6,410.6 L670.0,411.3 L677.8,410.9 L687.7,412.0 L694.9,412.5 L706.0,414.0 L715.9,415.5 L725.3,416.1 L736.7,417.0 L743.4,417.4 L748.9,417.7 L760.3,419.1"/><path d="M369.7,347.7 L381.4,351.6 L389.4,353.1 L399.9,354.7 L409.2,356.6 L419.3,358.0 L429.6,360.3 L436.8,361.6 L446.5,363.9 L460.4,366.9 L473.1,369.8 L482.7,372.1 L494.0,375.2 L505.6,377.7 L518.9,380.1 L531.4,382.5 L539.9,384.4 L547.6,387.1 L554.9,388.6 L563.7,390.9 L574.4,392.7 L584.5,394.9 L591.6,396.3 L598.1,397.7 L610.1,401.0 L621.8,403.2 L631.7,405.3 L639.5,406.7 L649.6,408.0 L656.0,408.6 L667.4,410.5 L681.2,412.5 L690.1,413.2 L701.2,414.9"/><path d="M578.3,426.8 L587.2,433.9 L585.0,434.6 L589.0,436.0 L584.4,435.2 L585.1,435.6 L588.4,436.1 L588.2,435.9 L592.5,436.5 L595.1,437.2 L598.1,435.6 L601.9,435.9 L597.9,436.6 L602.0,438.5 L599.1,438.4 L599.2,438.0 L605.2,439.1 L603.7,434.8 L611.6,433.8 L617.7,431.3 L616.3,429.9 L621.8,430.6 L622.0,428.8 L635.9,432.0 L637.9,425.2 L638.4,421.3 L640.0,421.6 L643.6,417.8 L643.1,415.2 L646.6,410.8 L648.2,410.8 L647.8,407.1 L652.6,402.1 L656.4,392.0"/><path d="M394.2,342.0 L405.1,343.3 L414.3,344.1 L421.7,345.2 L432.4,346.3 L439.8,347.9 L446.8,348.1 L453.1,348.5 L462.9,349.8 L472.2,352.0 L483.2,353.9 L490.6,355.1 L496.7,356.0 L503.3,356.3 L508.7,357.0 L518.1,358.6 L525.9,360.3 L531.7,361.6 L538.0,362.4 L545.6,363.3 L550.7,363.6 L557.2,364.4 L562.6,364.9 L572.2,366.5 L578.2,367.9 L588.9,369.5 L596.4,370.6 L603.9,371.6 L613.7,374.1 L621.8,374.8 L629.0,375.7 L639.6,377.0 L645.6,377.9 L655.4,379.0"/><path d="M457.9,362.6 L470.7,365.3 L478.7,367.1 L487.1,370.0 L497.8,372.4 L507.5,374.7 L514.7,376.7 L530.8,379.5 L544.4,382.5 L560.8,386.4 L572.2,388.5 L587.4,391.9 L597.2,393.9 L611.3,396.8 L621.2,399.5 L630.8,401.8 L645.5,404.3 L659.5,406.4 L669.3,408.0 L679.6,409.7 L694.4,411.3 L705.7,412.3 L713.6,413.3 L723.4,415.1 L739.4,417.5 L754.3,418.7 L762.6,419.7 L778.2,421.2 L789.4,422.6 L805.8,423.5 L821.4,423.4 L836.2,423.6 L849.8,423.6 L865.7,423.7"/><path d="M475.8,401.2 L477.1,402.0 L483.0,394.9 L480.0,393.5 L486.1,397.5 L491.1,416.6 L490.2,416.2 L493.7,416.8 L506.4,414.5 L506.6,416.4 L496.2,410.1 L498.9,410.0 L498.8,409.1 L502.2,408.8 L516.5,409.3 L520.4,404.3 L525.4,404.7 L531.7,406.1 L534.9,403.6 L535.7,407.0 L536.5,405.3 L551.4,411.0 L566.3,412.5 L569.2,418.7 L574.5,418.7 L563.0,418.8 L567.6,417.8 L561.1,414.5 L564.6,416.5 L565.8,405.5 L587.0,407.0 L594.5,407.2 L595.3,408.5 L591.6,409.1"/><path d="M321.3,342.9 L330.1,344.9 L339.5,347.0 L350.1,349.3 L360.3,352.0 L374.1,355.0 L386.2,357.9 L397.9,359.9 L411.3,362.5 L421.9,364.5 L434.2,366.8 L441.7,367.8 L455.6,370.0 L469.7,371.9 L478.0,373.4 L487.0,375.6 L496.2,377.8 L508.4,380.3 L519.2,382.5 L532.9,385.6 L543.9,387.6 L550.9,389.0 L559.7,391.1 L570.1,393.2 L580.9,395.5 L589.0,397.9 L600.7,399.9 L613.2,402.9 L627.5,406.1 L636.4,408.6 L643.0,409.1 L651.4,410.0 L662.1,411.1 L674.9,412.2"/><path d="M340.1,385.7 L351.8,389.3 L360.3,391.8 L372.5,395.2 L385.9,398.7 L397.4,400.6 L406.4,402.0 L421.0,404.3 L435.4,406.6 L444.4,408.0 L457.1,409.9 L465.8,410.4 L476.5,410.9 L492.2,412.9 L501.8,413.3 L515.3,413.6 L529.9,414.6 L541.5,415.3 L549.1,415.4 L558.1,415.4 L572.3,417.3 L579.2,417.5 L588.8,418.7 L600.7,420.0 L611.7,420.7 L621.7,420.7 L633.9,422.5 L645.5,423.5 L655.9,422.8 L671.9,422.9 L684.1,422.8 L694.0,422.1 L706.7,421.5 L719.3,421.2"/><path d="M552.7,428.8 L556.0,429.5 L557.6,428.5 L563.7,420.1 L566.7,413.5 L575.2,400.3 L575.2,399.3 L574.5,399.4 L575.8,397.1 L584.8,386.0 L588.8,381.3 L591.7,379.2 L600.7,365.2 L607.9,356.1 L611.7,348.3 L618.5,339.6 L627.7,325.7 L634.4,314.5 L639.7,307.6 L645.1,302.6 L646.9,302.5 L651.5,301.0 L654.6,299.8 L659.8,297.7 L665.8,295.4 L672.4,295.6 L679.9,297.5 L684.5,298.6 L688.5,299.7 L691.9,300.5 L693.1,300.8 L699.4,302.5 L699.7,302.5 L702.9,303.3"/><path d="M309.5,327.5 L316.7,327.6 L322.6,327.8 L332.4,329.6 L339.5,330.3 L349.4,331.4 L355.5,331.1 L360.2,330.4 L371.1,332.1 L378.9,332.9 L388.6,333.6 L396.9,334.2 L402.2,333.9 L411.9,335.4 L422.5,336.7 L432.9,337.6 L442.2,339.1 L451.1,339.6 L457.3,339.2 L464.9,339.7 L474.9,341.0 L480.6,341.2 L488.1,342.1 L493.7,341.7 L504.7,343.0 L514.1,343.6 L523.6,343.7 L529.3,343.3 L535.2,343.7 L540.6,344.6 L545.4,344.5 L555.5,346.1 L563.8,347.1 L571.4,348.4"/><path d="M363.1,354.3 L370.1,355.7 L378.0,357.2 L384.5,359.1 L388.9,359.1 L397.9,360.4 L405.5,361.3 L411.9,361.8 L417.3,363.0 L423.3,364.3 L428.6,365.1 L437.5,366.3 L443.9,367.5 L449.1,368.1 L457.6,370.1 L462.3,370.6 L471.2,372.1 L477.4,373.6 L482.7,375.2 L490.1,376.3 L495.0,377.2 L500.9,378.4 L508.0,380.2 L514.3,381.9 L522.2,384.4 L531.8,386.9 L541.3,388.3 L545.6,388.3 L553.2,389.8 L561.1,391.2 L570.3,393.1 L578.4,394.7 L586.3,395.8 L593.4,397.8"/><path d="M405.6,380.3 L417.8,382.1 L425.9,382.8 L434.3,383.5 L447.8,385.9 L457.3,386.7 L471.0,388.5 L484.8,391.1 L499.7,393.9 L511.1,396.5 L523.3,398.8 L536.0,400.5 L549.2,403.3 L562.1,406.0 L570.4,407.1 L580.7,409.5 L590.4,411.4 L598.8,412.6 L613.5,415.3 L622.3,417.0 L629.3,418.3 L642.6,419.9 L649.7,420.8 L662.4,421.6 L669.7,422.2 L684.7,423.7 L693.9,424.5 L704.0,426.2 L715.3,427.9 L729.6,428.8 L741.6,429.6 L756.0,430.4 L764.7,430.9 L771.5,431.1"/><path d="M509.1,362.7 L515.0,363.6 L520.2,363.6 L525.7,364.4 L532.5,366.3 L538.4,367.5 L544.9,368.9 L553.0,370.2 L561.0,371.7 L565.3,371.8 L571.5,372.6 L578.1,373.2 L584.6,374.2 L592.3,375.5 L598.8,376.9 L607.3,377.5 L613.8,378.1 L619.2,378.1 L624.2,378.5 L627.9,379.6 L634.7,380.6 L641.6,381.6 L647.7,383.2 L655.1,384.4 L659.1,384.8 L666.6,386.8 L674.9,387.3 L682.2,388.9 L689.0,389.9 L692.7,390.1 L698.1,390.3 L703.5,390.7 L711.0,391.7 L717.5,392.5"/><path d="M496.9,355.1 L504.9,356.1 L516.8,357.5 L516.0,361.6 L518.9,364.7 L521.3,361.8 L523.9,365.9 L512.4,368.4 L516.0,372.9 L530.1,378.9 L539.3,386.2 L541.1,378.4 L544.7,379.2 L553.1,382.5 L559.2,384.6 L559.8,388.5 L556.8,388.2 L564.2,393.7 L567.8,390.3 L571.0,387.4 L578.1,386.2 L585.8,391.9 L581.3,404.4 L583.0,407.7 L592.2,408.6 L597.2,403.9 L593.0,405.7 L594.2,408.6 L597.9,412.6 L600.6,414.8 L604.3,421.1 L611.3,423.7 L613.9,421.2 L626.5,423.0"/><path d="M504.9,398.7 L504.9,400.0 L504.6,399.1 L508.4,406.9 L510.3,411.8 L513.9,420.8 L516.5,421.8 L522.8,417.8 L526.7,409.3 L529.2,405.1 L531.6,399.7 L533.4,395.8 L535.9,394.0 L541.6,384.4 L546.2,375.4 L550.0,370.3 L552.4,366.6 L554.7,364.4 L556.7,358.8 L558.7,355.6 L560.8,350.0 L563.4,346.9 L565.2,345.0 L570.6,334.5 L573.6,325.2 L577.2,318.4 L582.9,310.7 L584.8,312.1 L590.5,302.9 L591.7,298.0 L595.9,291.3 L601.0,287.4 L608.0,283.2 L613.9,280.6"/><path d="M507.7,377.2 L516.3,379.8 L526.9,383.1 L537.6,385.7 L542.4,387.5 L549.5,389.3 L555.7,390.3 L560.6,392.2 L570.8,395.5 L578.1,396.9 L588.5,398.7 L599.1,401.8 L609.0,404.7 L618.9,407.2 L624.0,408.8 L631.3,411.2 L637.3,413.3 L642.2,414.3 L646.8,415.3 L652.7,416.2 L662.0,417.4 L672.3,418.0 L679.7,419.8 L688.6,421.1 L697.0,422.6 L703.6,423.7 L708.3,424.5 L717.2,425.6 L723.3,426.4 L732.5,428.0 L738.9,429.0 L743.6,430.0 L751.3,431.0 L756.8,431.7"/><path d="M509.0,355.1 L517.2,357.2 L523.9,358.7 L530.5,360.1 L539.1,361.5 L547.6,363.7 L555.5,365.6 L563.2,367.2 L568.9,369.1 L577.2,372.0 L586.6,374.0 L594.1,376.5 L603.6,378.8 L608.0,380.6 L616.5,382.4 L625.3,384.7 L633.5,387.6 L641.0,389.2 L649.8,391.2 L656.2,391.8 L665.2,394.0 L675.0,396.0 L684.4,398.5 L694.0,400.4 L698.4,402.0 L706.6,403.4 L713.1,404.9 L720.0,405.6 L729.0,406.7 L734.5,407.1 L739.4,408.1 L745.3,409.0 L750.2,409.4 L756.9,410.3"/><path d="M558.9,389.8 L563.5,388.2 L566.6,386.0 L574.0,387.0 L582.3,386.5 L588.9,386.2 L593.8,385.7 L595.2,383.6 L606.9,384.5 L613.0,385.7 L615.7,384.9 L622.6,384.7 L633.8,384.3 L638.4,385.2 L648.2,380.3 L653.2,379.5 L659.0,376.9 L671.8,375.3 L672.4,373.4 L679.5,373.4 L681.9,372.9 L683.1,371.6 L685.4,370.7 L696.2,370.5 L703.3,369.2 L709.3,369.9 L715.5,369.3 L719.1,366.6 L731.8,364.2 L733.5,365.2 L735.3,365.7 L735.3,365.5 L739.7,364.4 L751.0,363.1"/><path d="M330.5,346.6 L337.3,348.3 L348.6,351.3 L359.4,353.4 L365.3,355.5 L377.8,358.7 L390.2,361.5 L401.3,362.9 L413.5,365.5 L425.5,368.4 L435.0,368.8 L440.6,369.3 L448.0,370.4 L455.2,371.8 L463.9,373.5 L474.4,375.7 L485.4,378.0 L496.6,380.9 L505.8,383.0 L516.1,385.0 L525.9,386.8 L535.4,388.4 L542.7,389.9 L549.0,391.4 L555.1,392.6 L565.6,395.2 L572.3,396.8 L579.2,398.6 L585.8,400.7 L591.9,401.6 L599.4,403.4 L609.2,405.3 L615.6,406.9 L621.8,407.8"/><path d="M400.5,376.5 L405.5,377.1 L409.5,377.3 L413.5,377.4 L418.2,379.1 L423.9,380.1 L430.6,380.9 L436.9,382.3 L443.7,383.5 L447.0,384.1 L451.2,385.2 L455.5,386.3 L460.2,387.0 L466.1,388.0 L470.0,388.7 L473.7,389.9 L479.3,391.3 L482.3,392.3 L488.6,393.6 L493.2,394.3 L499.0,395.6 L505.3,397.3 L508.9,397.7 L513.4,398.9 L520.2,400.1 L526.3,401.2 L532.5,402.4 L535.6,402.9 L540.6,404.5 L544.9,405.6 L549.5,406.0 L556.5,407.2 L562.4,409.1 L568.8,409.9"/><path d="M439.8,379.1 L448.6,380.6 L456.4,381.3 L461.8,382.2 L470.6,384.3 L477.5,386.3 L485.9,387.7 L491.6,389.7 L497.2,390.4 L501.5,391.7 L507.5,393.2 L512.2,394.0 L516.4,394.6 L524.4,395.6 L529.6,396.7 L535.6,398.1 L543.9,401.0 L551.8,403.2 L557.8,405.2 L565.9,407.8 L570.1,410.0 L575.7,411.7 L584.8,414.0 L593.4,415.9 L599.7,417.4 L608.7,419.2 L617.6,421.2 L625.4,423.1 L630.7,425.2 L637.9,427.3 L644.9,427.7 L651.6,428.2 L656.9,429.2 L665.6,430.7"/><path d="M398.0,382.1 L410.7,384.5 L420.8,386.4 L433.8,389.0 L441.8,390.7 L448.0,392.4 L458.3,394.6 L464.1,396.3 L475.9,399.5 L483.6,401.2 L489.9,403.1 L501.7,406.5 L509.1,408.6 L519.1,411.7 L529.5,414.1 L539.4,416.8 L547.9,419.7 L557.9,422.3 L563.9,423.9 L574.1,426.3 L582.8,428.1 L594.3,430.9 L603.9,433.1 L613.3,435.0 L619.9,437.5 L627.9,439.3 L638.3,442.3 L648.9,443.8 L655.8,444.4 L666.1,444.9 L675.9,446.8 L683.8,447.9 L696.4,449.4 L702.9,450.4"/><path d="M340.5,377.9 L345.8,381.5 L350.3,383.0 L351.4,383.7 L364.2,388.1 L367.8,392.6 L375.9,395.6 L380.9,397.2 L386.5,398.7 L393.9,400.1 L400.6,401.1 L400.3,401.1 L409.0,402.3 L418.7,402.1 L428.6,398.6 L429.1,397.2 L437.3,395.7 L444.9,395.1 L452.6,395.4 L463.2,388.8 L471.3,385.5 L475.8,382.2 L479.0,381.6 L488.3,381.2 L495.1,378.8 L514.8,374.3 L525.3,373.6 L538.8,373.1 L551.4,371.0 L553.0,371.0 L560.5,369.3 L568.1,367.9 L576.0,368.2 L583.4,367.9"/><path d="M526.8,421.7 L539.5,421.1 L548.7,423.5 L556.9,424.4 L564.5,427.1 L573.1,426.8 L579.2,425.2 L590.2,425.7 L598.2,426.1 L606.5,426.9 L617.1,421.9 L619.3,422.9 L630.9,424.2 L630.0,424.0 L643.6,422.4 L651.7,422.2 L651.1,422.2 L657.4,420.5 L661.2,421.8 L666.9,421.9 L682.2,419.4 L687.5,419.2 L692.2,418.1 L699.7,417.5 L707.2,417.3 L720.7,415.7 L728.2,415.6 L732.8,412.0 L742.5,412.8 L751.3,410.9 L762.5,411.1 L770.8,410.6 L776.8,408.7 L789.7,409.8"/><path d="M435.9,364.8 L446.3,366.2 L452.1,366.3 L458.1,366.8 L468.2,367.9 L478.0,370.0 L485.4,371.4 L495.3,373.6 L506.0,376.0 L515.4,378.4 L526.3,380.8 L535.0,382.6 L541.4,383.7 L551.3,385.9 L559.2,387.4 L565.5,388.5 L576.3,390.1 L581.9,391.0 L587.0,391.4 L593.9,392.9 L599.9,393.9 L608.2,395.9 L618.2,398.5 L627.3,400.6 L636.1,402.9 L643.3,404.5 L654.6,406.2 L662.4,407.4 L671.0,408.3 L677.0,410.0 L687.7,411.4 L693.3,412.3 L704.1,413.9 L712.6,415.2"/><path d="M463.2,364.5 L470.6,363.9 L479.9,365.6 L488.7,366.6 L495.7,367.3 L503.2,368.3 L509.1,368.4 L514.7,368.1 L521.9,369.3 L530.4,370.6 L542.9,372.1 L554.1,372.8 L563.2,372.9 L575.0,373.7 L581.7,374.5 L593.5,375.8 L601.1,376.3 L610.3,377.7 L615.9,377.6 L624.8,378.0 L637.3,379.2 L644.7,378.6 L657.3,378.7 L666.5,378.8 L672.9,379.2 L681.9,379.3 L689.4,379.7 L699.5,379.9 L710.8,380.2 L722.0,380.3 L734.3,380.9 L744.7,381.0 L755.2,381.0 L767.1,381.2"/><path d="M301.3,353.1 L310.4,356.5 L319.2,358.3 L328.8,360.2 L337.8,362.8 L347.6,365.3 L358.5,368.5 L365.3,370.9 L370.8,372.3 L378.0,374.8 L384.5,376.3 L390.6,376.9 L398.1,378.7 L407.3,379.8 L416.2,380.6 L426.6,382.5 L434.2,384.2 L442.8,386.0 L454.4,388.0 L462.8,389.9 L469.0,390.8 L480.7,393.4 L493.1,395.9 L500.8,398.2 L512.5,401.0 L524.8,403.9 L534.8,406.0 L546.3,408.7 L553.7,410.5 L566.2,412.4 L574.1,414.5 L584.9,416.5 L594.7,419.0 L602.8,420.7"/><path d="M548.1,383.7 L559.1,385.7 L574.2,388.8 L586.2,390.2 L598.8,392.3 L609.3,393.3 L623.3,395.4 L635.1,397.3 L648.4,399.5 L660.8,399.6 L673.5,400.8 L681.6,401.7 L695.2,402.8 L706.5,403.7 L716.3,404.7 L727.6,406.3 L737.1,407.6 L746.8,408.5 L753.4,409.2 L766.2,410.2 L779.4,411.5 L792.4,412.4 L800.2,412.6 L812.0,411.9 L822.7,411.7 L832.0,411.1 L842.6,410.9 L852.1,410.0 L863.0,408.4 L877.9,408.2 L887.7,407.7 L902.6,406.6 L914.6,406.9 L928.6,406.0"/><path d="M485.0,376.6 L489.9,376.6 L495.9,376.6 L505.4,378.4 L513.2,378.5 L522.5,379.2 L529.8,380.5 L537.6,381.5 L542.7,382.4 L548.5,382.5 L557.5,383.3 L564.1,383.6 L570.6,384.0 L575.2,384.1 L580.8,384.4 L590.2,385.2 L598.9,386.1 L606.2,387.6 L610.6,387.7 L618.4,389.2 L624.7,389.5 L630.4,389.7 L635.4,390.0 L643.8,390.2 L648.1,389.8 L654.0,389.5 L663.2,389.8 L671.9,390.7 L678.8,391.3 L686.1,391.4 L694.0,391.7 L702.0,392.0 L708.9,392.3 L715.9,392.5"/><path d="M322.5,381.6 L331.2,383.8 L340.6,386.4 L352.7,389.6 L362.8,392.3 L370.8,394.4 L382.6,397.5 L393.5,399.6 L400.9,400.8 L413.3,402.8 L422.0,404.2 L432.6,406.0 L438.7,407.0 L447.5,408.4 L456.0,409.8 L464.0,411.1 L473.3,412.7 L481.7,414.2 L490.2,415.6 L496.8,416.6 L503.6,418.0 L515.7,419.3 L522.0,419.0 L529.1,420.4 L540.1,422.3 L547.1,423.5 L555.5,425.6 L567.6,428.6 L580.1,430.8 L588.4,432.3 L599.7,434.3 L610.9,436.6 L619.6,437.7 L625.8,439.3"/><path d="M339.7,334.5 L344.8,335.5 L355.2,338.0 L365.7,341.5 L372.9,342.3 L384.2,345.1 L393.9,346.7 L401.2,347.8 L409.3,349.7 L419.9,351.4 L428.2,353.4 L439.1,355.8 L445.6,356.6 L453.6,358.1 L462.5,360.2 L474.1,362.4 L484.2,364.9 L492.1,367.6 L502.0,370.6 L512.0,373.1 L523.2,376.3 L532.0,378.5 L541.8,380.3 L549.3,382.2 L555.4,383.3 L566.9,386.4 L575.6,388.1 L584.7,389.7 L592.7,391.6 L604.4,393.9 L612.3,395.2 L622.1,397.2 L630.2,398.7 L642.1,401.7"/><path d="M298.6,181.3 L301.3,178.9 L313.4,180.2 L310.1,182.1 L322.1,185.1 L337.9,188.2 L350.2,188.6 L375.1,194.2 L385.7,197.3 L384.8,197.3 L390.8,198.6 L393.2,199.9 L402.3,203.2 L407.2,204.6 L424.2,207.6 L427.7,215.9 L420.1,213.3 L428.7,216.9 L424.9,221.6 L427.9,223.0 L442.9,227.2 L450.4,230.4 L449.8,232.8 L434.8,233.4 L435.5,234.1 L449.6,237.1 L466.0,243.7 L468.4,244.4 L476.1,249.0 L481.4,251.3 L484.1,252.5 L483.1,253.7 L492.2,258.9 L494.6,260.7"/><path d="M266.2,197.3 L267.1,197.6 L267.3,198.1 L279.4,204.7 L272.2,206.2 L284.2,209.6 L288.2,212.6 L303.3,214.0 L314.2,217.3 L313.9,217.1 L321.0,221.2 L324.5,225.3 L320.5,224.5 L320.9,226.1 L326.8,229.8 L332.1,234.1 L331.6,235.3 L344.6,237.1 L365.7,238.9 L373.3,241.4 L370.3,239.9 L388.8,245.4 L394.9,246.9 L394.1,249.0 L395.7,255.7 L399.9,254.6 L398.0,255.2 L403.8,253.6 L409.7,258.7 L410.1,262.0 L421.2,267.7 L417.1,285.5 L414.4,286.3 L421.0,288.9"/><path d="M57.3,199.6 L66.6,203.5 L68.9,202.9 L77.0,206.1 L82.6,208.5 L86.7,209.6 L90.8,211.6 L100.1,216.0 L108.0,218.6 L110.7,221.0 L114.6,223.8 L120.1,228.7 L130.5,237.9 L133.7,239.7 L139.1,242.1 L149.6,248.4 L162.3,256.2 L169.2,261.9 L178.3,258.8 L176.0,260.4 L185.1,258.9 L188.0,257.8 L195.9,253.9 L207.5,250.4 L210.6,249.2 L217.0,247.6 L223.0,245.7 L225.0,246.4 L230.9,244.2 L238.6,241.9 L240.7,239.4 L247.3,237.2 L249.4,236.8 L261.0,234.0"/><path d="M225.6,148.3 L231.5,148.1 L230.5,149.2 L231.6,147.0 L236.3,150.0 L241.2,150.3 L243.6,152.0 L247.5,154.0 L247.0,154.7 L244.2,155.7 L249.3,160.7 L248.7,160.4 L249.7,160.9 L246.8,161.0 L239.0,159.1 L242.4,159.6 L241.0,160.8 L245.3,164.3 L246.5,167.8 L242.3,166.3 L246.2,169.9 L246.7,170.1 L251.9,173.0 L251.9,171.4 L255.0,172.5 L266.4,173.4 L267.5,173.6 L268.1,173.7 L276.1,176.9 L277.9,178.8 L269.4,178.0 L270.8,176.4 L272.2,178.6 L271.2,176.5"/><path d="M116.4,197.8 L122.7,199.1 L120.1,199.4 L125.0,199.0 L121.2,200.0 L117.5,199.6 L122.8,195.5 L133.0,196.0 L144.4,194.0 L151.0,195.7 L158.8,194.7 L172.6,192.2 L169.8,190.2 L176.6,190.2 L173.5,186.3 L182.2,183.0 L190.7,182.1 L200.2,181.2 L216.4,180.7 L224.6,182.3 L231.9,185.3 L232.1,183.8 L233.9,184.3 L239.2,184.8 L255.3,176.2 L268.3,177.8 L265.5,174.2 L266.8,174.1 L287.5,175.8 L293.5,177.4 L293.9,176.9 L295.4,176.9 L296.2,174.4 L300.3,176.1"/><path d="M500.8,422.0 L503.6,422.6 L507.3,423.7 L516.0,425.9 L517.0,426.5 L522.2,427.9 L535.9,431.7 L541.7,433.4 L553.7,436.5 L558.0,437.8 L563.6,439.3 L566.2,440.1 L573.4,442.2 L573.2,442.1 L583.7,444.9 L592.7,447.3 L607.2,449.0 L611.1,449.4 L612.0,449.4 L617.7,450.1 L624.3,450.9 L635.2,452.2 L644.8,452.8 L645.4,452.7 L650.5,452.7 L657.2,452.6 L662.0,452.5 L669.5,452.2 L678.7,452.2 L680.2,452.0 L684.3,452.1 L692.6,452.1 L701.0,452.2 L702.4,452.0"/><path d="M-37.1,332.4 L-28.7,332.3 L-28.1,331.7 L-23.1,331.7 L-23.9,333.0 L-18.6,332.4 L-14.5,331.7 L-8.1,330.4 L-2.4,331.3 L2.9,331.1 L18.1,329.9 L17.5,329.1 L15.4,330.1 L21.4,329.7 L20.0,330.5 L26.7,330.5 L30.6,331.6 L30.1,334.5 L12.3,333.6 L14.9,334.3 L21.6,335.5 L22.5,334.5 L22.9,335.0 L20.5,335.0 L26.5,335.8 L27.1,336.2 L20.1,334.8 L17.1,334.6 L15.4,334.3 L13.2,334.3 L15.7,334.1 L16.5,333.4 L15.8,332.7 L19.0,334.2"/><path d="M-65.1,330.0 L-58.6,329.9 L-53.0,329.9 L-44.5,329.7 L-38.1,329.6 L-33.0,329.4 L-25.9,329.3 L-15.2,329.2 L-4.1,329.0 L6.3,329.4 L17.4,330.1 L27.8,330.7 L33.3,330.9 L40.1,331.6 L47.5,332.7 L58.1,334.2 L67.2,335.5 L73.1,336.3 L84.0,337.8 L93.7,339.1 L99.4,339.8 L108.0,341.0 L118.4,342.5 L129.5,344.3 L135.5,345.2 L141.1,345.8 L146.8,346.7 L155.8,348.1 L163.5,349.4 L170.0,350.4 L177.2,351.4 L182.3,352.1 L190.3,353.3 L196.5,353.9"/><path d="M-39.1,339.9 L-29.8,340.6 L-18.4,341.7 L-2.1,343.0 L-2.9,342.9 L1.9,343.3 L9.5,344.2 L12.5,344.5 L22.9,346.1 L40.8,349.2 L40.8,349.4 L51.0,351.4 L52.6,351.3 L54.7,351.2 L59.6,351.7 L65.3,351.4 L71.3,352.1 L85.5,352.9 L92.0,353.3 L98.3,353.5 L107.3,354.2 L117.2,354.9 L125.6,356.6 L128.3,357.0 L139.2,359.1 L145.6,360.1 L153.5,361.0 L160.6,362.0 L168.1,362.7 L179.4,364.0 L187.5,365.0 L191.4,364.8 L195.9,365.7 L202.1,365.8"/><path d="M288.8,382.3 L288.4,382.0 L292.5,382.3 L292.1,381.7 L291.2,380.6 L296.8,381.5 L298.2,381.7 L296.9,379.9 L301.6,380.1 L302.8,380.7 L305.7,381.4 L310.3,381.4 L295.9,377.9 L304.5,379.8 L309.7,382.7 L314.9,383.4 L312.3,382.7 L317.9,384.5 L322.1,381.5 L324.3,378.6 L334.1,381.6 L342.2,380.3 L343.1,377.1 L345.3,371.0 L350.4,370.6 L348.9,363.5 L354.5,369.6 L357.5,366.6 L359.1,372.3 L359.4,376.5 L364.4,373.2 L366.0,371.1 L368.8,368.3 L372.5,366.8"/><path d="M469.7,420.7 L476.5,422.1 L480.5,422.6 L481.0,423.0 L484.0,423.9 L485.1,424.5 L481.8,423.8 L474.7,422.7 L477.6,423.1 L484.0,424.5 L482.2,424.1 L485.9,424.7 L488.5,425.5 L493.0,426.4 L496.0,426.7 L491.8,425.5 L492.8,425.9 L494.3,426.3 L500.1,427.7 L500.9,427.7 L500.7,427.8 L504.4,429.1 L506.1,429.6 L504.6,429.4 L505.8,429.5 L509.9,430.6 L510.9,430.8 L516.2,431.9 L518.0,432.1 L522.1,433.1 L524.7,433.5 L510.8,430.4 L511.4,430.6 L511.7,431.0"/><path d="M583.0,438.3 L594.0,440.5 L604.3,442.5 L610.2,443.7 L618.7,445.5 L625.2,446.8 L635.8,448.9 L642.1,449.9 L650.4,450.5 L663.2,451.4 L674.9,452.4 L681.1,452.8 L688.8,453.4 L697.8,454.0 L708.1,454.8 L719.6,455.6 L728.9,456.4 L737.8,457.0 L748.6,457.8 L756.5,458.3 L767.0,459.0 L776.5,459.6 L788.7,460.5 L800.7,461.3 L812.1,461.3 L822.3,461.2 L835.1,461.2 L847.9,461.2 L860.7,461.2 L867.4,461.2 L875.4,461.3 L886.9,461.3 L893.2,461.3 L906.4,461.3"/><path d="M339.6,391.4 L343.3,393.0 L344.9,393.6 L345.4,394.5 L352.5,397.4 L355.1,398.2 L360.1,400.1 L364.3,401.6 L367.1,402.6 L368.5,402.8 L375.2,404.9 L380.2,406.3 L382.9,407.0 L384.6,407.2 L388.8,408.3 L393.6,409.6 L394.1,409.7 L396.5,410.4 L400.7,411.5 L402.0,411.8 L405.8,412.8 L409.4,413.0 L414.5,413.2 L415.3,413.1 L420.0,413.1 L423.5,412.9 L425.9,412.7 L429.5,412.8 L428.5,412.7 L429.9,412.8 L438.4,413.3 L439.4,413.3 L445.0,413.5 L445.7,413.5"/><path d="M182.4,370.5 L189.6,372.3 L201.5,375.5 L209.9,377.5 L217.8,378.8 L225.3,379.9 L234.4,381.4 L244.2,383.2 L250.1,384.2 L255.6,385.2 L265.8,386.8 L271.8,387.8 L282.9,389.7 L289.0,390.7 L294.8,391.7 L305.2,393.4 L311.9,394.3 L324.0,396.2 L332.7,397.5 L341.7,398.7 L350.7,400.0 L362.8,401.9 L369.2,402.9 L374.9,403.7 L385.9,405.4 L396.8,407.2 L403.8,408.3 L413.2,409.7 L423.9,411.4 L432.1,412.7 L440.3,414.0 L449.5,415.4 L459.2,417.0 L468.0,418.3"/><path d="M-5.5,339.4 L-1.4,339.3 L9.2,339.1 L19.6,340.0 L22.9,340.0 L34.4,339.8 L32.8,339.9 L34.1,340.7 L31.6,340.6 L34.6,342.1 L41.3,345.1 L45.5,346.6 L51.5,349.1 L50.0,350.4 L50.3,349.8 L49.5,350.3 L54.4,350.1 L60.4,351.4 L74.5,353.1 L82.5,356.0 L84.4,355.5 L96.1,357.0 L95.6,356.1 L113.0,359.4 L120.1,359.1 L125.7,361.6 L121.9,359.5 L130.5,361.0 L120.2,357.3 L125.7,358.3 L141.1,363.0 L143.5,361.9 L151.7,363.8 L166.4,366.8"/><path d="M33.0,332.0 L34.9,332.0 L59.3,335.5 L63.6,335.5 L75.0,336.6 L74.3,335.8 L54.4,332.7 L50.2,330.3 L57.3,331.3 L63.4,332.4 L67.3,331.5 L66.9,330.7 L67.9,326.9 L72.4,324.6 L67.7,322.5 L73.1,323.0 L82.0,323.7 L93.3,324.2 L101.5,324.4 L101.8,319.3 L109.7,324.6 L108.9,320.3 L118.3,321.6 L122.7,320.4 L132.8,316.6 L140.1,317.5 L139.4,320.2 L129.5,317.3 L131.0,316.6 L144.5,317.7 L153.7,320.7 L160.0,320.2 L164.8,321.9 L169.0,326.4"/><path d="M303.6,395.3 L303.0,393.6 L308.9,394.7 L312.3,395.8 L318.5,396.5 L307.7,393.8 L305.6,392.7 L305.0,392.3 L315.1,394.2 L317.5,395.1 L318.9,395.6 L319.8,395.8 L318.0,395.8 L324.1,396.6 L330.8,397.3 L340.1,397.6 L343.7,397.2 L345.2,396.7 L347.4,397.2 L350.8,397.6 L352.4,397.8 L355.3,397.9 L357.7,397.9 L360.9,398.2 L367.5,399.8 L369.5,400.3 L376.5,401.2 L375.5,400.6 L368.1,399.7 L371.1,399.7 L371.3,399.8 L382.4,402.1 L389.1,403.1 L389.8,403.3"/><path d="M580.8,437.1 L590.2,439.6 L593.5,440.3 L596.5,441.3 L598.9,441.8 L604.6,443.5 L610.4,444.9 L619.8,447.3 L626.5,449.0 L636.2,451.5 L640.7,452.7 L643.2,453.0 L644.2,453.3 L648.1,453.8 L647.1,453.8 L655.4,454.8 L659.4,455.5 L662.6,455.9 L668.1,456.5 L672.4,457.1 L681.8,458.2 L682.4,458.3 L688.2,458.8 L701.4,460.5 L707.0,461.2 L709.3,461.4 L719.1,462.0 L729.8,462.2 L726.9,462.3 L737.3,462.5 L741.4,462.6 L747.5,462.6 L752.4,462.8 L756.9,462.8"/><path d="M-71.9,336.6 L-71.1,336.9 L-68.4,337.7 L-65.7,338.2 L-64.9,338.0 L-64.2,338.9 L-60.8,339.7 L-58.7,340.2 L-55.9,341.0 L-51.1,341.8 L-50.3,342.4 L-41.3,343.8 L-39.7,343.6 L-35.0,344.9 L-28.8,346.4 L-24.4,347.1 L-21.0,346.4 L-15.2,345.1 L-9.6,344.1 L-2.7,342.6 L0.6,341.8 L6.4,341.1 L9.9,340.9 L12.6,340.1 L14.6,339.6 L17.9,339.3 L21.7,339.0 L26.4,338.5 L35.1,337.5 L39.8,337.3 L47.1,337.0 L49.5,337.1 L56.3,336.8 L62.8,336.2"/></g><g fill="none" stroke="#d8d8d8" stroke-width="0.85" stroke-linejoin="round"><path d="M53.0,138.0 L75.2,144.4 L80.5,148.6 L105.0,155.0 L109.0,159.0 L130.0,164.5 L170.5,176.0 L183.0,179.3 L215.0,186.0 L263.5,196.0 L300.0,204.0"/><path d="M58.0,139.0 L65.0,141.0"/><path d="M132.4,138.0 L162.0,142.2 L187.5,146.5 L215.0,152.0 L240.0,156.0"/><path d="M183.0,138.0 L191.7,139.7 L200.0,141.0"/><path d="M149.4,190.0 L170.5,179.3 L191.7,169.8 L202.0,164.5 L215.0,160.0 L235.0,162.0 L250.0,170.0"/><path d="M97.5,205.8 L101.7,196.3 L106.0,194.8 L128.0,198.4 L150.5,201.5 L183.0,210.0 L200.0,214.0"/><path d="M105.0,194.8 L128.0,199.4 L150.0,204.0 L170.0,209.0"/><path d="M35.0,212.0 L77.0,210.0 L120.0,213.0 L160.0,216.0"/><path d="M221.0,138.0 L234.0,152.8 L278.0,159.0"/><path d="M202.0,151.8 L240.0,155.0 L278.4,159.2"/><path d="M257.0,138.0 L270.0,150.7 L284.7,167.7 L286.8,176.0 L274.0,182.5 L272.0,193.0 L286.8,195.0 L300.0,205.0 L292.0,214.0"/><path d="M200.0,159.0 L263.5,165.5 L316.5,178.0 L380.0,193.0 L420.0,200.0"/><path d="M180.0,158.0 L200.0,164.5 L284.7,173.0 L380.0,199.4 L430.0,212.0"/><path d="M325.0,172.0 L327.0,177.0 L339.8,165.5 L348.0,165.5 L356.8,180.4 L367.0,193.0 L369.5,216.4 L380.0,228.0"/><path d="M333.5,203.7 L327.0,198.4 L365.0,199.4"/><path d="M365.0,195.0 L380.0,182.5"/><path d="M190.0,175.0 L205.0,168.0 L215.0,180.0 L225.0,172.0 L240.0,178.0 L238.0,195.0 L255.0,190.0 L262.0,205.0"/><path d="M185.0,200.0 L200.0,192.0 L212.0,200.0 L230.0,197.0 L245.0,205.0 L262.0,200.0 L270.0,212.0"/><path d="M215.0,210.0 L230.0,205.0 L250.0,215.0 L265.0,212.0 L280.0,222.0"/><path d="M375.0,188.0 L379.0,184.8 L383.5,191.0"/><path d="M320.0,180.0 L375.0,189.0 L472.4,202.8 L475.6,217.7 L502.0,217.7 L544.5,219.8 L555.0,223.0 L565.0,225.0"/><path d="M330.0,186.0 L375.0,195.4 L434.3,206.0 L436.4,220.8 L440.7,215.5 L447.0,214.5"/><path d="M340.0,192.0 L375.0,199.7 L396.0,208.0 L401.5,227.2 L442.8,227.2"/><path d="M340.0,185.0 L375.0,200.7 L459.7,251.6 L489.4,249.4 L520.0,262.0"/><path d="M458.7,219.8 L487.0,237.8 L512.7,244.0 L555.0,255.8 L600.0,268.0 L640.0,280.0"/><path d="M495.8,219.8 L490.5,248.4 L500.0,262.0"/><path d="M495.8,219.8 L526.5,224.0 L502.0,232.5 L555.0,256.9 L590.0,268.0"/><path d="M375.0,242.0 L438.6,248.4 L470.0,255.0"/><path d="M550.0,221.2 L558.5,223.3 L606.0,235.0"/><path d="M558.5,223.3 L556.4,237.0 L562.7,232.8 L573.3,258.3 L588.0,266.7 L595.5,276.3 L610.0,292.0"/><path d="M595.5,276.3 L599.8,263.6 L612.5,245.6 L617.8,261.4"/><path d="M520.0,255.0 L550.0,261.4 L603.0,265.7 L634.7,274.0 L660.0,281.6 L696.0,291.0"/><path d="M530.0,260.0 L550.0,263.6 L592.4,270.0 L634.7,275.2 L664.0,292.0 L684.0,311.0 L708.0,316.0 L728.0,318.0"/><path d="M530.0,245.0 L550.0,250.8 L571.0,259.3 L590.0,267.8 L613.5,290.0 L630.0,300.0"/><path d="M634.0,308.0 L652.0,290.0 L684.0,298.0 L728.0,318.0"/></g><path fill="#d8d8d8" d="M466.4,309.8 L464.0,313.0 L462.4,310.2Z M649.9,374.7 L646.4,376.7 L646.0,373.5Z M401.8,280.9 L397.9,282.0 L398.3,278.8Z M429.3,277.1 L428.6,281.1 L425.9,279.3Z M612.7,399.3 L608.9,400.6 L609.2,397.3Z M438.6,398.2 L434.6,399.1 L435.3,395.9Z M391.0,266.7 L387.3,268.3 L387.4,265.0Z M104.5,254.8 L101.5,257.4 L100.6,254.3Z M488.2,366.8 L484.5,365.2 L486.9,363.0Z M562.6,340.3 L560.2,337.2 L563.4,336.4Z M654.6,333.8 L652.1,337.0 L650.6,334.2Z M448.3,323.2 L444.5,324.5 L444.8,321.3Z M235.9,301.4 L231.9,301.9 L232.8,298.8Z M260.3,267.9 L256.6,269.4 L256.7,266.2Z M472.3,389.4 L468.4,390.3 L469.0,387.1Z M633.3,353.0 L629.4,353.5 L630.3,350.4Z M445.1,353.9 L441.3,355.1 L441.7,351.9Z M524.9,300.9 L521.0,302.0 L521.5,298.8Z M453.7,355.6 L449.7,356.0 L450.6,352.9Z M664.5,414.5 L660.8,415.9 L660.9,412.7Z M387.9,336.9 L384.2,338.2 L384.4,335.0Z M253.6,238.0 L249.6,238.8 L250.3,235.7Z M139.3,234.5 L135.4,235.4 L136.0,232.2Z M172.4,233.7 L168.4,234.5 L169.2,231.3Z M704.6,327.7 L700.8,329.2 L701.0,326.0Z M535.4,392.0 L531.6,393.4 L531.8,390.2Z M453.2,355.6 L449.4,356.7 L449.8,353.5Z M183.5,282.1 L180.1,284.2 L179.7,281.0Z M482.8,306.0 L478.8,306.6 L479.6,303.5Z M126.2,328.1 L122.1,328.3 L123.3,325.3Z M653.4,383.7 L649.5,384.8 L650.0,381.6Z M686.9,364.5 L685.2,368.1 L683.1,365.7Z M503.3,312.6 L504.1,316.5 L501.0,315.8Z M37.2,311.1 L33.1,311.0 L34.5,308.1Z M306.0,281.3 L304.5,285.0 L302.2,282.6Z M222.2,257.2 L218.4,258.4 L218.8,255.2Z M67.0,264.3 L63.9,261.8 L66.7,260.3Z M611.9,336.0 L608.7,338.4 L608.0,335.2Z M339.9,356.5 L339.1,360.5 L336.5,358.6Z M551.6,398.3 L549.8,394.7 L553.0,394.5Z M128.9,341.2 L129.5,337.2 L132.3,339.0Z M387.5,354.8 L383.7,353.4 L386.0,351.1Z M141.3,315.2 L140.2,319.0 L137.7,317.0Z M621.4,332.3 L617.4,332.5 L618.6,329.5Z M434.2,366.9 L438.0,368.3 L435.8,370.6Z M127.0,301.8 L130.5,299.9 L130.8,303.2Z M197.3,244.5 L199.5,247.9 L196.3,248.4Z M487.9,377.4 L484.0,378.1 L484.8,374.9Z M661.0,434.5 L658.2,437.3 L657.0,434.3Z M671.7,320.8 L667.7,321.7 L668.4,318.5Z M570.1,299.5 L566.1,300.4 L566.8,297.2Z M606.3,328.3 L602.5,329.5 L602.9,326.3Z M366.5,377.3 L362.5,376.5 L364.4,373.8Z M345.3,340.1 L342.3,342.8 L341.3,339.7Z M571.5,431.6 L575.4,432.4 L573.6,435.0Z M345.4,244.4 L344.4,248.3 L341.9,246.3Z M701.3,318.2 L704.7,315.9 L705.2,319.1Z M270.4,243.6 L266.6,245.0 L266.8,241.8Z M496.9,336.9 L493.7,334.5 L496.5,332.9Z M287.4,371.5 L283.5,372.1 L284.3,369.0Z M242.2,316.9 L238.3,317.3 L239.3,314.2Z M649.0,340.6 L645.1,341.7 L645.6,338.5Z M511.7,370.0 L507.8,371.1 L508.3,367.9Z M620.3,368.0 L616.3,368.5 L617.2,365.4Z M598.7,311.2 L595.4,308.9 L598.2,307.2Z M144.8,303.6 L140.8,304.1 L141.8,301.0Z M135.6,329.5 L135.2,333.5 L132.4,331.9Z M255.4,323.1 L251.4,323.5 L252.4,320.5Z M680.0,426.6 L683.9,427.6 L681.8,430.1Z M132.6,296.2 L128.5,296.2 L129.9,293.2Z M418.2,330.8 L414.2,331.0 L415.4,328.0Z M582.1,323.0 L582.3,318.9 L585.2,320.4Z M440.3,347.1 L436.8,345.0 L439.4,343.1Z M49.2,222.3 L45.5,223.8 L45.6,220.6Z M428.9,323.1 L425.1,324.4 L425.4,321.2Z M467.1,290.8 L463.3,292.1 L463.6,288.9Z M273.6,253.7 L269.7,254.9 L270.1,251.7Z M150.3,249.8 L146.3,249.0 L148.2,246.4Z M328.1,272.4 L324.6,270.4 L327.2,268.5Z M633.1,419.5 L629.4,417.9 L631.8,415.7Z M181.5,228.4 L179.3,231.7 L177.6,228.9Z M320.8,333.1 L316.8,333.6 L317.8,330.5Z M487.7,293.3 L483.8,293.9 L484.6,290.8Z M608.5,426.5 L606.0,429.6 L604.5,426.8Z M386.6,321.6 L382.8,320.5 L384.8,318.0Z M100.3,265.1 L96.3,264.7 L97.8,261.9Z M241.5,268.6 L237.9,270.2 L237.8,267.0Z M341.3,313.5 L337.5,314.8 L337.8,311.6Z M166.4,269.3 L162.6,270.7 L162.8,267.5Z M204.0,238.7 L200.0,238.1 L201.8,235.4Z M344.6,338.7 L340.7,339.6 L341.3,336.5Z M338.5,340.0 L335.2,337.6 L338.0,336.0Z M113.2,289.1 L113.8,293.1 L110.7,292.3Z M457.2,288.3 L453.3,289.2 L454.0,286.0Z M61.2,245.1 L57.3,246.2 L57.8,243.0Z M538.0,277.0 L541.8,275.7 L541.5,278.9Z M618.0,342.9 L614.2,344.1 L614.5,340.9Z M706.9,317.8 L702.9,318.3 L703.8,315.2Z M163.2,299.4 L159.4,300.5 L159.8,297.3Z M301.1,299.1 L297.2,299.8 L298.0,296.6Z M120.8,335.5 L116.9,334.6 L118.8,332.0Z M637.9,318.7 L634.0,319.7 L634.4,316.5Z M247.4,274.1 L243.6,275.3 L244.0,272.0Z M261.4,324.8 L257.7,326.3 L257.8,323.1Z M511.1,293.9 L507.4,295.5 L507.4,292.2Z M69.1,244.6 L66.6,241.5 L69.7,240.6Z M396.0,302.4 L392.2,301.1 L394.4,298.7Z M623.7,376.1 L620.2,378.1 L619.8,374.9Z M175.2,324.3 L174.1,328.2 L171.6,326.1Z M427.0,267.0 L423.1,267.8 L423.7,264.7Z M364.6,368.8 L361.1,370.8 L360.8,367.6Z M699.3,313.8 L695.3,314.5 L696.1,311.3Z M164.8,306.3 L161.7,308.8 L160.9,305.7Z M484.7,374.7 L480.7,373.9 L482.6,371.2Z M480.2,392.7 L477.2,395.4 L476.2,392.3Z M165.5,261.4 L169.1,263.1 L166.7,265.3Z M248.5,293.2 L250.5,296.6 L247.3,297.0Z M312.5,340.2 L309.8,343.2 L308.5,340.3Z M99.6,289.6 L95.6,289.8 L96.7,286.8Z M474.1,398.9 L473.5,402.9 L470.8,401.2Z M292.4,263.0 L288.5,263.9 L289.0,260.7Z M694.2,357.1 L690.3,358.0 L690.9,354.8Z M409.0,363.7 L412.1,366.4 L409.2,367.7Z M43.9,297.3 L43.3,293.3 L46.4,294.1Z M178.6,333.7 L174.7,334.5 L175.3,331.4Z M669.0,369.8 L665.0,370.3 L665.9,367.2Z M70.5,309.8 L66.5,310.5 L67.3,307.4Z M725.0,357.6 L721.1,358.2 L721.9,355.1Z M508.3,310.9 L508.7,314.8 L505.6,313.9Z M157.0,274.2 L153.2,275.6 L153.4,272.4Z M546.0,327.6 L542.1,328.6 L542.6,325.4Z M675.1,424.4 L676.8,428.0 L673.6,428.2Z M701.0,389.6 L697.1,390.8 L697.5,387.6Z M572.4,325.5 L568.5,326.3 L569.2,323.1Z M460.7,398.6 L458.3,401.9 L456.7,399.1Z M577.1,308.6 L573.1,309.1 L574.1,306.0Z M294.5,341.4 L290.6,342.4 L291.2,339.2Z M514.0,307.6 L510.2,308.7 L510.6,305.5Z M614.6,328.3 L610.6,328.6 L611.7,325.5Z M392.4,367.0 L388.6,368.1 L389.1,364.9Z M260.8,314.7 L256.8,314.6 L258.1,311.7Z M131.5,272.8 L127.6,272.0 L129.4,269.4Z M238.8,262.8 L237.2,259.1 L240.4,259.1Z M70.4,308.5 L66.5,309.3 L67.1,306.1Z M354.8,244.2 L351.0,245.5 L351.2,242.3Z M238.5,264.3 L234.9,266.0 L234.8,262.8Z M430.4,322.7 L426.5,323.5 L427.2,320.3Z M243.5,257.0 L239.6,258.2 L240.0,254.9Z M324.3,306.0 L320.4,306.9 L321.0,303.7Z M256.1,276.5 L252.2,277.6 L252.6,274.4Z M224.3,258.4 L220.4,259.3 L221.0,256.1Z M314.7,337.6 L310.7,337.1 L312.4,334.3Z M87.2,248.5 L83.3,249.4 L83.9,246.3Z M686.9,387.0 L683.2,388.5 L683.3,385.2Z M655.7,376.0 L654.4,379.8 L652.0,377.6Z M389.2,384.7 L385.4,385.9 L385.8,382.7Z M641.0,446.7 L637.1,447.4 L637.8,444.3Z M688.4,406.7 L684.8,408.5 L684.7,405.3Z M553.9,281.6 L549.9,281.3 L551.4,278.4Z M653.7,400.1 L649.7,399.7 L651.3,396.9Z M563.4,364.4 L564.4,368.3 L561.2,367.8Z M496.0,395.6 L492.3,397.1 L492.4,393.9Z M599.4,368.3 L595.4,369.2 L596.0,366.0Z M685.8,371.0 L682.1,372.6 L682.2,369.3Z M481.7,345.2 L477.8,346.2 L478.3,343.0Z M663.0,421.6 L659.3,423.1 L659.4,419.8Z M451.0,387.6 L447.5,385.6 L450.1,383.7Z M460.2,410.9 L464.0,409.6 L463.7,412.9Z M659.1,407.7 L655.4,409.1 L655.5,405.9Z M506.9,356.1 L503.8,358.7 L502.9,355.6Z M612.2,424.4 L608.3,425.2 L608.9,422.1Z M530.3,399.8 L530.3,395.8 L533.3,397.1Z M562.9,381.1 L563.3,385.1 L560.2,384.1Z M722.8,389.4 L719.0,390.6 L719.4,387.4Z M388.3,344.9 L384.9,347.0 L384.4,343.8Z M538.3,363.6 L534.6,365.3 L534.6,362.1Z M728.1,423.6 L724.2,424.6 L724.8,421.4Z M658.3,439.5 L654.5,440.8 L654.8,437.6Z M598.6,395.9 L594.8,397.2 L595.1,394.0Z M492.1,403.1 L488.1,403.6 L489.0,400.5Z M627.5,386.3 L623.6,387.3 L624.1,384.2Z M484.5,360.0 L481.6,357.2 L484.6,356.0Z M706.8,446.5 L702.8,447.2 L703.6,444.0Z M536.6,419.2 L539.3,422.2 L536.2,423.2Z M660.7,331.3 L661.6,335.2 L658.4,334.6Z M465.9,278.3 L466.1,282.3 L463.0,281.1Z M703.7,415.3 L699.8,416.3 L700.3,413.1Z M657.3,389.6 L657.5,393.6 L654.5,392.5Z M657.9,379.3 L654.0,380.5 L654.4,377.3Z M589.1,409.5 L592.5,407.3 L593.0,410.5Z M677.4,412.4 L673.6,413.7 L673.9,410.5Z M721.8,421.1 L718.2,422.8 L718.1,419.6Z M705.3,304.0 L701.3,304.6 L702.1,301.5Z M573.9,348.8 L570.0,349.8 L570.5,346.6Z M595.8,398.4 L591.8,399.0 L592.7,395.9Z M719.9,392.9 L716.1,394.0 L716.5,390.8Z M629.0,423.4 L625.1,424.4 L625.6,421.2Z M616.2,279.6 L613.5,282.6 L612.2,279.6Z M624.3,408.2 L620.4,409.3 L620.9,406.1Z M571.3,410.2 L567.4,411.3 L567.8,408.1Z M668.1,431.2 L664.2,432.1 L664.7,428.9Z M705.4,450.8 L701.5,451.8 L702.0,448.7Z M585.9,367.9 L582.3,369.6 L582.2,366.4Z M715.1,415.5 L711.2,416.6 L711.7,413.4Z M605.3,421.2 L601.3,422.1 L602.0,418.9Z M718.4,392.6 L714.6,394.1 L714.7,390.8Z M628.3,439.9 L624.3,440.6 L625.1,437.5Z M644.5,402.3 L640.6,403.0 L641.4,399.8Z M496.6,262.2 L492.7,261.3 L494.7,258.7Z M423.4,289.8 L419.4,289.9 L420.5,286.9Z M263.5,233.5 L260.3,235.9 L259.5,232.7Z M270.0,174.3 L273.1,176.8 L270.3,178.3Z M302.6,177.0 L298.6,177.1 L299.8,174.1Z M704.9,451.8 L701.4,453.8 L701.0,450.6Z M199.0,354.2 L195.2,355.4 L195.5,352.2Z M204.6,365.9 L200.9,367.4 L200.9,364.2Z M374.8,365.8 L372.1,368.7 L370.8,365.7Z M513.2,433.0 L509.7,431.1 L512.2,429.1Z M448.2,413.4 L444.6,415.2 L444.4,411.9Z M470.4,418.7 L466.5,419.7 L467.0,416.5Z M168.9,367.3 L165.0,368.2 L165.6,365.0Z M170.7,328.2 L167.0,326.6 L169.4,324.4Z M392.2,403.7 L388.3,404.6 L388.9,401.5Z M65.3,335.9 L61.8,337.9 L61.4,334.7Z"/></g>
<text x="39.59" y="173.5" font-family="'Liberation Sans', sans-serif" font-size="9.4" font-weight="normal" fill="#0f877f" textLength="23.26" lengthAdjust="spacingAndGlyphs" stroke="#fff" stroke-width="2.5" stroke-linejoin="round" paint-order="stroke">1990</text>
<text x="92.75" y="178.6" font-family="'Liberation Sans', sans-serif" font-size="9.4" font-weight="normal" fill="#0f877f" textLength="23.93" lengthAdjust="spacingAndGlyphs" stroke="#fff" stroke-width="2.5" stroke-linejoin="round" paint-order="stroke">1992</text>
<text x="122.79" y="183.4" font-family="'Liberation Sans', sans-serif" font-size="9.4" font-weight="normal" fill="#0f877f" textLength="23.15" lengthAdjust="spacingAndGlyphs" stroke="#fff" stroke-width="2.5" stroke-linejoin="round" paint-order="stroke">1993</text>
<text x="127.33" y="204.5" font-family="'Liberation Sans', sans-serif" font-size="9.4" font-weight="normal" fill="#0f877f" textLength="24.48" lengthAdjust="spacingAndGlyphs" stroke="#fff" stroke-width="2.5" stroke-linejoin="round" paint-order="stroke">1994</text>
<text x="173.69" y="194.7" font-family="'Liberation Sans', sans-serif" font-size="9.4" font-weight="normal" fill="#0f877f" textLength="23.15" lengthAdjust="spacingAndGlyphs" stroke="#fff" stroke-width="2.5" stroke-linejoin="round" paint-order="stroke">1995</text>
<text x="171.29" y="214.5" font-family="'Liberation Sans', sans-serif" font-size="9.4" font-weight="normal" fill="#0f877f" textLength="23.15" lengthAdjust="spacingAndGlyphs" stroke="#fff" stroke-width="2.5" stroke-linejoin="round" paint-order="stroke">1996</text>
<text x="214.91" y="205" font-family="'Liberation Sans', sans-serif" font-size="9.4" font-weight="normal" fill="#0f877f" textLength="22.74" lengthAdjust="spacingAndGlyphs" stroke="#fff" stroke-width="2.5" stroke-linejoin="round" paint-order="stroke">1997</text>
<text x="207.88" y="223.5" font-family="'Liberation Sans', sans-serif" font-size="9.4" font-weight="normal" fill="#0f877f" textLength="23.26" lengthAdjust="spacingAndGlyphs" stroke="#fff" stroke-width="2.5" stroke-linejoin="round" paint-order="stroke">1998</text>
<text x="266.30" y="213.7" font-family="'Liberation Sans', sans-serif" font-size="9.4" font-weight="normal" fill="#0f877f" textLength="22.35" lengthAdjust="spacingAndGlyphs" stroke="#fff" stroke-width="2.5" stroke-linejoin="round" paint-order="stroke">2000</text>
<text x="262.00" y="232.6" font-family="'Liberation Sans', sans-serif" font-size="9.4" font-weight="normal" fill="#0f877f" textLength="22.84" lengthAdjust="spacingAndGlyphs" stroke="#fff" stroke-width="2.5" stroke-linejoin="round" paint-order="stroke">2001</text>
<text x="303.20" y="246.5" font-family="'Liberation Sans', sans-serif" font-size="9.4" font-weight="normal" fill="#0f877f" textLength="22.55" lengthAdjust="spacingAndGlyphs" stroke="#fff" stroke-width="2.5" stroke-linejoin="round" paint-order="stroke">2003</text>
<text x="351.30" y="240.9" font-family="'Liberation Sans', sans-serif" font-size="9.4" font-weight="normal" fill="#0f877f" textLength="23.15" lengthAdjust="spacingAndGlyphs" stroke="#fff" stroke-width="2.5" stroke-linejoin="round" paint-order="stroke">2004</text>
<text x="352.10" y="266.2" font-family="'Liberation Sans', sans-serif" font-size="9.4" font-weight="normal" fill="#0f877f" textLength="22.25" lengthAdjust="spacingAndGlyphs" stroke="#fff" stroke-width="2.5" stroke-linejoin="round" paint-order="stroke">2005</text>
<text x="412.20" y="286.7" font-family="'Liberation Sans', sans-serif" font-size="9.4" font-weight="normal" fill="#0f877f" textLength="22.45" lengthAdjust="spacingAndGlyphs" stroke="#fff" stroke-width="2.5" stroke-linejoin="round" paint-order="stroke">2007</text>
<text x="480.60" y="289.2" font-family="'Liberation Sans', sans-serif" font-size="9.4" font-weight="normal" fill="#0f877f" textLength="22.25" lengthAdjust="spacingAndGlyphs" stroke="#fff" stroke-width="2.5" stroke-linejoin="round" paint-order="stroke">2009</text>
<text x="478.10" y="312.3" font-family="'Liberation Sans', sans-serif" font-size="9.4" font-weight="normal" fill="#0f877f" textLength="22.75" lengthAdjust="spacingAndGlyphs" stroke="#fff" stroke-width="2.5" stroke-linejoin="round" paint-order="stroke">2010</text>
<text x="516.70" y="329.6" font-family="'Liberation Sans', sans-serif" font-size="9.4" font-weight="normal" fill="#0f877f" textLength="23.99" lengthAdjust="spacingAndGlyphs" stroke="#fff" stroke-width="2.5" stroke-linejoin="round" paint-order="stroke">2012</text>
<text x="559.80" y="321.1" font-family="'Liberation Sans', sans-serif" font-size="9.4" font-weight="normal" fill="#0f877f" textLength="21.85" lengthAdjust="spacingAndGlyphs" stroke="#fff" stroke-width="2.5" stroke-linejoin="round" paint-order="stroke">2013</text>
<text x="566.40" y="345.6" font-family="'Liberation Sans', sans-serif" font-size="9.4" font-weight="normal" fill="#0f877f" textLength="22.75" lengthAdjust="spacingAndGlyphs" stroke="#fff" stroke-width="2.5" stroke-linejoin="round" paint-order="stroke">2015</text>
<text x="596.80" y="352.3" font-family="'Liberation Sans', sans-serif" font-size="9.4" font-weight="normal" fill="#0f877f" textLength="22.05" lengthAdjust="spacingAndGlyphs" stroke="#fff" stroke-width="2.5" stroke-linejoin="round" paint-order="stroke">2017</text>
<text x="623.80" y="378.1" font-family="'Liberation Sans', sans-serif" font-size="9.4" font-weight="normal" fill="#0f877f" textLength="22.45" lengthAdjust="spacingAndGlyphs" stroke="#fff" stroke-width="2.5" stroke-linejoin="round" paint-order="stroke">2019</text>
<text x="659.62" y="389.2" font-family="'Liberation Sans', sans-serif" font-size="14" font-weight="bold" fill="#00847e" textLength="38.28" lengthAdjust="spacingAndGlyphs" stroke="#fff" stroke-width="3" stroke-linejoin="round" paint-order="stroke">China</text>
<path d="M40.5,175.5 L64.2,178.5 L76.0,181.0 L170.0,199.5 L193.0,204.6 L245.7,216.6 L278.6,221.4 L290.0,224.7 L323.0,235.4 L347.7,245.3 L377.3,258.5 L402.0,267.9 L434.8,276.6 L456.5,286.4 L520.5,309.9 L541.2,321.2 L572.9,332.4 L604.0,337.3 L620.0,342.4 L648.2,369.3 L652.5,379.8 L660.6,378.1 L668.8,376.5 L679.5,376.5 L687.8,378.3 L691.0,379.0" fill="none" stroke="#fff" stroke-width="5" stroke-linejoin="round" stroke-linecap="round" opacity="0.9"/>
<path d="M40.5,175.5 L64.2,178.5 L76.0,181.0 L170.0,199.5 L193.0,204.6 L245.7,216.6 L278.6,221.4 L290.0,224.7 L323.0,235.4 L347.7,245.3 L377.3,258.5 L402.0,267.9 L434.8,276.6 L456.5,286.4 L520.5,309.9 L541.2,321.2 L572.9,332.4 L604.0,337.3 L620.0,342.4 L648.2,369.3 L652.5,379.8 L660.6,378.1 L668.8,376.5 L679.5,376.5 L687.8,378.3 L691.0,379.0" fill="none" stroke="#00847e" stroke-width="2.6" stroke-linejoin="round" stroke-linecap="round"/>
<circle cx="41" cy="175.7" r="1.7" fill="#00847e"/>
<path d="M689.5,376.4 L695.5,379.4 L689.5,382.2 Z" fill="#00847e"/>
<text x="16.50" y="38.1" font-family="'Liberation Serif', serif" font-size="24" font-weight="bold" fill="#333333" textLength="698.88" lengthAdjust="spacingAndGlyphs">Death rate from indoor air pollution vs. GDP per capita, 1990 to 2023</text>
<text x="16.30" y="63.8" font-family="'Liberation Sans', sans-serif" font-size="14.5" font-weight="normal" fill="#5b5b5b" textLength="731.14" lengthAdjust="spacingAndGlyphs">Age-standardized death rates from air pollution attributed to the use of indoor solid fuels for cooking &amp; heating,</text>
<text x="15.28" y="81.1" font-family="'Liberation Sans', sans-serif" font-size="14.5" font-weight="normal" fill="#5b5b5b" textLength="679.77" lengthAdjust="spacingAndGlyphs">measured per 100,000 individuals. GDP per capita is adjusted for inflation and differences in living costs</text>
<text x="15.26" y="98.8" font-family="'Liberation Sans', sans-serif" font-size="14.5" font-weight="normal" fill="#5b5b5b" textLength="126.18" lengthAdjust="spacingAndGlyphs">between countries.</text>
<text x="15.56" y="130.1" font-family="'Liberation Sans', sans-serif" font-size="13" font-weight="bold" fill="#5b5b5b" textLength="172.60" lengthAdjust="spacingAndGlyphs">Indoor air pollution death rate</text>
<text x="191.82" y="130.1" font-family="'Liberation Sans', sans-serif" font-size="13" font-weight="normal" fill="#5b5b5b" textLength="118.57" lengthAdjust="spacingAndGlyphs">(deaths per 100,000)</text>
<text x="165.30" y="508" font-family="'Liberation Sans', sans-serif" font-size="13" font-weight="bold" fill="#5b5b5b" textLength="85.37" lengthAdjust="spacingAndGlyphs">GDP per capita</text>
<text x="253.70" y="508" font-family="'Liberation Sans', sans-serif" font-size="13" font-weight="normal" fill="#5b5b5b" textLength="344.27" lengthAdjust="spacingAndGlyphs">(international-$ in 2021 prices; plotted on a logarithmic axis)</text>
<text x="15.94" y="540.2" font-family="'Liberation Sans', sans-serif" font-size="12.5" font-weight="bold" fill="#5b5b5b" textLength="72.56" lengthAdjust="spacingAndGlyphs">Data source:</text>
<text x="91.48" y="540.2" font-family="'Liberation Sans', sans-serif" font-size="12.5" font-weight="normal" fill="#5b5b5b" textLength="488.20" lengthAdjust="spacingAndGlyphs">IHME, Global Burden of Disease (2025); Eurostat, OECD, IMF, and World Bank (2026)</text>
<text x="15.86" y="560.3" font-family="'Liberation Sans', sans-serif" font-size="12.5" font-weight="bold" fill="#5b5b5b" textLength="33.12" lengthAdjust="spacingAndGlyphs">Note:</text>
<text x="50.97" y="560.3" font-family="'Liberation Sans', sans-serif" font-size="12.5" font-weight="normal" fill="#5b5b5b" textLength="350.30" lengthAdjust="spacingAndGlyphs">GDP per capita is expressed in international-$ at 2021 prices.</text>
<text x="15.85" y="580.1" font-family="'Liberation Sans', sans-serif" font-size="12.5" font-weight="normal" fill="#5b5b5b" textLength="280.50" lengthAdjust="spacingAndGlyphs">OurWorldinData.org/indoor-air-pollution | CC BY</text>
<text x="774.10" y="30.8" font-family="'Liberation Sans', sans-serif" font-size="12" font-weight="bold" fill="#fff" textLength="55.33" lengthAdjust="spacingAndGlyphs">Our World</text>
<text x="782.37" y="42.6" font-family="'Liberation Sans', sans-serif" font-size="12" font-weight="bold" fill="#fff" textLength="37.25" lengthAdjust="spacingAndGlyphs">in Data</text>
<text x="751.87" y="156.7" font-family="'Liberation Sans', sans-serif" font-size="12.5" font-weight="normal" fill="#a3a3a3" textLength="81.34" lengthAdjust="spacingAndGlyphs">North America</text>
<text x="751.90" y="174.3" font-family="'Liberation Sans', sans-serif" font-size="12.5" font-weight="normal" fill="#a3a3a3" textLength="80.99" lengthAdjust="spacingAndGlyphs">South America</text>
<text x="752.90" y="191.6" font-family="'Liberation Sans', sans-serif" font-size="12.5" font-weight="normal" fill="#a3a3a3" textLength="31.45" lengthAdjust="spacingAndGlyphs">Africa</text>
<text x="751.92" y="209.3" font-family="'Liberation Sans', sans-serif" font-size="12.5" font-weight="normal" fill="#a3a3a3" textLength="39.38" lengthAdjust="spacingAndGlyphs">Europe</text>
<text x="753.20" y="227" font-family="'Liberation Sans', sans-serif" font-size="12.5" font-weight="normal" fill="#2b2b2b" textLength="22.30" lengthAdjust="spacingAndGlyphs">Asia</text>
<text x="751.92" y="244.4" font-family="'Liberation Sans', sans-serif" font-size="12.5" font-weight="normal" fill="#a3a3a3" textLength="45.42" lengthAdjust="spacingAndGlyphs">Oceania</text>
<text x="738.12" y="289.1" font-family="'Liberation Sans', sans-serif" font-size="12.5" font-weight="normal" fill="#6b6b6b" textLength="30.17" lengthAdjust="spacingAndGlyphs">1990</text>
<text x="804.20" y="289.1" font-family="'Liberation Sans', sans-serif" font-size="12.5" font-weight="normal" fill="#6b6b6b" textLength="30.49" lengthAdjust="spacingAndGlyphs">2023</text>
<text x="15.95" y="193.2" font-family="'Liberation Sans', sans-serif" font-size="12.5" font-weight="normal" fill="#666" textLength="21.90" lengthAdjust="spacingAndGlyphs">300</text>
<text x="15.95" y="239.9" font-family="'Liberation Sans', sans-serif" font-size="12.5" font-weight="normal" fill="#666" textLength="21.90" lengthAdjust="spacingAndGlyphs">250</text>
<text x="15.95" y="286.6" font-family="'Liberation Sans', sans-serif" font-size="12.5" font-weight="normal" fill="#666" textLength="21.90" lengthAdjust="spacingAndGlyphs">200</text>
<text x="15.95" y="333.3" font-family="'Liberation Sans', sans-serif" font-size="12.5" font-weight="normal" fill="#666" textLength="21.90" lengthAdjust="spacingAndGlyphs">150</text>
<text x="15.95" y="380.0" font-family="'Liberation Sans', sans-serif" font-size="12.5" font-weight="normal" fill="#666" textLength="21.90" lengthAdjust="spacingAndGlyphs">100</text>
<text x="22.92" y="426.7" font-family="'Liberation Sans', sans-serif" font-size="12.5" font-weight="normal" fill="#666" textLength="14.98" lengthAdjust="spacingAndGlyphs">50</text>
<text x="31.00" y="473.4" font-family="'Liberation Sans', sans-serif" font-size="12.5" font-weight="normal" fill="#666" textLength="6.95" lengthAdjust="spacingAndGlyphs">0</text>
<text x="69.00" y="486.8" font-family="'Liberation Sans', sans-serif" font-size="12.5" font-weight="normal" fill="#666" textLength="40.55" lengthAdjust="spacingAndGlyphs">$2,000</text>
<text x="297.80" y="486.8" font-family="'Liberation Sans', sans-serif" font-size="12.5" font-weight="normal" fill="#666" textLength="39.94" lengthAdjust="spacingAndGlyphs">$5,000</text>
<text x="467.00" y="486.8" font-family="'Liberation Sans', sans-serif" font-size="12.5" font-weight="normal" fill="#666" textLength="47.20" lengthAdjust="spacingAndGlyphs">$10,000</text>
<text x="640.00" y="486.8" font-family="'Liberation Sans', sans-serif" font-size="12.5" font-weight="normal" fill="#666" textLength="47.20" lengthAdjust="spacingAndGlyphs">$20,000</text>
</svg>
</body></html>
